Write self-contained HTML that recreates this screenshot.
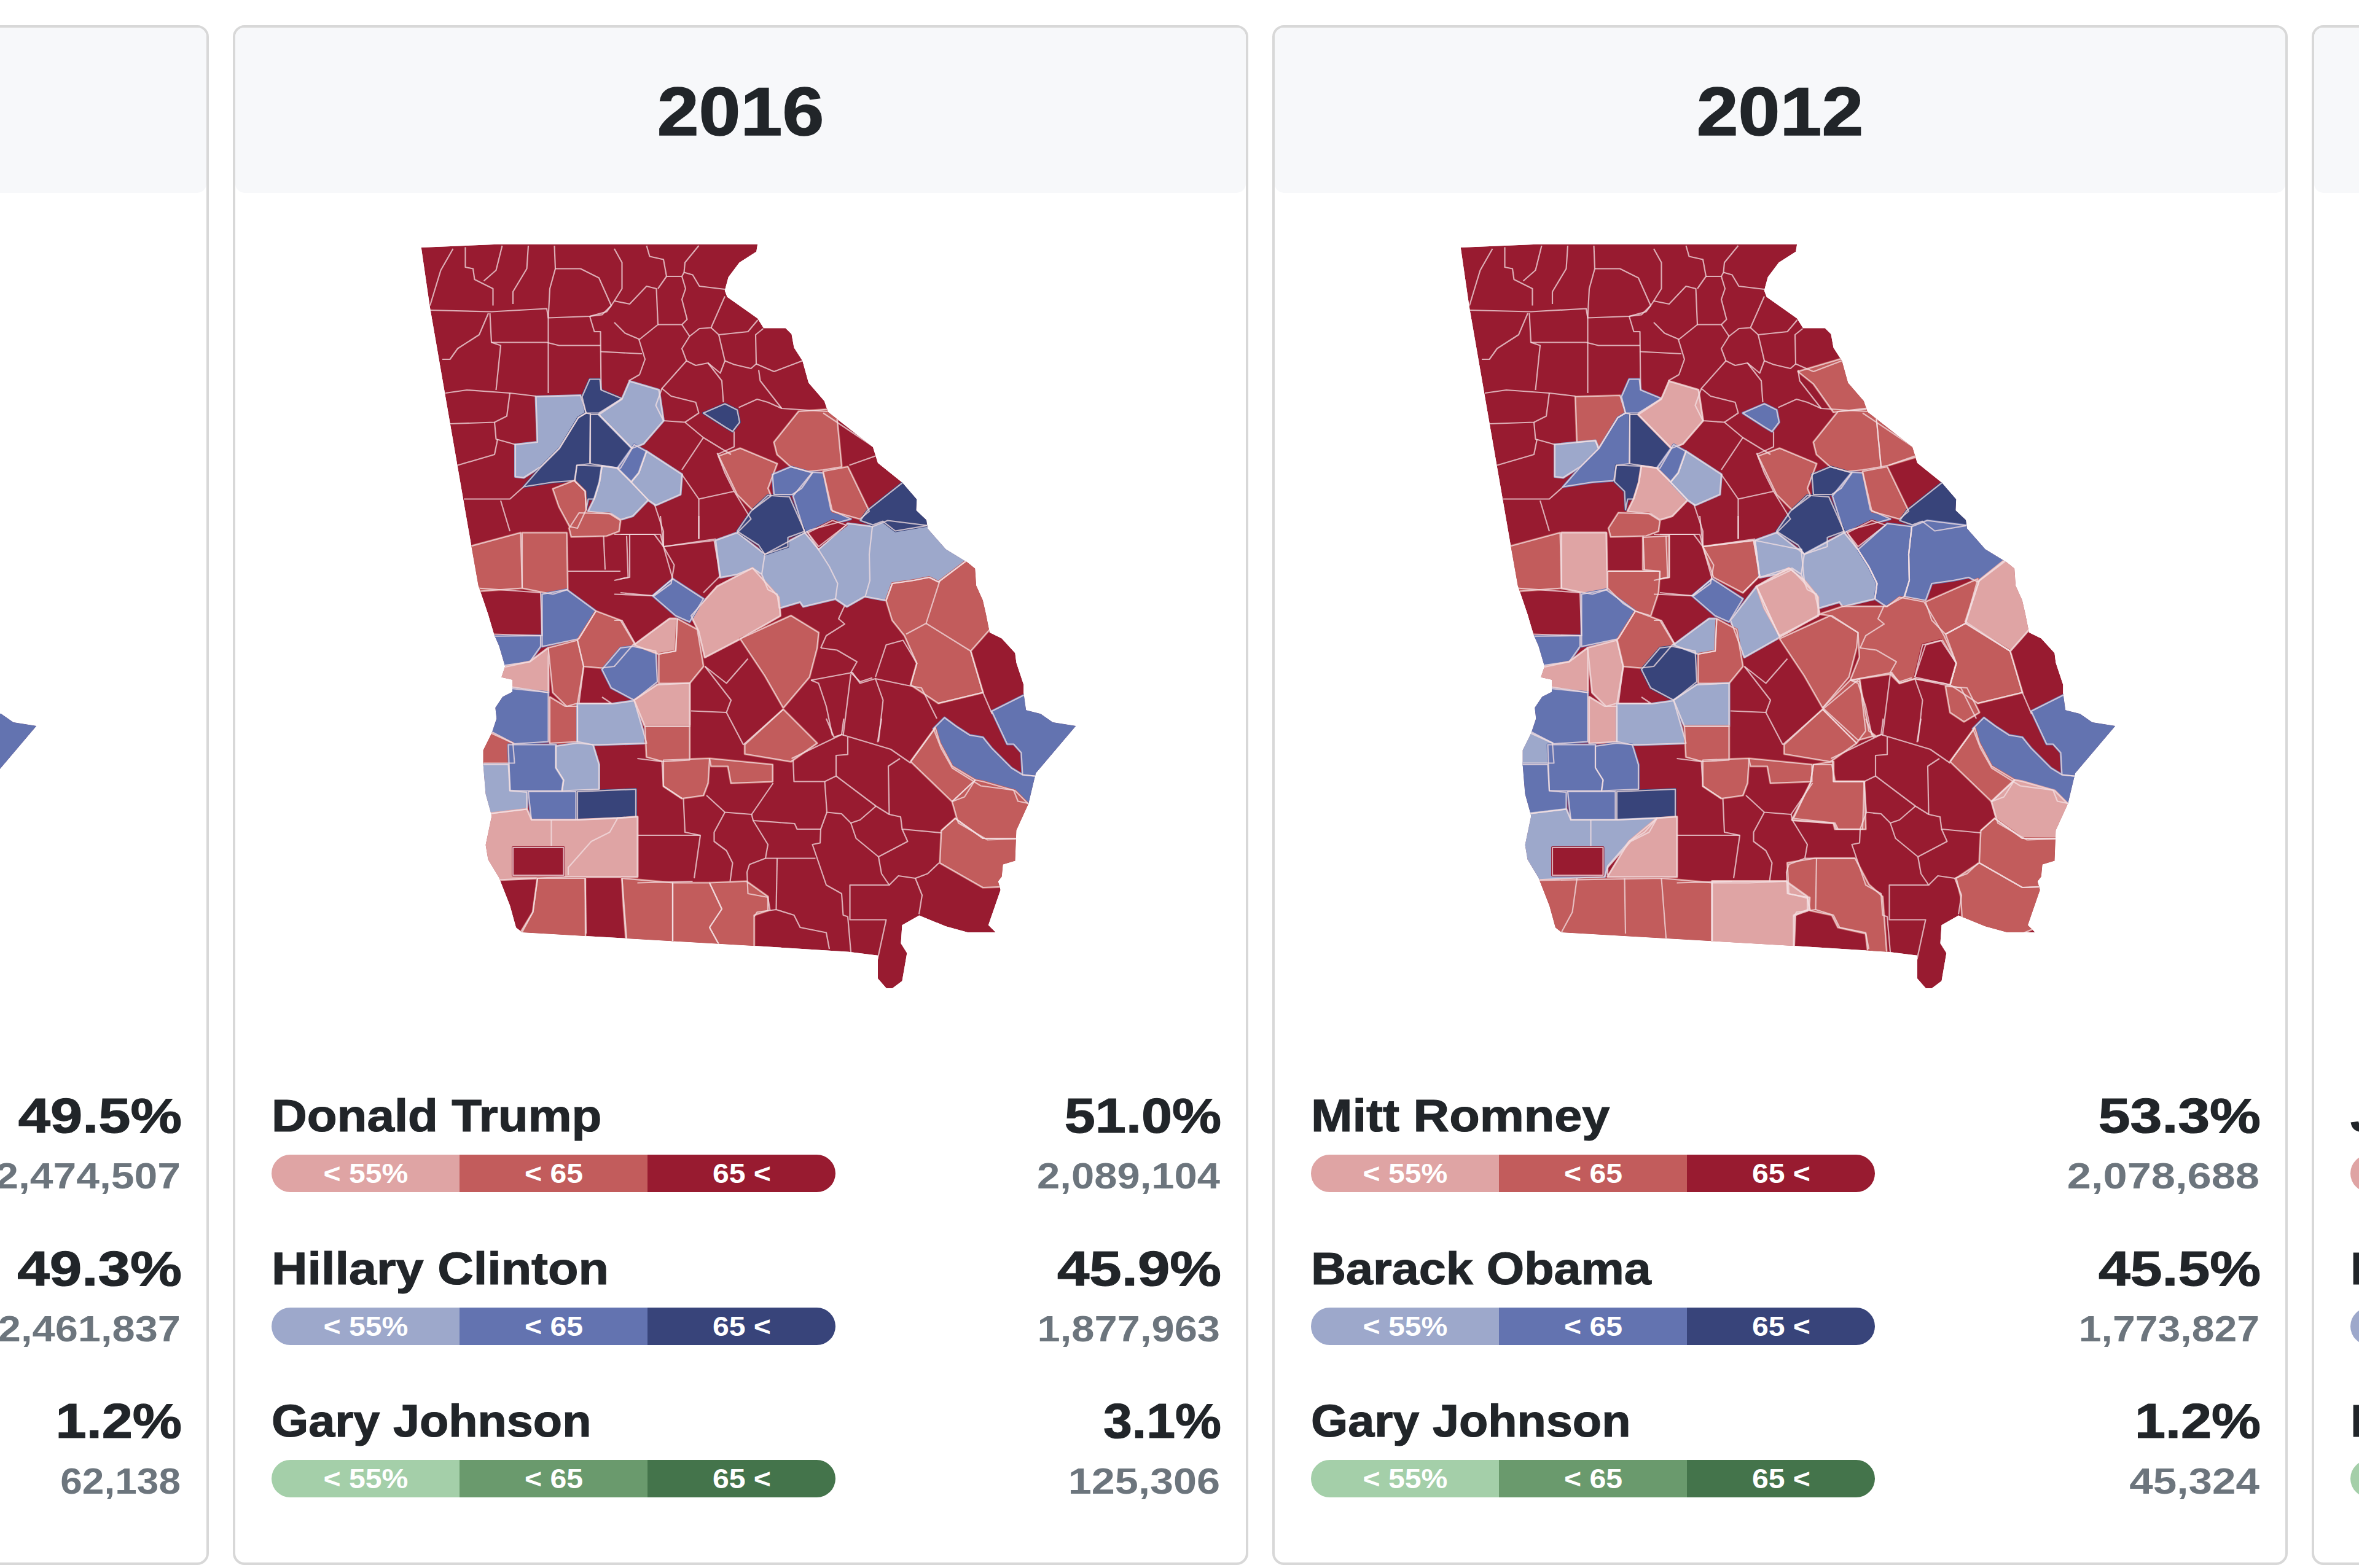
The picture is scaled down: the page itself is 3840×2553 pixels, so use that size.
<!DOCTYPE html>
<html><head><meta charset="utf-8"><style>
*{margin:0;padding:0;box-sizing:border-box}
html,body{width:3840px;height:2553px;overflow:hidden;background:#fff}
body{position:relative;font-family:"Liberation Sans",sans-serif}
.card{position:absolute;top:41px;width:1653px;height:2507px;border:4px solid #d8d8d8;border-radius:19px;background:#fff}
.hdr{position:absolute;top:45px;width:1645px;height:269px;background:#f7f8fa;border-radius:15px}
.year{position:absolute;top:127px;width:1653px;text-align:center;font-weight:bold;font-size:111px;line-height:111px;color:#212529;transform:scaleX(1.1);-webkit-text-stroke:1.5px #212529}
.name{position:absolute;font-weight:bold;font-size:75px;line-height:75px;color:#212529;white-space:nowrap;transform-origin:0 0;-webkit-text-stroke:1.2px #212529}
.pct{position:absolute;width:600px;text-align:right;font-weight:bold;font-size:80px;line-height:80px;color:#212529;white-space:nowrap;transform-origin:100% 0;-webkit-text-stroke:1.2px #212529}
.votes{position:absolute;width:600px;text-align:right;font-weight:bold;font-size:59px;line-height:59px;color:#6c757d;white-space:nowrap;transform-origin:100% 0}
.bar{position:absolute;width:918px;height:61px;border-radius:31px;overflow:hidden;display:flex}
.bar span{flex:1;height:61px;text-align:center;color:#fff;font-size:45px;line-height:61px;white-space:nowrap}
.bar b{display:inline-block;transform:scaleX(1.07);font-weight:bold}
svg.map{position:absolute;left:0;top:0}
</style></head><body>
<div class="card" style="left:-1313px"></div>
<div class="hdr" style="left:-1309px"></div>
<div class="year" style="left:-1313px">2020</div>
<div class="name" style="left:-1250px;top:1779px;transform:scaleX(1.06)">Joe Biden</div>
<div class="pct" style="left:-304px;top:1777px;transform:scaleX(1.174)">49.5%</div>
<div class="votes" style="left:-306px;top:1886px;transform:scaleX(1.15)">2,474,507</div>
<div class="bar" style="left:-1250px;top:1880px"><span style="background:#9da8cb"><b>&lt; 55%</b></span><span style="background:#6373b0"><b>&lt; 65</b></span><span style="background:#38447a"><b>65 &lt;</b></span></div>
<div class="name" style="left:-1250px;top:2027.5px;transform:scaleX(1.066)">Donald Trump</div>
<div class="pct" style="left:-304px;top:2025.5px;transform:scaleX(1.18)">49.3%</div>
<div class="votes" style="left:-306px;top:2134.5px;transform:scaleX(1.132)">2,461,837</div>
<div class="bar" style="left:-1250px;top:2128.5px"><span style="background:#dfa4a4"><b>&lt; 55%</b></span><span style="background:#c25c5c"><b>&lt; 65</b></span><span style="background:#981b30"><b>65 &lt;</b></span></div>
<div class="name" style="left:-1250px;top:2276px;transform:scaleX(1.06)">Jo Jorgensen</div>
<div class="pct" style="left:-304px;top:2274px;transform:scaleX(1.127)">1.2%</div>
<div class="votes" style="left:-306px;top:2383px;transform:scaleX(1.085)">62,138</div>
<div class="bar" style="left:-1250px;top:2377px"><span style="background:#a4cfa9"><b>&lt; 55%</b></span><span style="background:#6a9a6d"><b>&lt; 65</b></span><span style="background:#44744b"><b>65 &lt;</b></span></div><div class="card" style="left:379px"></div>
<div class="hdr" style="left:383px"></div>
<div class="year" style="left:379px">2016</div>
<div class="name" style="left:442px;top:1779px;transform:scaleX(1.066)">Donald Trump</div>
<div class="pct" style="left:1388px;top:1777px;transform:scaleX(1.125)">51.0%</div>
<div class="votes" style="left:1386px;top:1886px;transform:scaleX(1.135)">2,089,104</div>
<div class="bar" style="left:442px;top:1880px"><span style="background:#dfa4a4"><b>&lt; 55%</b></span><span style="background:#c25c5c"><b>&lt; 65</b></span><span style="background:#981b30"><b>65 &lt;</b></span></div>
<div class="name" style="left:442px;top:2027.5px;transform:scaleX(1.08)">Hillary Clinton</div>
<div class="pct" style="left:1388px;top:2025.5px;transform:scaleX(1.177)">45.9%</div>
<div class="votes" style="left:1386px;top:2134.5px;transform:scaleX(1.133)">1,877,963</div>
<div class="bar" style="left:442px;top:2128.5px"><span style="background:#9da8cb"><b>&lt; 55%</b></span><span style="background:#6373b0"><b>&lt; 65</b></span><span style="background:#38447a"><b>65 &lt;</b></span></div>
<div class="name" style="left:442px;top:2276px;transform:scaleX(1.032)">Gary Johnson</div>
<div class="pct" style="left:1388px;top:2274px;transform:scaleX(1.053)">3.1%</div>
<div class="votes" style="left:1386px;top:2383px;transform:scaleX(1.159)">125,306</div>
<div class="bar" style="left:442px;top:2377px"><span style="background:#a4cfa9"><b>&lt; 55%</b></span><span style="background:#6a9a6d"><b>&lt; 65</b></span><span style="background:#44744b"><b>65 &lt;</b></span></div><div class="card" style="left:2071px"></div>
<div class="hdr" style="left:2075px"></div>
<div class="year" style="left:2071px">2012</div>
<div class="name" style="left:2134px;top:1779px;transform:scaleX(1.081)">Mitt Romney</div>
<div class="pct" style="left:3080px;top:1777px;transform:scaleX(1.165)">53.3%</div>
<div class="votes" style="left:3078px;top:1886px;transform:scaleX(1.193)">2,078,688</div>
<div class="bar" style="left:2134px;top:1880px"><span style="background:#dfa4a4"><b>&lt; 55%</b></span><span style="background:#c25c5c"><b>&lt; 65</b></span><span style="background:#981b30"><b>65 &lt;</b></span></div>
<div class="name" style="left:2134px;top:2027.5px;transform:scaleX(1.054)">Barack Obama</div>
<div class="pct" style="left:3080px;top:2025.5px;transform:scaleX(1.164)">45.5%</div>
<div class="votes" style="left:3078px;top:2134.5px;transform:scaleX(1.121)">1,773,827</div>
<div class="bar" style="left:2134px;top:2128.5px"><span style="background:#9da8cb"><b>&lt; 55%</b></span><span style="background:#6373b0"><b>&lt; 65</b></span><span style="background:#38447a"><b>65 &lt;</b></span></div>
<div class="name" style="left:2134px;top:2276px;transform:scaleX(1.032)">Gary Johnson</div>
<div class="pct" style="left:3080px;top:2274px;transform:scaleX(1.124)">1.2%</div>
<div class="votes" style="left:3078px;top:2383px;transform:scaleX(1.173)">45,324</div>
<div class="bar" style="left:2134px;top:2377px"><span style="background:#a4cfa9"><b>&lt; 55%</b></span><span style="background:#6a9a6d"><b>&lt; 65</b></span><span style="background:#44744b"><b>65 &lt;</b></span></div><div class="card" style="left:3763px"></div>
<div class="hdr" style="left:3767px"></div>
<div class="year" style="left:3763px">2008</div>
<div class="name" style="left:3826px;top:1779px;transform:scaleX(1.06)">John McCain</div>
<div class="pct" style="left:4772px;top:1777px;transform:scaleX(1.15)">52.2%</div>
<div class="votes" style="left:4770px;top:1886px;transform:scaleX(1.15)">2,048,759</div>
<div class="bar" style="left:3826px;top:1880px"><span style="background:#dfa4a4"><b>&lt; 55%</b></span><span style="background:#c25c5c"><b>&lt; 65</b></span><span style="background:#981b30"><b>65 &lt;</b></span></div>
<div class="name" style="left:3826px;top:2027.5px;transform:scaleX(1.054)">Barack Obama</div>
<div class="pct" style="left:4772px;top:2025.5px;transform:scaleX(1.15)">47.0%</div>
<div class="votes" style="left:4770px;top:2134.5px;transform:scaleX(1.15)">1,844,123</div>
<div class="bar" style="left:3826px;top:2128.5px"><span style="background:#9da8cb"><b>&lt; 55%</b></span><span style="background:#6373b0"><b>&lt; 65</b></span><span style="background:#38447a"><b>65 &lt;</b></span></div>
<div class="name" style="left:3826px;top:2276px;transform:scaleX(1.06)">Bob Barr</div>
<div class="pct" style="left:4772px;top:2274px;transform:scaleX(1.15)">0.7%</div>
<div class="votes" style="left:4770px;top:2383px;transform:scaleX(1.15)">28,731</div>
<div class="bar" style="left:3826px;top:2377px"><span style="background:#a4cfa9"><b>&lt; 55%</b></span><span style="background:#6a9a6d"><b>&lt; 65</b></span><span style="background:#44744b"><b>65 &lt;</b></span></div>
<svg class="map" width="3840" height="2553" viewBox="0 0 3840 2553"><defs>
<clipPath id="gc0"><polygon points="-1006.3,402.9 -881.7,397.8 -458.8,397.8 -460.8,409.7 -488.5,427.5 -506.3,451.2 -512.2,472.9 -508.3,483.6 -458.8,518.4 -448.9,534.3 -413.3,534.3 -403.5,544.1 -399.5,565.9 -385.7,587.6 -375.8,623.2 -350.1,652.9 -344.1,670.7 -271.0,728.0 -263.0,753.8 -223.5,785.4 -199.8,813.1 -200.6,830.9 -184.0,846.7 -182.0,860.6 -152.3,894.2 -116.7,915.9 -104.8,925.8 -102.9,953.5 -92.2,977.2 -87.0,1000.0 -81.1,1029.7 -61.3,1039.6 -39.6,1063.3 -37.6,1079.1 -25.7,1114.7 -25.7,1128.5 -21.8,1156.2 2.0,1162.2 21.7,1176.0 59.3,1181.9 -6.0,1259.0 -17.8,1308.5 -37.6,1352.0 -39.6,1401.5 -59.4,1407.4 -61.3,1427.2 -67.3,1435.1 -63.3,1448.9 -83.1,1506.3 -71.2,1518.1 -116.7,1518.1 -152.3,1508.2 -195.8,1490.5 -223.5,1506.3 -225.5,1535.9 -215.6,1551.7 -223.5,1597.2 -239.3,1609.1 -249.2,1609.1 -263.0,1593.3 -263.0,1555.7 -310.5,1549.8 -464.8,1539.9 -842.1,1518.1 -852.0,1510.2 -861.9,1474.6 -879.7,1429.1 -897.5,1399.5 -901.5,1375.7 -891.6,1328.3 -901.5,1292.7 -905.4,1245.2 -905.4,1221.5 -891.6,1193.8 -883.7,1170.1 -885.7,1152.3 -873.8,1134.5 -858.0,1126.6 -858.0,1106.8 -875.8,1102.8 -869.8,1085.0 -879.7,1051.4 -887.6,1033.6 -897.5,1000.0 -913.3,953.5 -925.2,886.3 -992.4,498.7"/></clipPath>
<clipPath id="gc1"><polygon points="685.7,402.9 810.3,397.8 1233.2,397.8 1231.2,409.7 1203.5,427.5 1185.7,451.2 1179.8,472.9 1183.7,483.6 1233.2,518.4 1243.1,534.3 1278.7,534.3 1288.5,544.1 1292.5,565.9 1306.3,587.6 1316.2,623.2 1341.9,652.9 1347.9,670.7 1421.0,728.0 1429.0,753.8 1468.5,785.4 1492.2,813.1 1491.4,830.9 1508.0,846.7 1510.0,860.6 1539.7,894.2 1575.3,915.9 1587.2,925.8 1589.1,953.5 1599.8,977.2 1605.0,1000.0 1610.9,1029.7 1630.7,1039.6 1652.4,1063.3 1654.4,1079.1 1666.3,1114.7 1666.3,1128.5 1670.2,1156.2 1694.0,1162.2 1713.7,1176.0 1751.3,1181.9 1686.0,1259.0 1674.2,1308.5 1654.4,1352.0 1652.4,1401.5 1632.6,1407.4 1630.7,1427.2 1624.7,1435.1 1628.7,1448.9 1608.9,1506.3 1620.8,1518.1 1575.3,1518.1 1539.7,1508.2 1496.2,1490.5 1468.5,1506.3 1466.5,1535.9 1476.4,1551.7 1468.5,1597.2 1452.7,1609.1 1442.8,1609.1 1429.0,1593.3 1429.0,1555.7 1381.5,1549.8 1227.2,1539.9 849.9,1518.1 840.0,1510.2 830.1,1474.6 812.3,1429.1 794.5,1399.5 790.5,1375.7 800.4,1328.3 790.5,1292.7 786.6,1245.2 786.6,1221.5 800.4,1193.8 808.3,1170.1 806.3,1152.3 818.2,1134.5 834.0,1126.6 834.0,1106.8 816.2,1102.8 822.2,1085.0 812.3,1051.4 804.4,1033.6 794.5,1000.0 778.7,953.5 766.8,886.3 699.6,498.7"/></clipPath>
<clipPath id="gc2"><polygon points="2377.7,402.9 2502.3,397.8 2925.2,397.8 2923.2,409.7 2895.5,427.5 2877.7,451.2 2871.8,472.9 2875.7,483.6 2925.2,518.4 2935.1,534.3 2970.7,534.3 2980.5,544.1 2984.5,565.9 2998.3,587.6 3008.2,623.2 3033.9,652.9 3039.9,670.7 3113.0,728.0 3121.0,753.8 3160.5,785.4 3184.2,813.1 3183.4,830.9 3200.0,846.7 3202.0,860.6 3231.7,894.2 3267.3,915.9 3279.2,925.8 3281.1,953.5 3291.8,977.2 3297.0,1000.0 3302.9,1029.7 3322.7,1039.6 3344.4,1063.3 3346.4,1079.1 3358.3,1114.7 3358.3,1128.5 3362.2,1156.2 3386.0,1162.2 3405.7,1176.0 3443.3,1181.9 3378.0,1259.0 3366.2,1308.5 3346.4,1352.0 3344.4,1401.5 3324.6,1407.4 3322.7,1427.2 3316.7,1435.1 3320.7,1448.9 3300.9,1506.3 3312.8,1518.1 3267.3,1518.1 3231.7,1508.2 3188.2,1490.5 3160.5,1506.3 3158.5,1535.9 3168.4,1551.7 3160.5,1597.2 3144.7,1609.1 3134.8,1609.1 3121.0,1593.3 3121.0,1555.7 3073.5,1549.8 2919.2,1539.9 2541.9,1518.1 2532.0,1510.2 2522.1,1474.6 2504.3,1429.1 2486.5,1399.5 2482.5,1375.7 2492.4,1328.3 2482.5,1292.7 2478.6,1245.2 2478.6,1221.5 2492.4,1193.8 2500.3,1170.1 2498.3,1152.3 2510.2,1134.5 2526.0,1126.6 2526.0,1106.8 2508.2,1102.8 2514.2,1085.0 2504.3,1051.4 2496.4,1033.6 2486.5,1000.0 2470.7,953.5 2458.8,886.3 2391.6,498.7"/></clipPath>
</defs>
<g clip-path="url(#gc0)"><polygon points="-1006.3,402.9 -881.7,397.8 -458.8,397.8 -460.8,409.7 -488.5,427.5 -506.3,451.2 -512.2,472.9 -508.3,483.6 -458.8,518.4 -448.9,534.3 -413.3,534.3 -403.5,544.1 -399.5,565.9 -385.7,587.6 -375.8,623.2 -350.1,652.9 -344.1,670.7 -271.0,728.0 -263.0,753.8 -223.5,785.4 -199.8,813.1 -200.6,830.9 -184.0,846.7 -182.0,860.6 -152.3,894.2 -116.7,915.9 -104.8,925.8 -102.9,953.5 -92.2,977.2 -87.0,1000.0 -81.1,1029.7 -61.3,1039.6 -39.6,1063.3 -37.6,1079.1 -25.7,1114.7 -25.7,1128.5 -21.8,1156.2 2.0,1162.2 21.7,1176.0 59.3,1181.9 -6.0,1259.0 -17.8,1308.5 -37.6,1352.0 -39.6,1401.5 -59.4,1407.4 -61.3,1427.2 -67.3,1435.1 -63.3,1448.9 -83.1,1506.3 -71.2,1518.1 -116.7,1518.1 -152.3,1508.2 -195.8,1490.5 -223.5,1506.3 -225.5,1535.9 -215.6,1551.7 -223.5,1597.2 -239.3,1609.1 -249.2,1609.1 -263.0,1593.3 -263.0,1555.7 -310.5,1549.8 -464.8,1539.9 -842.1,1518.1 -852.0,1510.2 -861.9,1474.6 -879.7,1429.1 -897.5,1399.5 -901.5,1375.7 -891.6,1328.3 -901.5,1292.7 -905.4,1245.2 -905.4,1221.5 -891.6,1193.8 -883.7,1170.1 -885.7,1152.3 -873.8,1134.5 -858.0,1126.6 -858.0,1106.8 -875.8,1102.8 -869.8,1085.0 -879.7,1051.4 -887.6,1033.6 -897.5,1000.0 -913.3,953.5 -925.2,886.3 -992.4,498.7" fill="#981b30"/>
<polygon points="-819.5,646.0 -747.0,644.0 -738.0,672.5 -750.5,680.0 -782.0,730.0 -812.0,760.0 -839.5,777.5 -853.0,776.0 -853.0,724.0 -817.0,720.0" fill="#9da8cb" stroke="#9da8cb" stroke-width="4" stroke-linejoin="round"/>
<polygon points="-744.5,646.0 -732.0,617.5 -715.5,617.5 -713.5,635.0 -679.5,649.0 -717.0,672.5 -738.0,672.5" fill="#38447a" stroke="#38447a" stroke-width="4" stroke-linejoin="round"/>
<polygon points="-839.5,792.5 -812.0,761.0 -781.0,730.0 -750.5,680.0 -738.0,672.5 -731.0,674.0 -732.0,755.0 -753.0,757.5 -757.0,782.5 -792.0,785.0" fill="#38447a" stroke="#38447a" stroke-width="4" stroke-linejoin="round"/>
<polygon points="-731.0,675.0 -717.0,675.0 -663.0,730.0 -682.0,762.5 -731.0,755.0" fill="#38447a" stroke="#38447a" stroke-width="4" stroke-linejoin="round"/>
<polygon points="-753.0,757.5 -712.0,759.0 -716.0,785.0 -724.5,812.5 -734.5,812.5 -738.0,830.0 -739.5,800.0 -756.0,784.0" fill="#38447a" stroke="#38447a" stroke-width="4" stroke-linejoin="round"/>
<polygon points="-717.0,675.0 -679.5,650.0 -667.0,621.0 -619.5,635.0 -612.0,685.0 -644.5,722.5 -663.0,730.0" fill="#9da8cb" stroke="#9da8cb" stroke-width="4" stroke-linejoin="round"/>
<polygon points="-687.0,762.5 -659.5,724.0 -639.5,735.0 -652.0,770.0 -664.5,785.0" fill="#6373b0" stroke="#6373b0" stroke-width="4" stroke-linejoin="round"/>
<polygon points="-712.0,759.0 -687.0,762.5 -664.5,785.0 -637.0,814.0 -662.0,840.0 -682.0,846.0 -697.0,836.5 -734.5,832.5 -724.5,812.5 -716.0,785.0" fill="#9da8cb" stroke="#9da8cb" stroke-width="4" stroke-linejoin="round"/>
<polygon points="-664.5,785.0 -652.0,770.0 -639.5,735.0 -582.0,772.5 -584.5,805.0 -624.5,822.5 -637.0,814.0" fill="#9da8cb" stroke="#9da8cb" stroke-width="4" stroke-linejoin="round"/>
<polygon points="-792.0,796.0 -757.0,782.5 -739.5,800.0 -738.0,830.0 -752.0,860.0 -764.5,857.5 -782.0,825.0" fill="#c25c5c" stroke="#c25c5c" stroke-width="4" stroke-linejoin="round"/>
<polygon points="-749.5,835.0 -699.5,836.5 -682.0,847.5 -684.5,865.0 -704.5,872.5 -762.0,874.0 -765.5,860.0" fill="#c25c5c" stroke="#c25c5c" stroke-width="4" stroke-linejoin="round"/>
<polygon points="-547.0,672.5 -512.0,657.5 -492.0,667.5 -488.0,687.5 -499.5,702.5 -512.0,695.0" fill="#38447a" stroke="#38447a" stroke-width="4" stroke-linejoin="round"/>
<polygon points="-522.0,742.5 -487.0,730.0 -427.0,755.0 -442.0,795.0 -437.0,807.5 -467.0,830.0 -492.0,805.0" fill="#c25c5c" stroke="#c25c5c" stroke-width="4" stroke-linejoin="round"/>
<polygon points="-432.0,720.0 -392.0,670.0 -331.1,665.5 -322.0,760.0 -352.0,765.0 -377.0,767.5 -404.5,760.0 -427.0,740.0" fill="#c25c5c" stroke="#c25c5c" stroke-width="4" stroke-linejoin="round"/>
<polygon points="-434.5,772.5 -404.5,760.0 -369.5,770.0 -387.0,795.0 -402.0,805.0 -432.0,805.0" fill="#6373b0" stroke="#6373b0" stroke-width="4" stroke-linejoin="round"/>
<polygon points="-401.0,807.5 -369.5,769.0 -352.0,770.0 -339.5,830.0 -307.0,845.0 -372.0,862.5 -382.0,867.5" fill="#6373b0" stroke="#6373b0" stroke-width="4" stroke-linejoin="round"/>
<polygon points="-352.0,767.5 -312.0,760.0 -277.0,832.5 -292.0,845.0 -337.0,832.5" fill="#c25c5c" stroke="#c25c5c" stroke-width="4" stroke-linejoin="round"/>
<polygon points="-527.0,880.0 -492.0,867.5 -447.0,902.5 -382.0,867.5 -359.5,895.0 -312.0,852.5 -272.0,857.5 -247.0,847.5 -168.3,857.3 -148.4,877.4 -108.1,904.8 -164.5,947.5 -179.5,940.0 -204.5,945.0 -239.5,950.0 -249.5,977.5 -284.5,971.0 -313.5,987.5 -332.0,975.0 -384.5,987.5 -389.5,980.0 -423.5,990.0 -427.0,967.5 -442.0,960.0 -452.0,935.0 -467.0,925.0 -492.0,935.0 -519.5,940.0" fill="#9da8cb" stroke="#9da8cb" stroke-width="4" stroke-linejoin="round"/>
<polygon points="-279.7,830.9 -212.0,777.3 -186.3,809.5 -187.1,827.3 -170.5,843.1 -169.9,853.6 -234.6,864.5 -255.1,848.7 -271.0,854.6 -291.5,847.5" fill="#38447a" stroke="#38447a" stroke-width="4" stroke-linejoin="round"/>
<polygon points="-492.0,865.0 -469.5,832.5 -442.0,806.5 -407.0,809.0 -382.0,865.0 -409.5,875.0 -409.5,890.0 -447.0,902.5 -457.0,887.5" fill="#38447a" stroke="#38447a" stroke-width="4" stroke-linejoin="round"/>
<polygon points="-377.0,867.5 -337.0,847.5 -314.5,855.0 -359.5,890.0" fill="#981b30" stroke="#981b30" stroke-width="4" stroke-linejoin="round"/>
<polygon points="-249.5,977.5 -239.5,950.0 -204.5,945.0 -179.5,940.0 -164.5,947.5 -108.1,904.8 -89.5,944.7 -75.4,987.9 -74.4,1017.4 -112.0,1060.0 -92.0,1127.5 -164.5,1145.0 -209.5,1115.0 -199.5,1080.0 -219.5,1035.0 -239.5,1010.0" fill="#c25c5c" stroke="#c25c5c" stroke-width="4" stroke-linejoin="round"/>
<polygon points="-77.5,1158.0 -11.7,1125.0 -11.7,1120.0 8.2,1149.6 73.0,1170.0 73.0,1185.0 6.9,1265.1 -27.5,1261.5 -29.5,1225.5 -42.0,1211.5 -52.5,1211.5" fill="#6373b0" stroke="#6373b0" stroke-width="4" stroke-linejoin="round"/>
<polygon points="-172.5,1186.5 -154.5,1168.5 -135.0,1183.0 -113.5,1197.0 -92.0,1200.5 -77.5,1218.5 -45.5,1250.5 -27.5,1261.5 6.9,1265.1 -4.0,1311.1 -35.0,1304.5 -42.0,1286.5 -95.5,1279.5 -142.0,1250.5 -160.0,1218.5" fill="#6373b0" stroke="#6373b0" stroke-width="4" stroke-linejoin="round"/>
<polygon points="-209.5,1240.0 -169.5,1185.0 -162.0,1210.0 -142.0,1247.5 -104.5,1270.0 -122.0,1297.5 -142.0,1305.0" fill="#c25c5c" stroke="#c25c5c" stroke-width="4" stroke-linejoin="round"/>
<polygon points="-142.0,1305.0 -104.5,1270.0 -92.0,1272.5 -39.5,1287.5 -7.5,1319.5 -24.1,1365.5 -84.5,1367.5 -132.0,1340.0" fill="#c25c5c" stroke="#c25c5c" stroke-width="4" stroke-linejoin="round"/>
<polygon points="-159.5,1352.5 -137.0,1332.5 -92.0,1365.0 -24.1,1365.5 -43.4,1417.2 -46.7,1421.5 -50.3,1443.4 -92.0,1445.0 -162.0,1405.0" fill="#c25c5c" stroke="#c25c5c" stroke-width="4" stroke-linejoin="round"/>
<polygon points="-938.2,892.7 -844.5,867.5 -842.0,957.5 -924.7,963.5" fill="#c25c5c" stroke="#c25c5c" stroke-width="4" stroke-linejoin="round"/>
<polygon points="-842.0,867.5 -769.5,867.5 -768.0,960.0 -792.0,967.5 -842.0,957.5" fill="#c25c5c" stroke="#c25c5c" stroke-width="4" stroke-linejoin="round"/>
<polygon points="-809.5,967.5 -769.5,960.0 -722.0,995.0 -749.5,1040.0 -809.5,1052.5" fill="#6373b0" stroke="#6373b0" stroke-width="4" stroke-linejoin="round"/>
<polygon points="-901.5,1036.0 -812.0,1035.0 -812.0,1052.5 -829.5,1077.5 -883.8,1085.0" fill="#6373b0" stroke="#6373b0" stroke-width="4" stroke-linejoin="round"/>
<polygon points="-889.4,1099.4 -883.3,1088.8 -829.5,1077.5 -799.5,1055.0 -799.5,1127.5 -868.4,1117.2 -872.0,1110.0" fill="#dfa4a4" stroke="#dfa4a4" stroke-width="4" stroke-linejoin="round"/>
<polygon points="-799.5,1055.0 -752.0,1042.5 -742.0,1085.0 -752.0,1145.0 -769.5,1150.0 -792.0,1127.5" fill="#c25c5c" stroke="#c25c5c" stroke-width="4" stroke-linejoin="round"/>
<polygon points="-752.0,1042.5 -722.0,995.0 -682.0,1010.0 -659.5,1047.5 -692.0,1085.0 -712.0,1087.5 -742.0,1085.0" fill="#c25c5c" stroke="#c25c5c" stroke-width="4" stroke-linejoin="round"/>
<polygon points="-712.0,1090.0 -682.0,1055.0 -662.0,1052.5 -624.5,1060.0 -622.0,1110.0 -659.5,1140.0 -697.0,1120.0" fill="#6373b0" stroke="#6373b0" stroke-width="4" stroke-linejoin="round"/>
<polygon points="-659.5,1050.0 -602.0,1007.5 -589.5,1007.5 -592.0,1060.0 -619.5,1065.0" fill="#dfa4a4" stroke="#dfa4a4" stroke-width="4" stroke-linejoin="round"/>
<polygon points="-619.5,1065.0 -592.0,1060.0 -589.5,1007.5 -557.0,1025.0 -547.0,1085.0 -569.5,1112.5 -619.5,1112.5" fill="#c25c5c" stroke="#c25c5c" stroke-width="4" stroke-linejoin="round"/>
<polygon points="-567.0,1002.5 -524.5,955.0 -467.0,925.0 -424.5,972.5 -422.0,1002.5 -487.0,1040.0 -544.5,1070.0 -554.5,1027.5" fill="#dfa4a4" stroke="#dfa4a4" stroke-width="4" stroke-linejoin="round"/>
<polygon points="-629.5,970.0 -597.0,942.5 -547.0,975.0 -569.5,1012.5 -592.0,1002.5" fill="#6373b0" stroke="#6373b0" stroke-width="4" stroke-linejoin="round"/>
<polygon points="-487.0,1040.0 -404.5,1002.5 -359.5,1030.0 -362.0,1055.0 -374.5,1102.5 -417.0,1152.5 -447.0,1100.0" fill="#c25c5c" stroke="#c25c5c" stroke-width="4" stroke-linejoin="round"/>
<polygon points="-896.4,1143.2 -874.8,1119.4 -799.5,1127.5 -799.5,1207.5 -854.5,1211.0 -903.5,1185.3" fill="#6373b0" stroke="#6373b0" stroke-width="4" stroke-linejoin="round"/>
<polygon points="-797.0,1135.0 -772.0,1150.0 -752.0,1150.0 -752.0,1207.5 -797.0,1210.0" fill="#c25c5c" stroke="#c25c5c" stroke-width="4" stroke-linejoin="round"/>
<polygon points="-752.0,1146.0 -694.5,1146.0 -659.5,1141.0 -639.5,1210.0 -717.0,1212.5 -727.0,1212.5 -752.0,1207.5" fill="#9da8cb" stroke="#9da8cb" stroke-width="4" stroke-linejoin="round"/>
<polygon points="-659.5,1140.0 -622.0,1115.0 -569.5,1112.5 -569.5,1182.5 -642.0,1182.5" fill="#dfa4a4" stroke="#dfa4a4" stroke-width="4" stroke-linejoin="round"/>
<polygon points="-642.0,1182.5 -569.5,1182.5 -569.5,1237.5 -612.0,1240.0 -639.5,1232.5" fill="#c25c5c" stroke="#c25c5c" stroke-width="4" stroke-linejoin="round"/>
<polygon points="-917.7,1214.7 -904.5,1188.3 -857.0,1210.0 -854.5,1242.5 -919.4,1242.5" fill="#c25c5c" stroke="#c25c5c" stroke-width="4" stroke-linejoin="round"/>
<polygon points="-864.5,1212.5 -787.0,1212.5 -787.0,1250.0 -774.5,1270.0 -777.0,1287.5 -862.0,1287.5" fill="#6373b0" stroke="#6373b0" stroke-width="4" stroke-linejoin="round"/>
<polygon points="-787.0,1215.0 -752.0,1210.0 -727.0,1212.5 -717.0,1245.0 -717.0,1285.0 -777.0,1287.5 -774.5,1270.0 -787.0,1250.0" fill="#9da8cb" stroke="#9da8cb" stroke-width="4" stroke-linejoin="round"/>
<polygon points="-919.4,1245.0 -864.5,1245.0 -862.0,1287.5 -834.5,1290.0 -834.5,1317.5 -906.7,1326.2 -916.0,1287.2" fill="#9da8cb" stroke="#9da8cb" stroke-width="4" stroke-linejoin="round"/>
<polygon points="-832.0,1289.0 -754.5,1289.0 -754.5,1335.0 -827.0,1335.0" fill="#6373b0" stroke="#6373b0" stroke-width="4" stroke-linejoin="round"/>
<polygon points="-752.0,1289.0 -657.0,1285.0 -657.0,1330.0 -752.0,1335.0" fill="#38447a" stroke="#38447a" stroke-width="4" stroke-linejoin="round"/>
<polygon points="-906.7,1326.2 -834.5,1317.5 -827.0,1335.0 -752.0,1335.0 -687.0,1332.5 -654.5,1330.0 -654.5,1427.5 -767.0,1427.5 -893.7,1433.0 -914.5,1382.5" fill="#dfa4a4" stroke="#dfa4a4" stroke-width="4" stroke-linejoin="round"/>
<polygon points="-857.0,1380.0 -774.5,1380.0 -774.5,1425.0 -857.0,1425.0" fill="#981b30" stroke="#981b30" stroke-width="4" stroke-linejoin="round"/>
<polygon points="-851.1,1528.9 -824.5,1485.0 -817.0,1430.0 -739.5,1430.0 -739.0,1538.1" fill="#c25c5c" stroke="#c25c5c" stroke-width="4" stroke-linejoin="round"/>
<polygon points="-679.5,1430.0 -597.0,1437.5 -597.0,1546.3 -672.0,1541.9 -677.0,1475.0" fill="#c25c5c" stroke="#c25c5c" stroke-width="4" stroke-linejoin="round"/>
<polygon points="-597.0,1437.5 -537.0,1437.5 -517.0,1480.0 -537.0,1510.0 -514.5,1551.0 -597.0,1546.3" fill="#c25c5c" stroke="#c25c5c" stroke-width="4" stroke-linejoin="round"/>
<polygon points="-537.0,1437.5 -477.0,1435.0 -442.0,1460.0 -442.0,1482.5 -464.5,1490.0 -464.5,1553.9 -514.5,1551.0 -537.0,1510.0 -517.0,1480.0" fill="#c25c5c" stroke="#c25c5c" stroke-width="4" stroke-linejoin="round"/>
<polygon points="-479.5,1212.5 -417.0,1155.0 -362.0,1210.0 -404.5,1240.0 -479.5,1227.5" fill="#c25c5c" stroke="#c25c5c" stroke-width="4" stroke-linejoin="round"/>
<polygon points="-612.0,1237.5 -537.0,1235.0 -539.5,1275.0 -547.0,1295.0 -582.0,1300.0 -612.0,1280.0" fill="#c25c5c" stroke="#c25c5c" stroke-width="4" stroke-linejoin="round"/>
<polygon points="-537.0,1235.0 -434.5,1245.0 -434.5,1272.5 -502.0,1275.0 -507.0,1247.5 -534.5,1247.5" fill="#c25c5c" stroke="#c25c5c" stroke-width="4" stroke-linejoin="round"/>
<polygon points="-819.5,646.0 -747.0,644.0 -738.0,672.5 -750.5,680.0 -782.0,730.0 -812.0,760.0 -839.5,777.5 -853.0,776.0 -853.0,724.0 -817.0,720.0" fill="none" stroke="#f3dfe2" stroke-opacity="0.75" stroke-width="2.2" stroke-linejoin="round"/>
<polygon points="-744.5,646.0 -732.0,617.5 -715.5,617.5 -713.5,635.0 -679.5,649.0 -717.0,672.5 -738.0,672.5" fill="none" stroke="#f3dfe2" stroke-opacity="0.75" stroke-width="2.2" stroke-linejoin="round"/>
<polygon points="-839.5,792.5 -812.0,761.0 -781.0,730.0 -750.5,680.0 -738.0,672.5 -731.0,674.0 -732.0,755.0 -753.0,757.5 -757.0,782.5 -792.0,785.0" fill="none" stroke="#f3dfe2" stroke-opacity="0.75" stroke-width="2.2" stroke-linejoin="round"/>
<polygon points="-731.0,675.0 -717.0,675.0 -663.0,730.0 -682.0,762.5 -731.0,755.0" fill="none" stroke="#f3dfe2" stroke-opacity="0.75" stroke-width="2.2" stroke-linejoin="round"/>
<polygon points="-753.0,757.5 -712.0,759.0 -716.0,785.0 -724.5,812.5 -734.5,812.5 -738.0,830.0 -739.5,800.0 -756.0,784.0" fill="none" stroke="#f3dfe2" stroke-opacity="0.75" stroke-width="2.2" stroke-linejoin="round"/>
<polygon points="-717.0,675.0 -679.5,650.0 -667.0,621.0 -619.5,635.0 -612.0,685.0 -644.5,722.5 -663.0,730.0" fill="none" stroke="#f3dfe2" stroke-opacity="0.75" stroke-width="2.2" stroke-linejoin="round"/>
<polygon points="-687.0,762.5 -659.5,724.0 -639.5,735.0 -652.0,770.0 -664.5,785.0" fill="none" stroke="#f3dfe2" stroke-opacity="0.75" stroke-width="2.2" stroke-linejoin="round"/>
<polygon points="-712.0,759.0 -687.0,762.5 -664.5,785.0 -637.0,814.0 -662.0,840.0 -682.0,846.0 -697.0,836.5 -734.5,832.5 -724.5,812.5 -716.0,785.0" fill="none" stroke="#f3dfe2" stroke-opacity="0.75" stroke-width="2.2" stroke-linejoin="round"/>
<polygon points="-664.5,785.0 -652.0,770.0 -639.5,735.0 -582.0,772.5 -584.5,805.0 -624.5,822.5 -637.0,814.0" fill="none" stroke="#f3dfe2" stroke-opacity="0.75" stroke-width="2.2" stroke-linejoin="round"/>
<polygon points="-792.0,796.0 -757.0,782.5 -739.5,800.0 -738.0,830.0 -752.0,860.0 -764.5,857.5 -782.0,825.0" fill="none" stroke="#f3dfe2" stroke-opacity="0.75" stroke-width="2.2" stroke-linejoin="round"/>
<polygon points="-749.5,835.0 -699.5,836.5 -682.0,847.5 -684.5,865.0 -704.5,872.5 -762.0,874.0 -765.5,860.0" fill="none" stroke="#f3dfe2" stroke-opacity="0.75" stroke-width="2.2" stroke-linejoin="round"/>
<polygon points="-547.0,672.5 -512.0,657.5 -492.0,667.5 -488.0,687.5 -499.5,702.5 -512.0,695.0" fill="none" stroke="#f3dfe2" stroke-opacity="0.75" stroke-width="2.2" stroke-linejoin="round"/>
<polygon points="-522.0,742.5 -487.0,730.0 -427.0,755.0 -442.0,795.0 -437.0,807.5 -467.0,830.0 -492.0,805.0" fill="none" stroke="#f3dfe2" stroke-opacity="0.75" stroke-width="2.2" stroke-linejoin="round"/>
<polygon points="-432.0,720.0 -392.0,670.0 -331.1,665.5 -322.0,760.0 -352.0,765.0 -377.0,767.5 -404.5,760.0 -427.0,740.0" fill="none" stroke="#f3dfe2" stroke-opacity="0.75" stroke-width="2.2" stroke-linejoin="round"/>
<polygon points="-434.5,772.5 -404.5,760.0 -369.5,770.0 -387.0,795.0 -402.0,805.0 -432.0,805.0" fill="none" stroke="#f3dfe2" stroke-opacity="0.75" stroke-width="2.2" stroke-linejoin="round"/>
<polygon points="-401.0,807.5 -369.5,769.0 -352.0,770.0 -339.5,830.0 -307.0,845.0 -372.0,862.5 -382.0,867.5" fill="none" stroke="#f3dfe2" stroke-opacity="0.75" stroke-width="2.2" stroke-linejoin="round"/>
<polygon points="-352.0,767.5 -312.0,760.0 -277.0,832.5 -292.0,845.0 -337.0,832.5" fill="none" stroke="#f3dfe2" stroke-opacity="0.75" stroke-width="2.2" stroke-linejoin="round"/>
<polygon points="-527.0,880.0 -492.0,867.5 -447.0,902.5 -382.0,867.5 -359.5,895.0 -312.0,852.5 -272.0,857.5 -247.0,847.5 -168.3,857.3 -148.4,877.4 -108.1,904.8 -164.5,947.5 -179.5,940.0 -204.5,945.0 -239.5,950.0 -249.5,977.5 -284.5,971.0 -313.5,987.5 -332.0,975.0 -384.5,987.5 -389.5,980.0 -423.5,990.0 -427.0,967.5 -442.0,960.0 -452.0,935.0 -467.0,925.0 -492.0,935.0 -519.5,940.0" fill="none" stroke="#f3dfe2" stroke-opacity="0.75" stroke-width="2.2" stroke-linejoin="round"/>
<polygon points="-279.7,830.9 -212.0,777.3 -186.3,809.5 -187.1,827.3 -170.5,843.1 -169.9,853.6 -234.6,864.5 -255.1,848.7 -271.0,854.6 -291.5,847.5" fill="none" stroke="#f3dfe2" stroke-opacity="0.75" stroke-width="2.2" stroke-linejoin="round"/>
<polygon points="-492.0,865.0 -469.5,832.5 -442.0,806.5 -407.0,809.0 -382.0,865.0 -409.5,875.0 -409.5,890.0 -447.0,902.5 -457.0,887.5" fill="none" stroke="#f3dfe2" stroke-opacity="0.75" stroke-width="2.2" stroke-linejoin="round"/>
<polygon points="-377.0,867.5 -337.0,847.5 -314.5,855.0 -359.5,890.0" fill="none" stroke="#f3dfe2" stroke-opacity="0.75" stroke-width="2.2" stroke-linejoin="round"/>
<polygon points="-249.5,977.5 -239.5,950.0 -204.5,945.0 -179.5,940.0 -164.5,947.5 -108.1,904.8 -89.5,944.7 -75.4,987.9 -74.4,1017.4 -112.0,1060.0 -92.0,1127.5 -164.5,1145.0 -209.5,1115.0 -199.5,1080.0 -219.5,1035.0 -239.5,1010.0" fill="none" stroke="#f3dfe2" stroke-opacity="0.75" stroke-width="2.2" stroke-linejoin="round"/>
<polygon points="-77.5,1158.0 -11.7,1125.0 -11.7,1120.0 8.2,1149.6 73.0,1170.0 73.0,1185.0 6.9,1265.1 -27.5,1261.5 -29.5,1225.5 -42.0,1211.5 -52.5,1211.5" fill="none" stroke="#f3dfe2" stroke-opacity="0.75" stroke-width="2.2" stroke-linejoin="round"/>
<polygon points="-172.5,1186.5 -154.5,1168.5 -135.0,1183.0 -113.5,1197.0 -92.0,1200.5 -77.5,1218.5 -45.5,1250.5 -27.5,1261.5 6.9,1265.1 -4.0,1311.1 -35.0,1304.5 -42.0,1286.5 -95.5,1279.5 -142.0,1250.5 -160.0,1218.5" fill="none" stroke="#f3dfe2" stroke-opacity="0.75" stroke-width="2.2" stroke-linejoin="round"/>
<polygon points="-209.5,1240.0 -169.5,1185.0 -162.0,1210.0 -142.0,1247.5 -104.5,1270.0 -122.0,1297.5 -142.0,1305.0" fill="none" stroke="#f3dfe2" stroke-opacity="0.75" stroke-width="2.2" stroke-linejoin="round"/>
<polygon points="-142.0,1305.0 -104.5,1270.0 -92.0,1272.5 -39.5,1287.5 -7.5,1319.5 -24.1,1365.5 -84.5,1367.5 -132.0,1340.0" fill="none" stroke="#f3dfe2" stroke-opacity="0.75" stroke-width="2.2" stroke-linejoin="round"/>
<polygon points="-159.5,1352.5 -137.0,1332.5 -92.0,1365.0 -24.1,1365.5 -43.4,1417.2 -46.7,1421.5 -50.3,1443.4 -92.0,1445.0 -162.0,1405.0" fill="none" stroke="#f3dfe2" stroke-opacity="0.75" stroke-width="2.2" stroke-linejoin="round"/>
<polygon points="-938.2,892.7 -844.5,867.5 -842.0,957.5 -924.7,963.5" fill="none" stroke="#f3dfe2" stroke-opacity="0.75" stroke-width="2.2" stroke-linejoin="round"/>
<polygon points="-842.0,867.5 -769.5,867.5 -768.0,960.0 -792.0,967.5 -842.0,957.5" fill="none" stroke="#f3dfe2" stroke-opacity="0.75" stroke-width="2.2" stroke-linejoin="round"/>
<polygon points="-809.5,967.5 -769.5,960.0 -722.0,995.0 -749.5,1040.0 -809.5,1052.5" fill="none" stroke="#f3dfe2" stroke-opacity="0.75" stroke-width="2.2" stroke-linejoin="round"/>
<polygon points="-901.5,1036.0 -812.0,1035.0 -812.0,1052.5 -829.5,1077.5 -883.8,1085.0" fill="none" stroke="#f3dfe2" stroke-opacity="0.75" stroke-width="2.2" stroke-linejoin="round"/>
<polygon points="-889.4,1099.4 -883.3,1088.8 -829.5,1077.5 -799.5,1055.0 -799.5,1127.5 -868.4,1117.2 -872.0,1110.0" fill="none" stroke="#f3dfe2" stroke-opacity="0.75" stroke-width="2.2" stroke-linejoin="round"/>
<polygon points="-799.5,1055.0 -752.0,1042.5 -742.0,1085.0 -752.0,1145.0 -769.5,1150.0 -792.0,1127.5" fill="none" stroke="#f3dfe2" stroke-opacity="0.75" stroke-width="2.2" stroke-linejoin="round"/>
<polygon points="-752.0,1042.5 -722.0,995.0 -682.0,1010.0 -659.5,1047.5 -692.0,1085.0 -712.0,1087.5 -742.0,1085.0" fill="none" stroke="#f3dfe2" stroke-opacity="0.75" stroke-width="2.2" stroke-linejoin="round"/>
<polygon points="-712.0,1090.0 -682.0,1055.0 -662.0,1052.5 -624.5,1060.0 -622.0,1110.0 -659.5,1140.0 -697.0,1120.0" fill="none" stroke="#f3dfe2" stroke-opacity="0.75" stroke-width="2.2" stroke-linejoin="round"/>
<polygon points="-659.5,1050.0 -602.0,1007.5 -589.5,1007.5 -592.0,1060.0 -619.5,1065.0" fill="none" stroke="#f3dfe2" stroke-opacity="0.75" stroke-width="2.2" stroke-linejoin="round"/>
<polygon points="-619.5,1065.0 -592.0,1060.0 -589.5,1007.5 -557.0,1025.0 -547.0,1085.0 -569.5,1112.5 -619.5,1112.5" fill="none" stroke="#f3dfe2" stroke-opacity="0.75" stroke-width="2.2" stroke-linejoin="round"/>
<polygon points="-567.0,1002.5 -524.5,955.0 -467.0,925.0 -424.5,972.5 -422.0,1002.5 -487.0,1040.0 -544.5,1070.0 -554.5,1027.5" fill="none" stroke="#f3dfe2" stroke-opacity="0.75" stroke-width="2.2" stroke-linejoin="round"/>
<polygon points="-629.5,970.0 -597.0,942.5 -547.0,975.0 -569.5,1012.5 -592.0,1002.5" fill="none" stroke="#f3dfe2" stroke-opacity="0.75" stroke-width="2.2" stroke-linejoin="round"/>
<polygon points="-487.0,1040.0 -404.5,1002.5 -359.5,1030.0 -362.0,1055.0 -374.5,1102.5 -417.0,1152.5 -447.0,1100.0" fill="none" stroke="#f3dfe2" stroke-opacity="0.75" stroke-width="2.2" stroke-linejoin="round"/>
<polygon points="-896.4,1143.2 -874.8,1119.4 -799.5,1127.5 -799.5,1207.5 -854.5,1211.0 -903.5,1185.3" fill="none" stroke="#f3dfe2" stroke-opacity="0.75" stroke-width="2.2" stroke-linejoin="round"/>
<polygon points="-797.0,1135.0 -772.0,1150.0 -752.0,1150.0 -752.0,1207.5 -797.0,1210.0" fill="none" stroke="#f3dfe2" stroke-opacity="0.75" stroke-width="2.2" stroke-linejoin="round"/>
<polygon points="-752.0,1146.0 -694.5,1146.0 -659.5,1141.0 -639.5,1210.0 -717.0,1212.5 -727.0,1212.5 -752.0,1207.5" fill="none" stroke="#f3dfe2" stroke-opacity="0.75" stroke-width="2.2" stroke-linejoin="round"/>
<polygon points="-659.5,1140.0 -622.0,1115.0 -569.5,1112.5 -569.5,1182.5 -642.0,1182.5" fill="none" stroke="#f3dfe2" stroke-opacity="0.75" stroke-width="2.2" stroke-linejoin="round"/>
<polygon points="-642.0,1182.5 -569.5,1182.5 -569.5,1237.5 -612.0,1240.0 -639.5,1232.5" fill="none" stroke="#f3dfe2" stroke-opacity="0.75" stroke-width="2.2" stroke-linejoin="round"/>
<polygon points="-917.7,1214.7 -904.5,1188.3 -857.0,1210.0 -854.5,1242.5 -919.4,1242.5" fill="none" stroke="#f3dfe2" stroke-opacity="0.75" stroke-width="2.2" stroke-linejoin="round"/>
<polygon points="-864.5,1212.5 -787.0,1212.5 -787.0,1250.0 -774.5,1270.0 -777.0,1287.5 -862.0,1287.5" fill="none" stroke="#f3dfe2" stroke-opacity="0.75" stroke-width="2.2" stroke-linejoin="round"/>
<polygon points="-787.0,1215.0 -752.0,1210.0 -727.0,1212.5 -717.0,1245.0 -717.0,1285.0 -777.0,1287.5 -774.5,1270.0 -787.0,1250.0" fill="none" stroke="#f3dfe2" stroke-opacity="0.75" stroke-width="2.2" stroke-linejoin="round"/>
<polygon points="-919.4,1245.0 -864.5,1245.0 -862.0,1287.5 -834.5,1290.0 -834.5,1317.5 -906.7,1326.2 -916.0,1287.2" fill="none" stroke="#f3dfe2" stroke-opacity="0.75" stroke-width="2.2" stroke-linejoin="round"/>
<polygon points="-832.0,1289.0 -754.5,1289.0 -754.5,1335.0 -827.0,1335.0" fill="none" stroke="#f3dfe2" stroke-opacity="0.75" stroke-width="2.2" stroke-linejoin="round"/>
<polygon points="-752.0,1289.0 -657.0,1285.0 -657.0,1330.0 -752.0,1335.0" fill="none" stroke="#f3dfe2" stroke-opacity="0.75" stroke-width="2.2" stroke-linejoin="round"/>
<polygon points="-906.7,1326.2 -834.5,1317.5 -827.0,1335.0 -752.0,1335.0 -687.0,1332.5 -654.5,1330.0 -654.5,1427.5 -767.0,1427.5 -893.7,1433.0 -914.5,1382.5" fill="none" stroke="#f3dfe2" stroke-opacity="0.75" stroke-width="2.2" stroke-linejoin="round"/>
<polygon points="-857.0,1380.0 -774.5,1380.0 -774.5,1425.0 -857.0,1425.0" fill="none" stroke="#f3dfe2" stroke-opacity="0.75" stroke-width="2.2" stroke-linejoin="round"/>
<polygon points="-851.1,1528.9 -824.5,1485.0 -817.0,1430.0 -739.5,1430.0 -739.0,1538.1" fill="none" stroke="#f3dfe2" stroke-opacity="0.75" stroke-width="2.2" stroke-linejoin="round"/>
<polygon points="-679.5,1430.0 -597.0,1437.5 -597.0,1546.3 -672.0,1541.9 -677.0,1475.0" fill="none" stroke="#f3dfe2" stroke-opacity="0.75" stroke-width="2.2" stroke-linejoin="round"/>
<polygon points="-597.0,1437.5 -537.0,1437.5 -517.0,1480.0 -537.0,1510.0 -514.5,1551.0 -597.0,1546.3" fill="none" stroke="#f3dfe2" stroke-opacity="0.75" stroke-width="2.2" stroke-linejoin="round"/>
<polygon points="-537.0,1437.5 -477.0,1435.0 -442.0,1460.0 -442.0,1482.5 -464.5,1490.0 -464.5,1553.9 -514.5,1551.0 -537.0,1510.0 -517.0,1480.0" fill="none" stroke="#f3dfe2" stroke-opacity="0.75" stroke-width="2.2" stroke-linejoin="round"/>
<polygon points="-479.5,1212.5 -417.0,1155.0 -362.0,1210.0 -404.5,1240.0 -479.5,1227.5" fill="none" stroke="#f3dfe2" stroke-opacity="0.75" stroke-width="2.2" stroke-linejoin="round"/>
<polygon points="-612.0,1237.5 -537.0,1235.0 -539.5,1275.0 -547.0,1295.0 -582.0,1300.0 -612.0,1280.0" fill="none" stroke="#f3dfe2" stroke-opacity="0.75" stroke-width="2.2" stroke-linejoin="round"/>
<polygon points="-537.0,1235.0 -434.5,1245.0 -434.5,1272.5 -502.0,1275.0 -507.0,1247.5 -534.5,1247.5" fill="none" stroke="#f3dfe2" stroke-opacity="0.75" stroke-width="2.2" stroke-linejoin="round"/>
<polyline points="-954.5,405.0 -974.5,440.0 -992.0,497.5" fill="none" stroke="#f3dfe2" stroke-opacity="0.75" stroke-width="2.2" stroke-linejoin="round"/>
<polyline points="-934.5,402.5 -934.5,435.0 -922.0,437.5 -919.5,455.0 -889.5,470.0 -889.5,497.5" fill="none" stroke="#f3dfe2" stroke-opacity="0.75" stroke-width="2.2" stroke-linejoin="round"/>
<polyline points="-874.5,400.0 -884.5,440.0 -904.5,457.5" fill="none" stroke="#f3dfe2" stroke-opacity="0.75" stroke-width="2.2" stroke-linejoin="round"/>
<polyline points="-832.0,400.0 -834.5,437.5 -857.0,475.0 -857.0,495.0" fill="none" stroke="#f3dfe2" stroke-opacity="0.75" stroke-width="2.2" stroke-linejoin="round"/>
<polyline points="-789.5,400.0 -788.0,437.5 -797.0,470.0 -799.5,517.5" fill="none" stroke="#f3dfe2" stroke-opacity="0.75" stroke-width="2.2" stroke-linejoin="round"/>
<polyline points="-788.0,437.5 -747.0,437.5 -717.0,452.5 -707.0,475.0 -697.0,497.5 -712.0,512.5 -732.0,515.0" fill="none" stroke="#f3dfe2" stroke-opacity="0.75" stroke-width="2.2" stroke-linejoin="round"/>
<polyline points="-992.0,505.0 -892.0,507.5 -802.0,502.5 -799.5,517.5 -732.0,515.0 -704.5,507.5 -697.0,497.5" fill="none" stroke="#f3dfe2" stroke-opacity="0.75" stroke-width="2.2" stroke-linejoin="round"/>
<polyline points="-897.0,510.0 -912.0,545.0 -947.0,567.5 -959.5,585.0 -972.0,585.0" fill="none" stroke="#f3dfe2" stroke-opacity="0.75" stroke-width="2.2" stroke-linejoin="round"/>
<polyline points="-892.0,557.5 -802.0,557.5 -782.0,562.5 -714.5,562.5" fill="none" stroke="#f3dfe2" stroke-opacity="0.75" stroke-width="2.2" stroke-linejoin="round"/>
<polyline points="-894.5,510.0 -892.0,557.5 -877.0,562.5 -884.5,635.0" fill="none" stroke="#f3dfe2" stroke-opacity="0.75" stroke-width="2.2" stroke-linejoin="round"/>
<polyline points="-799.5,517.5 -799.5,640.0" fill="none" stroke="#f3dfe2" stroke-opacity="0.75" stroke-width="2.2" stroke-linejoin="round"/>
<polyline points="-732.0,515.0 -724.5,540.0 -714.5,540.0 -713.5,635.0" fill="none" stroke="#f3dfe2" stroke-opacity="0.75" stroke-width="2.2" stroke-linejoin="round"/>
<polyline points="-967.0,640.0 -932.0,635.0 -862.0,640.0 -819.5,645.0" fill="none" stroke="#f3dfe2" stroke-opacity="0.75" stroke-width="2.2" stroke-linejoin="round"/>
<polyline points="-862.0,640.0 -867.0,677.5 -887.0,687.5 -959.5,690.0" fill="none" stroke="#f3dfe2" stroke-opacity="0.75" stroke-width="2.2" stroke-linejoin="round"/>
<polyline points="-887.0,687.5 -884.5,715.0 -852.0,724.0" fill="none" stroke="#f3dfe2" stroke-opacity="0.75" stroke-width="2.2" stroke-linejoin="round"/>
<polyline points="-947.0,757.5 -887.0,740.0 -882.0,715.0" fill="none" stroke="#f3dfe2" stroke-opacity="0.75" stroke-width="2.2" stroke-linejoin="round"/>
<polyline points="-937.0,812.5 -862.0,812.5 -839.5,792.5" fill="none" stroke="#f3dfe2" stroke-opacity="0.75" stroke-width="2.2" stroke-linejoin="round"/>
<polyline points="-877.0,815.0 -862.0,865.0" fill="none" stroke="#f3dfe2" stroke-opacity="0.75" stroke-width="2.2" stroke-linejoin="round"/>
<polyline points="-709.5,872.5 -707.0,927.5" fill="none" stroke="#f3dfe2" stroke-opacity="0.75" stroke-width="2.2" stroke-linejoin="round"/>
<polyline points="-667.0,870.0 -667.0,940.0 -682.0,942.5" fill="none" stroke="#f3dfe2" stroke-opacity="0.75" stroke-width="2.2" stroke-linejoin="round"/>
<polyline points="-767.0,930.0 -682.0,930.0" fill="none" stroke="#f3dfe2" stroke-opacity="0.75" stroke-width="2.2" stroke-linejoin="round"/>
<polyline points="-682.0,965.0 -629.5,970.0 -597.0,942.5 -612.0,890.0 -627.0,870.0 -682.0,870.0" fill="none" stroke="#f3dfe2" stroke-opacity="0.75" stroke-width="2.2" stroke-linejoin="round"/>
<polyline points="-612.0,890.0 -529.5,880.0 -519.5,937.5 -547.0,965.0" fill="none" stroke="#f3dfe2" stroke-opacity="0.75" stroke-width="2.2" stroke-linejoin="round"/>
<polyline points="-627.0,820.0 -612.0,865.0 -612.0,890.0" fill="none" stroke="#f3dfe2" stroke-opacity="0.75" stroke-width="2.2" stroke-linejoin="round"/>
<polyline points="-582.0,772.5 -554.5,812.5 -554.5,877.5" fill="none" stroke="#f3dfe2" stroke-opacity="0.75" stroke-width="2.2" stroke-linejoin="round"/>
<polyline points="-554.5,812.5 -497.0,800.0 -469.5,845.0 -492.0,867.5" fill="none" stroke="#f3dfe2" stroke-opacity="0.75" stroke-width="2.2" stroke-linejoin="round"/>
<polyline points="-497.0,800.0 -512.0,770.0 -524.5,737.5" fill="none" stroke="#f3dfe2" stroke-opacity="0.75" stroke-width="2.2" stroke-linejoin="round"/>
<polyline points="-914.5,957.5 -812.0,965.0 -809.5,1035.0 -889.5,1032.5" fill="none" stroke="#f3dfe2" stroke-opacity="0.75" stroke-width="2.2" stroke-linejoin="round"/>
<polyline points="-309.5,757.5 -267.0,742.5" fill="none" stroke="#f3dfe2" stroke-opacity="0.75" stroke-width="2.2" stroke-linejoin="round"/>
<polyline points="-352.0,672.5 -272.0,726.0" fill="none" stroke="#f3dfe2" stroke-opacity="0.75" stroke-width="2.2" stroke-linejoin="round"/>
<polyline points="-692.0,870.0 -617.0,870.0 -612.0,890.0 -527.0,877.5" fill="none" stroke="#f3dfe2" stroke-opacity="0.75" stroke-width="2.2" stroke-linejoin="round"/>
<polyline points="-617.0,840.0 -612.0,890.0 -594.5,920.0 -599.5,950.0 -627.0,970.0" fill="none" stroke="#f3dfe2" stroke-opacity="0.75" stroke-width="2.2" stroke-linejoin="round"/>
<polyline points="-554.5,840.0 -554.5,877.5" fill="none" stroke="#f3dfe2" stroke-opacity="0.75" stroke-width="2.2" stroke-linejoin="round"/>
<polyline points="-692.0,967.5 -627.0,970.0" fill="none" stroke="#f3dfe2" stroke-opacity="0.75" stroke-width="2.2" stroke-linejoin="round"/>
<polyline points="-672.0,872.5 -669.5,940.0 -692.0,945.0" fill="none" stroke="#f3dfe2" stroke-opacity="0.75" stroke-width="2.2" stroke-linejoin="round"/>
<polyline points="-692.0,1010.0 -679.5,1010.0 -657.0,1050.0" fill="none" stroke="#f3dfe2" stroke-opacity="0.75" stroke-width="2.2" stroke-linejoin="round"/>
<polyline points="-544.5,1085.0 -502.0,1140.0 -509.5,1160.0 -482.0,1212.5" fill="none" stroke="#f3dfe2" stroke-opacity="0.75" stroke-width="2.2" stroke-linejoin="round"/>
<polyline points="-567.0,1157.5 -509.5,1160.0" fill="none" stroke="#f3dfe2" stroke-opacity="0.75" stroke-width="2.2" stroke-linejoin="round"/>
<polyline points="-544.5,1085.0 -509.5,1112.5 -474.5,1072.5" fill="none" stroke="#f3dfe2" stroke-opacity="0.75" stroke-width="2.2" stroke-linejoin="round"/>
<polyline points="-372.0,1107.5 -359.5,1112.5 -347.0,1150.0 -337.0,1197.5" fill="none" stroke="#f3dfe2" stroke-opacity="0.75" stroke-width="2.2" stroke-linejoin="round"/>
<polyline points="-307.0,1097.5 -319.5,1197.5" fill="none" stroke="#f3dfe2" stroke-opacity="0.75" stroke-width="2.2" stroke-linejoin="round"/>
<polyline points="-267.0,1105.0 -254.5,1140.0 -262.0,1207.5" fill="none" stroke="#f3dfe2" stroke-opacity="0.75" stroke-width="2.2" stroke-linejoin="round"/>
<polyline points="-219.5,1115.0 -192.0,1120.0 -167.0,1170.0" fill="none" stroke="#f3dfe2" stroke-opacity="0.75" stroke-width="2.2" stroke-linejoin="round"/>
<polyline points="-372.0,1107.5 -304.5,1095.0 -292.0,1112.5 -267.0,1105.0 -219.5,1115.0" fill="none" stroke="#f3dfe2" stroke-opacity="0.75" stroke-width="2.2" stroke-linejoin="round"/>
<polyline points="-356.0,1055.0 -329.5,1058.5 -297.0,1077.5 -307.0,1095.0 -292.0,1110.0 -272.0,1103.5" fill="none" stroke="#f3dfe2" stroke-opacity="0.75" stroke-width="2.2" stroke-linejoin="round"/>
<polyline points="-317.0,986.0 -327.0,1007.5 -317.0,1016.0 -347.0,1035.0 -356.0,1055.0" fill="none" stroke="#f3dfe2" stroke-opacity="0.75" stroke-width="2.2" stroke-linejoin="round"/>
<polyline points="-267.0,1102.5 -249.5,1050.0 -222.0,1042.5 -199.5,1080.0 -209.5,1115.0" fill="none" stroke="#f3dfe2" stroke-opacity="0.75" stroke-width="2.2" stroke-linejoin="round"/>
<polyline points="-579.5,1300.0 -577.0,1355.0 -552.0,1360.0 -562.0,1430.0" fill="none" stroke="#f3dfe2" stroke-opacity="0.75" stroke-width="2.2" stroke-linejoin="round"/>
<polyline points="-654.5,1360.0 -552.0,1360.0" fill="none" stroke="#f3dfe2" stroke-opacity="0.75" stroke-width="2.2" stroke-linejoin="round"/>
<polyline points="-112.0,1060.0 -92.0,1127.5 -77.0,1162.5" fill="none" stroke="#f3dfe2" stroke-opacity="0.75" stroke-width="2.2" stroke-linejoin="round"/>
<polyline points="-164.5,1145.0 -92.0,1127.5" fill="none" stroke="#f3dfe2" stroke-opacity="0.75" stroke-width="2.2" stroke-linejoin="round"/>
<polyline points="-654.5,1235.0 -614.5,1240.0 -612.0,1280.0 -582.0,1300.0" fill="none" stroke="#f3dfe2" stroke-opacity="0.75" stroke-width="2.2" stroke-linejoin="round"/>
<polyline points="-482.0,1212.5 -417.0,1155.0" fill="none" stroke="#f3dfe2" stroke-opacity="0.75" stroke-width="2.2" stroke-linejoin="round"/>
<polyline points="-654.5,1437.5 -564.5,1435.0" fill="none" stroke="#f3dfe2" stroke-opacity="0.75" stroke-width="2.2" stroke-linejoin="round"/>
<polyline points="-739.5,1430.0 -738.0,1520.0" fill="none" stroke="#f3dfe2" stroke-opacity="0.75" stroke-width="2.2" stroke-linejoin="round"/>
<polyline points="-679.5,1430.0 -672.0,1527.5" fill="none" stroke="#f3dfe2" stroke-opacity="0.75" stroke-width="2.2" stroke-linejoin="round"/>
<polyline points="-597.0,1437.5 -597.0,1532.5" fill="none" stroke="#f3dfe2" stroke-opacity="0.75" stroke-width="2.2" stroke-linejoin="round"/>
<polyline points="-817.0,1430.0 -824.5,1485.0 -842.0,1517.5" fill="none" stroke="#f3dfe2" stroke-opacity="0.75" stroke-width="2.2" stroke-linejoin="round"/>
<polyline points="-712.0,1135.0 -697.0,1145.0 -749.5,1145.0 -742.0,1085.0" fill="none" stroke="#f3dfe2" stroke-opacity="0.75" stroke-width="2.2" stroke-linejoin="round"/>
<polyline points="-378.5,865.0 -359.5,895.0 -342.0,922.5 -328.5,950.0 -332.0,975.0" fill="none" stroke="#f3dfe2" stroke-opacity="0.75" stroke-width="2.2" stroke-linejoin="round"/>
<polyline points="-272.0,857.5 -277.0,902.5 -276.0,945.0 -283.5,971.0" fill="none" stroke="#f3dfe2" stroke-opacity="0.75" stroke-width="2.2" stroke-linejoin="round"/>
<polyline points="-447.0,902.5 -452.0,935.0" fill="none" stroke="#f3dfe2" stroke-opacity="0.75" stroke-width="2.2" stroke-linejoin="round"/>
<polyline points="-692.0,405.0 -679.5,427.5 -679.5,470.0 -692.0,490.0" fill="none" stroke="#f3dfe2" stroke-opacity="0.75" stroke-width="2.2" stroke-linejoin="round"/>
<polyline points="-697.0,497.5 -692.0,490.0 -667.0,495.0 -639.5,466.0 -623.5,470.0 -621.0,528.5 -651.0,552.5 -674.5,542.5 -692.0,525.0" fill="none" stroke="#f3dfe2" stroke-opacity="0.75" stroke-width="2.2" stroke-linejoin="round"/>
<polyline points="-639.5,400.0 -634.5,417.5 -612.0,422.5 -607.0,450.0 -621.0,470.0" fill="none" stroke="#f3dfe2" stroke-opacity="0.75" stroke-width="2.2" stroke-linejoin="round"/>
<polyline points="-607.0,450.0 -582.0,450.0 -576.0,470.0 -582.0,487.5 -573.5,520.0 -582.0,528.5 -621.0,528.5" fill="none" stroke="#f3dfe2" stroke-opacity="0.75" stroke-width="2.2" stroke-linejoin="round"/>
<polyline points="-554.5,400.0 -577.0,427.5 -578.5,443.5 -582.0,450.0" fill="none" stroke="#f3dfe2" stroke-opacity="0.75" stroke-width="2.2" stroke-linejoin="round"/>
<polyline points="-578.5,443.5 -564.5,447.5 -553.5,466.0 -512.0,471.0" fill="none" stroke="#f3dfe2" stroke-opacity="0.75" stroke-width="2.2" stroke-linejoin="round"/>
<polyline points="-512.0,482.5 -534.5,533.5 -553.5,535.0 -569.5,547.5 -582.0,567.5 -574.5,587.5 -559.5,595.0 -539.5,591.0 -517.0,620.0 -514.5,655.0" fill="none" stroke="#f3dfe2" stroke-opacity="0.75" stroke-width="2.2" stroke-linejoin="round"/>
<polyline points="-582.0,528.5 -569.5,547.5" fill="none" stroke="#f3dfe2" stroke-opacity="0.75" stroke-width="2.2" stroke-linejoin="round"/>
<polyline points="-534.5,533.5 -522.0,545.0 -474.5,540.0 -458.5,521.0" fill="none" stroke="#f3dfe2" stroke-opacity="0.75" stroke-width="2.2" stroke-linejoin="round"/>
<polyline points="-522.0,545.0 -512.0,587.5 -519.5,607.5 -539.5,591.0" fill="none" stroke="#f3dfe2" stroke-opacity="0.75" stroke-width="2.2" stroke-linejoin="round"/>
<polyline points="-512.0,587.5 -497.0,593.5 -469.5,600.0 -461.0,592.5 -462.0,545.0 -449.5,535.0" fill="none" stroke="#f3dfe2" stroke-opacity="0.75" stroke-width="2.2" stroke-linejoin="round"/>
<polyline points="-461.0,592.5 -432.0,605.0 -386.0,587.5" fill="none" stroke="#f3dfe2" stroke-opacity="0.75" stroke-width="2.2" stroke-linejoin="round"/>
<polyline points="-457.0,602.5 -454.5,620.0 -419.5,665.0 -344.5,670.0" fill="none" stroke="#f3dfe2" stroke-opacity="0.75" stroke-width="2.2" stroke-linejoin="round"/>
<polyline points="-419.5,665.0 -442.0,655.0 -459.5,650.0 -489.5,663.5" fill="none" stroke="#f3dfe2" stroke-opacity="0.75" stroke-width="2.2" stroke-linejoin="round"/>
<polyline points="-652.0,552.5 -642.0,585.0 -651.0,610.0 -668.5,620.0" fill="none" stroke="#f3dfe2" stroke-opacity="0.75" stroke-width="2.2" stroke-linejoin="round"/>
<polyline points="-714.5,572.5 -647.0,576.0" fill="none" stroke="#f3dfe2" stroke-opacity="0.75" stroke-width="2.2" stroke-linejoin="round"/>
<polyline points="-574.5,587.5 -614.5,632.5 -624.5,660.0 -612.0,685.0 -577.0,687.5 -547.0,712.5 -502.0,740.0" fill="none" stroke="#f3dfe2" stroke-opacity="0.75" stroke-width="2.2" stroke-linejoin="round"/>
<polyline points="-614.5,632.5 -599.5,645.0 -559.5,655.0 -554.5,672.5 -577.0,687.5" fill="none" stroke="#f3dfe2" stroke-opacity="0.75" stroke-width="2.2" stroke-linejoin="round"/>
<polyline points="-547.0,712.5 -582.0,765.0" fill="none" stroke="#f3dfe2" stroke-opacity="0.75" stroke-width="2.2" stroke-linejoin="round"/>
<polyline points="-497.0,702.5 -497.0,727.5 -524.5,740.0" fill="none" stroke="#f3dfe2" stroke-opacity="0.75" stroke-width="2.2" stroke-linejoin="round"/>
<polyline points="-347.0,1170.0 -334.5,1200.0 -322.0,1196.0 -318.5,1170.0" fill="none" stroke="#f3dfe2" stroke-opacity="0.75" stroke-width="2.2" stroke-linejoin="round"/>
<polyline points="-257.0,1170.0 -263.5,1208.5" fill="none" stroke="#f3dfe2" stroke-opacity="0.75" stroke-width="2.2" stroke-linejoin="round"/>
<polyline points="-403.5,1235.0 -322.0,1196.0 -242.0,1220.0 -209.5,1242.5" fill="none" stroke="#f3dfe2" stroke-opacity="0.75" stroke-width="2.2" stroke-linejoin="round"/>
<polyline points="-312.0,1200.0 -312.0,1228.5 -331.0,1230.0 -331.0,1263.5 -349.5,1272.5 -399.5,1272.5 -401.0,1237.5" fill="none" stroke="#f3dfe2" stroke-opacity="0.75" stroke-width="2.2" stroke-linejoin="round"/>
<polyline points="-331.0,1263.5 -266.0,1312.5 -244.5,1326.0 -226.0,1330.0 -223.5,1350.0 -159.5,1356.0" fill="none" stroke="#f3dfe2" stroke-opacity="0.75" stroke-width="2.2" stroke-linejoin="round"/>
<polyline points="-244.5,1326.0 -246.0,1247.5 -227.0,1235.0" fill="none" stroke="#f3dfe2" stroke-opacity="0.75" stroke-width="2.2" stroke-linejoin="round"/>
<polyline points="-349.5,1272.5 -346.0,1322.5 -322.0,1325.0 -307.0,1340.0 -292.0,1335.0 -266.0,1312.5" fill="none" stroke="#f3dfe2" stroke-opacity="0.75" stroke-width="2.2" stroke-linejoin="round"/>
<polyline points="-307.0,1340.0 -298.5,1365.0 -262.0,1395.0 -214.5,1370.0 -223.5,1350.0" fill="none" stroke="#f3dfe2" stroke-opacity="0.75" stroke-width="2.2" stroke-linejoin="round"/>
<polyline points="-346.0,1322.5 -356.0,1350.0 -357.0,1372.5 -369.5,1375.0 -347.0,1441.0 -322.0,1455.0 -319.5,1490.0 -312.0,1492.5 -307.0,1550.0" fill="none" stroke="#f3dfe2" stroke-opacity="0.75" stroke-width="2.2" stroke-linejoin="round"/>
<polyline points="-542.0,1295.0 -512.0,1322.5 -468.5,1326.0 -433.5,1275.0" fill="none" stroke="#f3dfe2" stroke-opacity="0.75" stroke-width="2.2" stroke-linejoin="round"/>
<polyline points="-468.5,1326.0 -466.0,1336.0 -398.5,1341.0 -394.5,1350.0 -356.0,1350.0" fill="none" stroke="#f3dfe2" stroke-opacity="0.75" stroke-width="2.2" stroke-linejoin="round"/>
<polyline points="-512.0,1322.5 -529.5,1355.0 -529.5,1370.0 -509.5,1385.0 -499.5,1405.0 -503.5,1435.0" fill="none" stroke="#f3dfe2" stroke-opacity="0.75" stroke-width="2.2" stroke-linejoin="round"/>
<polyline points="-466.0,1336.0 -442.0,1375.0 -446.0,1397.5 -472.0,1407.5 -476.0,1420.0 -474.5,1455.0 -442.0,1461.0 -438.5,1482.5" fill="none" stroke="#f3dfe2" stroke-opacity="0.75" stroke-width="2.2" stroke-linejoin="round"/>
<polyline points="-446.0,1397.5 -364.5,1397.5" fill="none" stroke="#f3dfe2" stroke-opacity="0.75" stroke-width="2.2" stroke-linejoin="round"/>
<polyline points="-427.0,1397.5 -428.5,1481.0" fill="none" stroke="#f3dfe2" stroke-opacity="0.75" stroke-width="2.2" stroke-linejoin="round"/>
<polyline points="-464.5,1492.5 -459.5,1485.0 -428.5,1481.0 -399.5,1490.0 -389.5,1510.0 -347.0,1518.5 -342.0,1545.0" fill="none" stroke="#f3dfe2" stroke-opacity="0.75" stroke-width="2.2" stroke-linejoin="round"/>
<polyline points="-262.0,1395.0 -257.0,1422.5 -244.5,1441.0 -308.5,1441.0 -308.5,1497.5 -249.5,1497.5 -263.5,1562.0" fill="none" stroke="#f3dfe2" stroke-opacity="0.75" stroke-width="2.2" stroke-linejoin="round"/>
<polyline points="-244.5,1441.0 -229.5,1426.0 -202.0,1430.0 -182.0,1422.5 -163.5,1405.0" fill="none" stroke="#f3dfe2" stroke-opacity="0.75" stroke-width="2.2" stroke-linejoin="round"/>
<polyline points="-202.0,1430.0 -191.0,1457.5 -196.0,1488.5" fill="none" stroke="#f3dfe2" stroke-opacity="0.75" stroke-width="2.2" stroke-linejoin="round"/>
<polyline points="-794.5,1335.0 -794.5,1377.5" fill="none" stroke="#f3dfe2" stroke-opacity="0.75" stroke-width="2.2" stroke-linejoin="round"/>
<polyline points="-767.0,1425.0 -767.0,1412.5 -729.5,1370.0 -699.5,1355.0 -686.0,1331.0" fill="none" stroke="#f3dfe2" stroke-opacity="0.75" stroke-width="2.2" stroke-linejoin="round"/>
<polyline points="-162.0,945.0 -184.5,1015.0 -217.0,1032.5" fill="none" stroke="#f3dfe2" stroke-opacity="0.75" stroke-width="2.2" stroke-linejoin="round"/>
<polyline points="-184.5,1015.0 -112.0,1060.0" fill="none" stroke="#f3dfe2" stroke-opacity="0.75" stroke-width="2.2" stroke-linejoin="round"/>
<polyline points="-209.5,1240.0 -169.5,1185.0" fill="none" stroke="#f3dfe2" stroke-opacity="0.75" stroke-width="2.2" stroke-linejoin="round"/>
<polyline points="-142.0,1305.0 -104.5,1270.0" fill="none" stroke="#f3dfe2" stroke-opacity="0.75" stroke-width="2.2" stroke-linejoin="round"/>
<polyline points="-159.5,1352.5 -137.0,1332.5 -92.0,1365.0 -37.0,1365.0" fill="none" stroke="#f3dfe2" stroke-opacity="0.75" stroke-width="2.2" stroke-linejoin="round"/></g>
<g clip-path="url(#gc1)"><polygon points="685.7,402.9 810.3,397.8 1233.2,397.8 1231.2,409.7 1203.5,427.5 1185.7,451.2 1179.8,472.9 1183.7,483.6 1233.2,518.4 1243.1,534.3 1278.7,534.3 1288.5,544.1 1292.5,565.9 1306.3,587.6 1316.2,623.2 1341.9,652.9 1347.9,670.7 1421.0,728.0 1429.0,753.8 1468.5,785.4 1492.2,813.1 1491.4,830.9 1508.0,846.7 1510.0,860.6 1539.7,894.2 1575.3,915.9 1587.2,925.8 1589.1,953.5 1599.8,977.2 1605.0,1000.0 1610.9,1029.7 1630.7,1039.6 1652.4,1063.3 1654.4,1079.1 1666.3,1114.7 1666.3,1128.5 1670.2,1156.2 1694.0,1162.2 1713.7,1176.0 1751.3,1181.9 1686.0,1259.0 1674.2,1308.5 1654.4,1352.0 1652.4,1401.5 1632.6,1407.4 1630.7,1427.2 1624.7,1435.1 1628.7,1448.9 1608.9,1506.3 1620.8,1518.1 1575.3,1518.1 1539.7,1508.2 1496.2,1490.5 1468.5,1506.3 1466.5,1535.9 1476.4,1551.7 1468.5,1597.2 1452.7,1609.1 1442.8,1609.1 1429.0,1593.3 1429.0,1555.7 1381.5,1549.8 1227.2,1539.9 849.9,1518.1 840.0,1510.2 830.1,1474.6 812.3,1429.1 794.5,1399.5 790.5,1375.7 800.4,1328.3 790.5,1292.7 786.6,1245.2 786.6,1221.5 800.4,1193.8 808.3,1170.1 806.3,1152.3 818.2,1134.5 834.0,1126.6 834.0,1106.8 816.2,1102.8 822.2,1085.0 812.3,1051.4 804.4,1033.6 794.5,1000.0 778.7,953.5 766.8,886.3 699.6,498.7" fill="#981b30"/>
<polygon points="872.5,646.0 945.0,644.0 954.0,672.5 941.5,680.0 910.0,730.0 880.0,760.0 852.5,777.5 839.0,776.0 839.0,724.0 875.0,720.0" fill="#9da8cb" stroke="#9da8cb" stroke-width="4" stroke-linejoin="round"/>
<polygon points="947.5,646.0 960.0,617.5 976.5,617.5 978.5,635.0 1012.5,649.0 975.0,672.5 954.0,672.5" fill="#38447a" stroke="#38447a" stroke-width="4" stroke-linejoin="round"/>
<polygon points="852.5,792.5 880.0,761.0 911.0,730.0 941.5,680.0 954.0,672.5 961.0,674.0 960.0,755.0 939.0,757.5 935.0,782.5 900.0,785.0" fill="#38447a" stroke="#38447a" stroke-width="4" stroke-linejoin="round"/>
<polygon points="961.0,675.0 975.0,675.0 1029.0,730.0 1010.0,762.5 961.0,755.0" fill="#38447a" stroke="#38447a" stroke-width="4" stroke-linejoin="round"/>
<polygon points="939.0,757.5 980.0,759.0 976.0,785.0 967.5,812.5 957.5,812.5 954.0,830.0 952.5,800.0 936.0,784.0" fill="#38447a" stroke="#38447a" stroke-width="4" stroke-linejoin="round"/>
<polygon points="975.0,675.0 1012.5,650.0 1025.0,621.0 1072.5,635.0 1080.0,685.0 1047.5,722.5 1029.0,730.0" fill="#9da8cb" stroke="#9da8cb" stroke-width="4" stroke-linejoin="round"/>
<polygon points="1005.0,762.5 1032.5,724.0 1052.5,735.0 1040.0,770.0 1027.5,785.0" fill="#6373b0" stroke="#6373b0" stroke-width="4" stroke-linejoin="round"/>
<polygon points="980.0,759.0 1005.0,762.5 1027.5,785.0 1055.0,814.0 1030.0,840.0 1010.0,846.0 995.0,836.5 957.5,832.5 967.5,812.5 976.0,785.0" fill="#9da8cb" stroke="#9da8cb" stroke-width="4" stroke-linejoin="round"/>
<polygon points="1027.5,785.0 1040.0,770.0 1052.5,735.0 1110.0,772.5 1107.5,805.0 1067.5,822.5 1055.0,814.0" fill="#9da8cb" stroke="#9da8cb" stroke-width="4" stroke-linejoin="round"/>
<polygon points="900.0,796.0 935.0,782.5 952.5,800.0 954.0,830.0 940.0,860.0 927.5,857.5 910.0,825.0" fill="#c25c5c" stroke="#c25c5c" stroke-width="4" stroke-linejoin="round"/>
<polygon points="942.5,835.0 992.5,836.5 1010.0,847.5 1007.5,865.0 987.5,872.5 930.0,874.0 926.5,860.0" fill="#c25c5c" stroke="#c25c5c" stroke-width="4" stroke-linejoin="round"/>
<polygon points="1145.0,672.5 1180.0,657.5 1200.0,667.5 1204.0,687.5 1192.5,702.5 1180.0,695.0" fill="#38447a" stroke="#38447a" stroke-width="4" stroke-linejoin="round"/>
<polygon points="1170.0,742.5 1205.0,730.0 1265.0,755.0 1250.0,795.0 1255.0,807.5 1225.0,830.0 1200.0,805.0" fill="#c25c5c" stroke="#c25c5c" stroke-width="4" stroke-linejoin="round"/>
<polygon points="1260.0,720.0 1300.0,670.0 1360.9,665.5 1370.0,760.0 1340.0,765.0 1315.0,767.5 1287.5,760.0 1265.0,740.0" fill="#c25c5c" stroke="#c25c5c" stroke-width="4" stroke-linejoin="round"/>
<polygon points="1257.5,772.5 1287.5,760.0 1322.5,770.0 1305.0,795.0 1290.0,805.0 1260.0,805.0" fill="#6373b0" stroke="#6373b0" stroke-width="4" stroke-linejoin="round"/>
<polygon points="1291.0,807.5 1322.5,769.0 1340.0,770.0 1352.5,830.0 1385.0,845.0 1320.0,862.5 1310.0,867.5" fill="#6373b0" stroke="#6373b0" stroke-width="4" stroke-linejoin="round"/>
<polygon points="1340.0,767.5 1380.0,760.0 1415.0,832.5 1400.0,845.0 1355.0,832.5" fill="#c25c5c" stroke="#c25c5c" stroke-width="4" stroke-linejoin="round"/>
<polygon points="1165.0,880.0 1200.0,867.5 1245.0,902.5 1310.0,867.5 1332.5,895.0 1380.0,852.5 1420.0,857.5 1445.0,847.5 1523.7,857.3 1543.6,877.4 1583.9,904.8 1527.5,947.5 1512.5,940.0 1487.5,945.0 1452.5,950.0 1442.5,977.5 1407.5,971.0 1378.5,987.5 1360.0,975.0 1307.5,987.5 1302.5,980.0 1268.5,990.0 1265.0,967.5 1250.0,960.0 1240.0,935.0 1225.0,925.0 1200.0,935.0 1172.5,940.0" fill="#9da8cb" stroke="#9da8cb" stroke-width="4" stroke-linejoin="round"/>
<polygon points="1412.3,830.9 1480.0,777.3 1505.7,809.5 1504.9,827.3 1521.5,843.1 1522.1,853.6 1457.4,864.5 1436.9,848.7 1421.0,854.6 1400.5,847.5" fill="#38447a" stroke="#38447a" stroke-width="4" stroke-linejoin="round"/>
<polygon points="1200.0,865.0 1222.5,832.5 1250.0,806.5 1285.0,809.0 1310.0,865.0 1282.5,875.0 1282.5,890.0 1245.0,902.5 1235.0,887.5" fill="#38447a" stroke="#38447a" stroke-width="4" stroke-linejoin="round"/>
<polygon points="1315.0,867.5 1355.0,847.5 1377.5,855.0 1332.5,890.0" fill="#981b30" stroke="#981b30" stroke-width="4" stroke-linejoin="round"/>
<polygon points="1442.5,977.5 1452.5,950.0 1487.5,945.0 1512.5,940.0 1527.5,947.5 1583.9,904.8 1602.5,944.7 1616.6,987.9 1617.6,1017.4 1580.0,1060.0 1600.0,1127.5 1527.5,1145.0 1482.5,1115.0 1492.5,1080.0 1472.5,1035.0 1452.5,1010.0" fill="#c25c5c" stroke="#c25c5c" stroke-width="4" stroke-linejoin="round"/>
<polygon points="1614.5,1158.0 1680.3,1125.0 1680.3,1120.0 1700.2,1149.6 1765.0,1170.0 1765.0,1185.0 1698.9,1265.1 1664.5,1261.5 1662.5,1225.5 1650.0,1211.5 1639.5,1211.5" fill="#6373b0" stroke="#6373b0" stroke-width="4" stroke-linejoin="round"/>
<polygon points="1519.5,1186.5 1537.5,1168.5 1557.0,1183.0 1578.5,1197.0 1600.0,1200.5 1614.5,1218.5 1646.5,1250.5 1664.5,1261.5 1698.9,1265.1 1688.0,1311.1 1657.0,1304.5 1650.0,1286.5 1596.5,1279.5 1550.0,1250.5 1532.0,1218.5" fill="#6373b0" stroke="#6373b0" stroke-width="4" stroke-linejoin="round"/>
<polygon points="1482.5,1240.0 1522.5,1185.0 1530.0,1210.0 1550.0,1247.5 1587.5,1270.0 1570.0,1297.5 1550.0,1305.0" fill="#c25c5c" stroke="#c25c5c" stroke-width="4" stroke-linejoin="round"/>
<polygon points="1550.0,1305.0 1587.5,1270.0 1600.0,1272.5 1652.5,1287.5 1684.5,1319.5 1667.9,1365.5 1607.5,1367.5 1560.0,1340.0" fill="#c25c5c" stroke="#c25c5c" stroke-width="4" stroke-linejoin="round"/>
<polygon points="1532.5,1352.5 1555.0,1332.5 1600.0,1365.0 1667.9,1365.5 1648.6,1417.2 1645.3,1421.5 1641.7,1443.4 1600.0,1445.0 1530.0,1405.0" fill="#c25c5c" stroke="#c25c5c" stroke-width="4" stroke-linejoin="round"/>
<polygon points="753.8,892.7 847.5,867.5 850.0,957.5 767.3,963.5" fill="#c25c5c" stroke="#c25c5c" stroke-width="4" stroke-linejoin="round"/>
<polygon points="850.0,867.5 922.5,867.5 924.0,960.0 900.0,967.5 850.0,957.5" fill="#c25c5c" stroke="#c25c5c" stroke-width="4" stroke-linejoin="round"/>
<polygon points="882.5,967.5 922.5,960.0 970.0,995.0 942.5,1040.0 882.5,1052.5" fill="#6373b0" stroke="#6373b0" stroke-width="4" stroke-linejoin="round"/>
<polygon points="790.5,1036.0 880.0,1035.0 880.0,1052.5 862.5,1077.5 808.2,1085.0" fill="#6373b0" stroke="#6373b0" stroke-width="4" stroke-linejoin="round"/>
<polygon points="802.6,1099.4 808.7,1088.8 862.5,1077.5 892.5,1055.0 892.5,1127.5 823.6,1117.2 820.0,1110.0" fill="#dfa4a4" stroke="#dfa4a4" stroke-width="4" stroke-linejoin="round"/>
<polygon points="892.5,1055.0 940.0,1042.5 950.0,1085.0 940.0,1145.0 922.5,1150.0 900.0,1127.5" fill="#c25c5c" stroke="#c25c5c" stroke-width="4" stroke-linejoin="round"/>
<polygon points="940.0,1042.5 970.0,995.0 1010.0,1010.0 1032.5,1047.5 1000.0,1085.0 980.0,1087.5 950.0,1085.0" fill="#c25c5c" stroke="#c25c5c" stroke-width="4" stroke-linejoin="round"/>
<polygon points="980.0,1090.0 1010.0,1055.0 1030.0,1052.5 1067.5,1060.0 1070.0,1110.0 1032.5,1140.0 995.0,1120.0" fill="#6373b0" stroke="#6373b0" stroke-width="4" stroke-linejoin="round"/>
<polygon points="1032.5,1050.0 1090.0,1007.5 1102.5,1007.5 1100.0,1060.0 1072.5,1065.0" fill="#dfa4a4" stroke="#dfa4a4" stroke-width="4" stroke-linejoin="round"/>
<polygon points="1072.5,1065.0 1100.0,1060.0 1102.5,1007.5 1135.0,1025.0 1145.0,1085.0 1122.5,1112.5 1072.5,1112.5" fill="#c25c5c" stroke="#c25c5c" stroke-width="4" stroke-linejoin="round"/>
<polygon points="1125.0,1002.5 1167.5,955.0 1225.0,925.0 1267.5,972.5 1270.0,1002.5 1205.0,1040.0 1147.5,1070.0 1137.5,1027.5" fill="#dfa4a4" stroke="#dfa4a4" stroke-width="4" stroke-linejoin="round"/>
<polygon points="1062.5,970.0 1095.0,942.5 1145.0,975.0 1122.5,1012.5 1100.0,1002.5" fill="#6373b0" stroke="#6373b0" stroke-width="4" stroke-linejoin="round"/>
<polygon points="1205.0,1040.0 1287.5,1002.5 1332.5,1030.0 1330.0,1055.0 1317.5,1102.5 1275.0,1152.5 1245.0,1100.0" fill="#c25c5c" stroke="#c25c5c" stroke-width="4" stroke-linejoin="round"/>
<polygon points="795.6,1143.2 817.2,1119.4 892.5,1127.5 892.5,1207.5 837.5,1211.0 788.5,1185.3" fill="#6373b0" stroke="#6373b0" stroke-width="4" stroke-linejoin="round"/>
<polygon points="895.0,1135.0 920.0,1150.0 940.0,1150.0 940.0,1207.5 895.0,1210.0" fill="#c25c5c" stroke="#c25c5c" stroke-width="4" stroke-linejoin="round"/>
<polygon points="940.0,1146.0 997.5,1146.0 1032.5,1141.0 1052.5,1210.0 975.0,1212.5 965.0,1212.5 940.0,1207.5" fill="#9da8cb" stroke="#9da8cb" stroke-width="4" stroke-linejoin="round"/>
<polygon points="1032.5,1140.0 1070.0,1115.0 1122.5,1112.5 1122.5,1182.5 1050.0,1182.5" fill="#dfa4a4" stroke="#dfa4a4" stroke-width="4" stroke-linejoin="round"/>
<polygon points="1050.0,1182.5 1122.5,1182.5 1122.5,1237.5 1080.0,1240.0 1052.5,1232.5" fill="#c25c5c" stroke="#c25c5c" stroke-width="4" stroke-linejoin="round"/>
<polygon points="774.3,1214.7 787.5,1188.3 835.0,1210.0 837.5,1242.5 772.6,1242.5" fill="#c25c5c" stroke="#c25c5c" stroke-width="4" stroke-linejoin="round"/>
<polygon points="827.5,1212.5 905.0,1212.5 905.0,1250.0 917.5,1270.0 915.0,1287.5 830.0,1287.5" fill="#6373b0" stroke="#6373b0" stroke-width="4" stroke-linejoin="round"/>
<polygon points="905.0,1215.0 940.0,1210.0 965.0,1212.5 975.0,1245.0 975.0,1285.0 915.0,1287.5 917.5,1270.0 905.0,1250.0" fill="#9da8cb" stroke="#9da8cb" stroke-width="4" stroke-linejoin="round"/>
<polygon points="772.6,1245.0 827.5,1245.0 830.0,1287.5 857.5,1290.0 857.5,1317.5 785.3,1326.2 776.0,1287.2" fill="#9da8cb" stroke="#9da8cb" stroke-width="4" stroke-linejoin="round"/>
<polygon points="860.0,1289.0 937.5,1289.0 937.5,1335.0 865.0,1335.0" fill="#6373b0" stroke="#6373b0" stroke-width="4" stroke-linejoin="round"/>
<polygon points="940.0,1289.0 1035.0,1285.0 1035.0,1330.0 940.0,1335.0" fill="#38447a" stroke="#38447a" stroke-width="4" stroke-linejoin="round"/>
<polygon points="785.3,1326.2 857.5,1317.5 865.0,1335.0 940.0,1335.0 1005.0,1332.5 1037.5,1330.0 1037.5,1427.5 925.0,1427.5 798.3,1433.0 777.5,1382.5" fill="#dfa4a4" stroke="#dfa4a4" stroke-width="4" stroke-linejoin="round"/>
<polygon points="835.0,1380.0 917.5,1380.0 917.5,1425.0 835.0,1425.0" fill="#981b30" stroke="#981b30" stroke-width="4" stroke-linejoin="round"/>
<polygon points="840.9,1528.9 867.5,1485.0 875.0,1430.0 952.5,1430.0 953.0,1538.1" fill="#c25c5c" stroke="#c25c5c" stroke-width="4" stroke-linejoin="round"/>
<polygon points="1012.5,1430.0 1095.0,1437.5 1095.0,1546.3 1020.0,1541.9 1015.0,1475.0" fill="#c25c5c" stroke="#c25c5c" stroke-width="4" stroke-linejoin="round"/>
<polygon points="1095.0,1437.5 1155.0,1437.5 1175.0,1480.0 1155.0,1510.0 1177.5,1551.0 1095.0,1546.3" fill="#c25c5c" stroke="#c25c5c" stroke-width="4" stroke-linejoin="round"/>
<polygon points="1155.0,1437.5 1215.0,1435.0 1250.0,1460.0 1250.0,1482.5 1227.5,1490.0 1227.5,1553.9 1177.5,1551.0 1155.0,1510.0 1175.0,1480.0" fill="#c25c5c" stroke="#c25c5c" stroke-width="4" stroke-linejoin="round"/>
<polygon points="1212.5,1212.5 1275.0,1155.0 1330.0,1210.0 1287.5,1240.0 1212.5,1227.5" fill="#c25c5c" stroke="#c25c5c" stroke-width="4" stroke-linejoin="round"/>
<polygon points="1080.0,1237.5 1155.0,1235.0 1152.5,1275.0 1145.0,1295.0 1110.0,1300.0 1080.0,1280.0" fill="#c25c5c" stroke="#c25c5c" stroke-width="4" stroke-linejoin="round"/>
<polygon points="1155.0,1235.0 1257.5,1245.0 1257.5,1272.5 1190.0,1275.0 1185.0,1247.5 1157.5,1247.5" fill="#c25c5c" stroke="#c25c5c" stroke-width="4" stroke-linejoin="round"/>
<polygon points="872.5,646.0 945.0,644.0 954.0,672.5 941.5,680.0 910.0,730.0 880.0,760.0 852.5,777.5 839.0,776.0 839.0,724.0 875.0,720.0" fill="none" stroke="#f3dfe2" stroke-opacity="0.75" stroke-width="2.2" stroke-linejoin="round"/>
<polygon points="947.5,646.0 960.0,617.5 976.5,617.5 978.5,635.0 1012.5,649.0 975.0,672.5 954.0,672.5" fill="none" stroke="#f3dfe2" stroke-opacity="0.75" stroke-width="2.2" stroke-linejoin="round"/>
<polygon points="852.5,792.5 880.0,761.0 911.0,730.0 941.5,680.0 954.0,672.5 961.0,674.0 960.0,755.0 939.0,757.5 935.0,782.5 900.0,785.0" fill="none" stroke="#f3dfe2" stroke-opacity="0.75" stroke-width="2.2" stroke-linejoin="round"/>
<polygon points="961.0,675.0 975.0,675.0 1029.0,730.0 1010.0,762.5 961.0,755.0" fill="none" stroke="#f3dfe2" stroke-opacity="0.75" stroke-width="2.2" stroke-linejoin="round"/>
<polygon points="939.0,757.5 980.0,759.0 976.0,785.0 967.5,812.5 957.5,812.5 954.0,830.0 952.5,800.0 936.0,784.0" fill="none" stroke="#f3dfe2" stroke-opacity="0.75" stroke-width="2.2" stroke-linejoin="round"/>
<polygon points="975.0,675.0 1012.5,650.0 1025.0,621.0 1072.5,635.0 1080.0,685.0 1047.5,722.5 1029.0,730.0" fill="none" stroke="#f3dfe2" stroke-opacity="0.75" stroke-width="2.2" stroke-linejoin="round"/>
<polygon points="1005.0,762.5 1032.5,724.0 1052.5,735.0 1040.0,770.0 1027.5,785.0" fill="none" stroke="#f3dfe2" stroke-opacity="0.75" stroke-width="2.2" stroke-linejoin="round"/>
<polygon points="980.0,759.0 1005.0,762.5 1027.5,785.0 1055.0,814.0 1030.0,840.0 1010.0,846.0 995.0,836.5 957.5,832.5 967.5,812.5 976.0,785.0" fill="none" stroke="#f3dfe2" stroke-opacity="0.75" stroke-width="2.2" stroke-linejoin="round"/>
<polygon points="1027.5,785.0 1040.0,770.0 1052.5,735.0 1110.0,772.5 1107.5,805.0 1067.5,822.5 1055.0,814.0" fill="none" stroke="#f3dfe2" stroke-opacity="0.75" stroke-width="2.2" stroke-linejoin="round"/>
<polygon points="900.0,796.0 935.0,782.5 952.5,800.0 954.0,830.0 940.0,860.0 927.5,857.5 910.0,825.0" fill="none" stroke="#f3dfe2" stroke-opacity="0.75" stroke-width="2.2" stroke-linejoin="round"/>
<polygon points="942.5,835.0 992.5,836.5 1010.0,847.5 1007.5,865.0 987.5,872.5 930.0,874.0 926.5,860.0" fill="none" stroke="#f3dfe2" stroke-opacity="0.75" stroke-width="2.2" stroke-linejoin="round"/>
<polygon points="1145.0,672.5 1180.0,657.5 1200.0,667.5 1204.0,687.5 1192.5,702.5 1180.0,695.0" fill="none" stroke="#f3dfe2" stroke-opacity="0.75" stroke-width="2.2" stroke-linejoin="round"/>
<polygon points="1170.0,742.5 1205.0,730.0 1265.0,755.0 1250.0,795.0 1255.0,807.5 1225.0,830.0 1200.0,805.0" fill="none" stroke="#f3dfe2" stroke-opacity="0.75" stroke-width="2.2" stroke-linejoin="round"/>
<polygon points="1260.0,720.0 1300.0,670.0 1360.9,665.5 1370.0,760.0 1340.0,765.0 1315.0,767.5 1287.5,760.0 1265.0,740.0" fill="none" stroke="#f3dfe2" stroke-opacity="0.75" stroke-width="2.2" stroke-linejoin="round"/>
<polygon points="1257.5,772.5 1287.5,760.0 1322.5,770.0 1305.0,795.0 1290.0,805.0 1260.0,805.0" fill="none" stroke="#f3dfe2" stroke-opacity="0.75" stroke-width="2.2" stroke-linejoin="round"/>
<polygon points="1291.0,807.5 1322.5,769.0 1340.0,770.0 1352.5,830.0 1385.0,845.0 1320.0,862.5 1310.0,867.5" fill="none" stroke="#f3dfe2" stroke-opacity="0.75" stroke-width="2.2" stroke-linejoin="round"/>
<polygon points="1340.0,767.5 1380.0,760.0 1415.0,832.5 1400.0,845.0 1355.0,832.5" fill="none" stroke="#f3dfe2" stroke-opacity="0.75" stroke-width="2.2" stroke-linejoin="round"/>
<polygon points="1165.0,880.0 1200.0,867.5 1245.0,902.5 1310.0,867.5 1332.5,895.0 1380.0,852.5 1420.0,857.5 1445.0,847.5 1523.7,857.3 1543.6,877.4 1583.9,904.8 1527.5,947.5 1512.5,940.0 1487.5,945.0 1452.5,950.0 1442.5,977.5 1407.5,971.0 1378.5,987.5 1360.0,975.0 1307.5,987.5 1302.5,980.0 1268.5,990.0 1265.0,967.5 1250.0,960.0 1240.0,935.0 1225.0,925.0 1200.0,935.0 1172.5,940.0" fill="none" stroke="#f3dfe2" stroke-opacity="0.75" stroke-width="2.2" stroke-linejoin="round"/>
<polygon points="1412.3,830.9 1480.0,777.3 1505.7,809.5 1504.9,827.3 1521.5,843.1 1522.1,853.6 1457.4,864.5 1436.9,848.7 1421.0,854.6 1400.5,847.5" fill="none" stroke="#f3dfe2" stroke-opacity="0.75" stroke-width="2.2" stroke-linejoin="round"/>
<polygon points="1200.0,865.0 1222.5,832.5 1250.0,806.5 1285.0,809.0 1310.0,865.0 1282.5,875.0 1282.5,890.0 1245.0,902.5 1235.0,887.5" fill="none" stroke="#f3dfe2" stroke-opacity="0.75" stroke-width="2.2" stroke-linejoin="round"/>
<polygon points="1315.0,867.5 1355.0,847.5 1377.5,855.0 1332.5,890.0" fill="none" stroke="#f3dfe2" stroke-opacity="0.75" stroke-width="2.2" stroke-linejoin="round"/>
<polygon points="1442.5,977.5 1452.5,950.0 1487.5,945.0 1512.5,940.0 1527.5,947.5 1583.9,904.8 1602.5,944.7 1616.6,987.9 1617.6,1017.4 1580.0,1060.0 1600.0,1127.5 1527.5,1145.0 1482.5,1115.0 1492.5,1080.0 1472.5,1035.0 1452.5,1010.0" fill="none" stroke="#f3dfe2" stroke-opacity="0.75" stroke-width="2.2" stroke-linejoin="round"/>
<polygon points="1614.5,1158.0 1680.3,1125.0 1680.3,1120.0 1700.2,1149.6 1765.0,1170.0 1765.0,1185.0 1698.9,1265.1 1664.5,1261.5 1662.5,1225.5 1650.0,1211.5 1639.5,1211.5" fill="none" stroke="#f3dfe2" stroke-opacity="0.75" stroke-width="2.2" stroke-linejoin="round"/>
<polygon points="1519.5,1186.5 1537.5,1168.5 1557.0,1183.0 1578.5,1197.0 1600.0,1200.5 1614.5,1218.5 1646.5,1250.5 1664.5,1261.5 1698.9,1265.1 1688.0,1311.1 1657.0,1304.5 1650.0,1286.5 1596.5,1279.5 1550.0,1250.5 1532.0,1218.5" fill="none" stroke="#f3dfe2" stroke-opacity="0.75" stroke-width="2.2" stroke-linejoin="round"/>
<polygon points="1482.5,1240.0 1522.5,1185.0 1530.0,1210.0 1550.0,1247.5 1587.5,1270.0 1570.0,1297.5 1550.0,1305.0" fill="none" stroke="#f3dfe2" stroke-opacity="0.75" stroke-width="2.2" stroke-linejoin="round"/>
<polygon points="1550.0,1305.0 1587.5,1270.0 1600.0,1272.5 1652.5,1287.5 1684.5,1319.5 1667.9,1365.5 1607.5,1367.5 1560.0,1340.0" fill="none" stroke="#f3dfe2" stroke-opacity="0.75" stroke-width="2.2" stroke-linejoin="round"/>
<polygon points="1532.5,1352.5 1555.0,1332.5 1600.0,1365.0 1667.9,1365.5 1648.6,1417.2 1645.3,1421.5 1641.7,1443.4 1600.0,1445.0 1530.0,1405.0" fill="none" stroke="#f3dfe2" stroke-opacity="0.75" stroke-width="2.2" stroke-linejoin="round"/>
<polygon points="753.8,892.7 847.5,867.5 850.0,957.5 767.3,963.5" fill="none" stroke="#f3dfe2" stroke-opacity="0.75" stroke-width="2.2" stroke-linejoin="round"/>
<polygon points="850.0,867.5 922.5,867.5 924.0,960.0 900.0,967.5 850.0,957.5" fill="none" stroke="#f3dfe2" stroke-opacity="0.75" stroke-width="2.2" stroke-linejoin="round"/>
<polygon points="882.5,967.5 922.5,960.0 970.0,995.0 942.5,1040.0 882.5,1052.5" fill="none" stroke="#f3dfe2" stroke-opacity="0.75" stroke-width="2.2" stroke-linejoin="round"/>
<polygon points="790.5,1036.0 880.0,1035.0 880.0,1052.5 862.5,1077.5 808.2,1085.0" fill="none" stroke="#f3dfe2" stroke-opacity="0.75" stroke-width="2.2" stroke-linejoin="round"/>
<polygon points="802.6,1099.4 808.7,1088.8 862.5,1077.5 892.5,1055.0 892.5,1127.5 823.6,1117.2 820.0,1110.0" fill="none" stroke="#f3dfe2" stroke-opacity="0.75" stroke-width="2.2" stroke-linejoin="round"/>
<polygon points="892.5,1055.0 940.0,1042.5 950.0,1085.0 940.0,1145.0 922.5,1150.0 900.0,1127.5" fill="none" stroke="#f3dfe2" stroke-opacity="0.75" stroke-width="2.2" stroke-linejoin="round"/>
<polygon points="940.0,1042.5 970.0,995.0 1010.0,1010.0 1032.5,1047.5 1000.0,1085.0 980.0,1087.5 950.0,1085.0" fill="none" stroke="#f3dfe2" stroke-opacity="0.75" stroke-width="2.2" stroke-linejoin="round"/>
<polygon points="980.0,1090.0 1010.0,1055.0 1030.0,1052.5 1067.5,1060.0 1070.0,1110.0 1032.5,1140.0 995.0,1120.0" fill="none" stroke="#f3dfe2" stroke-opacity="0.75" stroke-width="2.2" stroke-linejoin="round"/>
<polygon points="1032.5,1050.0 1090.0,1007.5 1102.5,1007.5 1100.0,1060.0 1072.5,1065.0" fill="none" stroke="#f3dfe2" stroke-opacity="0.75" stroke-width="2.2" stroke-linejoin="round"/>
<polygon points="1072.5,1065.0 1100.0,1060.0 1102.5,1007.5 1135.0,1025.0 1145.0,1085.0 1122.5,1112.5 1072.5,1112.5" fill="none" stroke="#f3dfe2" stroke-opacity="0.75" stroke-width="2.2" stroke-linejoin="round"/>
<polygon points="1125.0,1002.5 1167.5,955.0 1225.0,925.0 1267.5,972.5 1270.0,1002.5 1205.0,1040.0 1147.5,1070.0 1137.5,1027.5" fill="none" stroke="#f3dfe2" stroke-opacity="0.75" stroke-width="2.2" stroke-linejoin="round"/>
<polygon points="1062.5,970.0 1095.0,942.5 1145.0,975.0 1122.5,1012.5 1100.0,1002.5" fill="none" stroke="#f3dfe2" stroke-opacity="0.75" stroke-width="2.2" stroke-linejoin="round"/>
<polygon points="1205.0,1040.0 1287.5,1002.5 1332.5,1030.0 1330.0,1055.0 1317.5,1102.5 1275.0,1152.5 1245.0,1100.0" fill="none" stroke="#f3dfe2" stroke-opacity="0.75" stroke-width="2.2" stroke-linejoin="round"/>
<polygon points="795.6,1143.2 817.2,1119.4 892.5,1127.5 892.5,1207.5 837.5,1211.0 788.5,1185.3" fill="none" stroke="#f3dfe2" stroke-opacity="0.75" stroke-width="2.2" stroke-linejoin="round"/>
<polygon points="895.0,1135.0 920.0,1150.0 940.0,1150.0 940.0,1207.5 895.0,1210.0" fill="none" stroke="#f3dfe2" stroke-opacity="0.75" stroke-width="2.2" stroke-linejoin="round"/>
<polygon points="940.0,1146.0 997.5,1146.0 1032.5,1141.0 1052.5,1210.0 975.0,1212.5 965.0,1212.5 940.0,1207.5" fill="none" stroke="#f3dfe2" stroke-opacity="0.75" stroke-width="2.2" stroke-linejoin="round"/>
<polygon points="1032.5,1140.0 1070.0,1115.0 1122.5,1112.5 1122.5,1182.5 1050.0,1182.5" fill="none" stroke="#f3dfe2" stroke-opacity="0.75" stroke-width="2.2" stroke-linejoin="round"/>
<polygon points="1050.0,1182.5 1122.5,1182.5 1122.5,1237.5 1080.0,1240.0 1052.5,1232.5" fill="none" stroke="#f3dfe2" stroke-opacity="0.75" stroke-width="2.2" stroke-linejoin="round"/>
<polygon points="774.3,1214.7 787.5,1188.3 835.0,1210.0 837.5,1242.5 772.6,1242.5" fill="none" stroke="#f3dfe2" stroke-opacity="0.75" stroke-width="2.2" stroke-linejoin="round"/>
<polygon points="827.5,1212.5 905.0,1212.5 905.0,1250.0 917.5,1270.0 915.0,1287.5 830.0,1287.5" fill="none" stroke="#f3dfe2" stroke-opacity="0.75" stroke-width="2.2" stroke-linejoin="round"/>
<polygon points="905.0,1215.0 940.0,1210.0 965.0,1212.5 975.0,1245.0 975.0,1285.0 915.0,1287.5 917.5,1270.0 905.0,1250.0" fill="none" stroke="#f3dfe2" stroke-opacity="0.75" stroke-width="2.2" stroke-linejoin="round"/>
<polygon points="772.6,1245.0 827.5,1245.0 830.0,1287.5 857.5,1290.0 857.5,1317.5 785.3,1326.2 776.0,1287.2" fill="none" stroke="#f3dfe2" stroke-opacity="0.75" stroke-width="2.2" stroke-linejoin="round"/>
<polygon points="860.0,1289.0 937.5,1289.0 937.5,1335.0 865.0,1335.0" fill="none" stroke="#f3dfe2" stroke-opacity="0.75" stroke-width="2.2" stroke-linejoin="round"/>
<polygon points="940.0,1289.0 1035.0,1285.0 1035.0,1330.0 940.0,1335.0" fill="none" stroke="#f3dfe2" stroke-opacity="0.75" stroke-width="2.2" stroke-linejoin="round"/>
<polygon points="785.3,1326.2 857.5,1317.5 865.0,1335.0 940.0,1335.0 1005.0,1332.5 1037.5,1330.0 1037.5,1427.5 925.0,1427.5 798.3,1433.0 777.5,1382.5" fill="none" stroke="#f3dfe2" stroke-opacity="0.75" stroke-width="2.2" stroke-linejoin="round"/>
<polygon points="835.0,1380.0 917.5,1380.0 917.5,1425.0 835.0,1425.0" fill="none" stroke="#f3dfe2" stroke-opacity="0.75" stroke-width="2.2" stroke-linejoin="round"/>
<polygon points="840.9,1528.9 867.5,1485.0 875.0,1430.0 952.5,1430.0 953.0,1538.1" fill="none" stroke="#f3dfe2" stroke-opacity="0.75" stroke-width="2.2" stroke-linejoin="round"/>
<polygon points="1012.5,1430.0 1095.0,1437.5 1095.0,1546.3 1020.0,1541.9 1015.0,1475.0" fill="none" stroke="#f3dfe2" stroke-opacity="0.75" stroke-width="2.2" stroke-linejoin="round"/>
<polygon points="1095.0,1437.5 1155.0,1437.5 1175.0,1480.0 1155.0,1510.0 1177.5,1551.0 1095.0,1546.3" fill="none" stroke="#f3dfe2" stroke-opacity="0.75" stroke-width="2.2" stroke-linejoin="round"/>
<polygon points="1155.0,1437.5 1215.0,1435.0 1250.0,1460.0 1250.0,1482.5 1227.5,1490.0 1227.5,1553.9 1177.5,1551.0 1155.0,1510.0 1175.0,1480.0" fill="none" stroke="#f3dfe2" stroke-opacity="0.75" stroke-width="2.2" stroke-linejoin="round"/>
<polygon points="1212.5,1212.5 1275.0,1155.0 1330.0,1210.0 1287.5,1240.0 1212.5,1227.5" fill="none" stroke="#f3dfe2" stroke-opacity="0.75" stroke-width="2.2" stroke-linejoin="round"/>
<polygon points="1080.0,1237.5 1155.0,1235.0 1152.5,1275.0 1145.0,1295.0 1110.0,1300.0 1080.0,1280.0" fill="none" stroke="#f3dfe2" stroke-opacity="0.75" stroke-width="2.2" stroke-linejoin="round"/>
<polygon points="1155.0,1235.0 1257.5,1245.0 1257.5,1272.5 1190.0,1275.0 1185.0,1247.5 1157.5,1247.5" fill="none" stroke="#f3dfe2" stroke-opacity="0.75" stroke-width="2.2" stroke-linejoin="round"/>
<polyline points="737.5,405.0 717.5,440.0 700.0,497.5" fill="none" stroke="#f3dfe2" stroke-opacity="0.75" stroke-width="2.2" stroke-linejoin="round"/>
<polyline points="757.5,402.5 757.5,435.0 770.0,437.5 772.5,455.0 802.5,470.0 802.5,497.5" fill="none" stroke="#f3dfe2" stroke-opacity="0.75" stroke-width="2.2" stroke-linejoin="round"/>
<polyline points="817.5,400.0 807.5,440.0 787.5,457.5" fill="none" stroke="#f3dfe2" stroke-opacity="0.75" stroke-width="2.2" stroke-linejoin="round"/>
<polyline points="860.0,400.0 857.5,437.5 835.0,475.0 835.0,495.0" fill="none" stroke="#f3dfe2" stroke-opacity="0.75" stroke-width="2.2" stroke-linejoin="round"/>
<polyline points="902.5,400.0 904.0,437.5 895.0,470.0 892.5,517.5" fill="none" stroke="#f3dfe2" stroke-opacity="0.75" stroke-width="2.2" stroke-linejoin="round"/>
<polyline points="904.0,437.5 945.0,437.5 975.0,452.5 985.0,475.0 995.0,497.5 980.0,512.5 960.0,515.0" fill="none" stroke="#f3dfe2" stroke-opacity="0.75" stroke-width="2.2" stroke-linejoin="round"/>
<polyline points="700.0,505.0 800.0,507.5 890.0,502.5 892.5,517.5 960.0,515.0 987.5,507.5 995.0,497.5" fill="none" stroke="#f3dfe2" stroke-opacity="0.75" stroke-width="2.2" stroke-linejoin="round"/>
<polyline points="795.0,510.0 780.0,545.0 745.0,567.5 732.5,585.0 720.0,585.0" fill="none" stroke="#f3dfe2" stroke-opacity="0.75" stroke-width="2.2" stroke-linejoin="round"/>
<polyline points="800.0,557.5 890.0,557.5 910.0,562.5 977.5,562.5" fill="none" stroke="#f3dfe2" stroke-opacity="0.75" stroke-width="2.2" stroke-linejoin="round"/>
<polyline points="797.5,510.0 800.0,557.5 815.0,562.5 807.5,635.0" fill="none" stroke="#f3dfe2" stroke-opacity="0.75" stroke-width="2.2" stroke-linejoin="round"/>
<polyline points="892.5,517.5 892.5,640.0" fill="none" stroke="#f3dfe2" stroke-opacity="0.75" stroke-width="2.2" stroke-linejoin="round"/>
<polyline points="960.0,515.0 967.5,540.0 977.5,540.0 978.5,635.0" fill="none" stroke="#f3dfe2" stroke-opacity="0.75" stroke-width="2.2" stroke-linejoin="round"/>
<polyline points="725.0,640.0 760.0,635.0 830.0,640.0 872.5,645.0" fill="none" stroke="#f3dfe2" stroke-opacity="0.75" stroke-width="2.2" stroke-linejoin="round"/>
<polyline points="830.0,640.0 825.0,677.5 805.0,687.5 732.5,690.0" fill="none" stroke="#f3dfe2" stroke-opacity="0.75" stroke-width="2.2" stroke-linejoin="round"/>
<polyline points="805.0,687.5 807.5,715.0 840.0,724.0" fill="none" stroke="#f3dfe2" stroke-opacity="0.75" stroke-width="2.2" stroke-linejoin="round"/>
<polyline points="745.0,757.5 805.0,740.0 810.0,715.0" fill="none" stroke="#f3dfe2" stroke-opacity="0.75" stroke-width="2.2" stroke-linejoin="round"/>
<polyline points="755.0,812.5 830.0,812.5 852.5,792.5" fill="none" stroke="#f3dfe2" stroke-opacity="0.75" stroke-width="2.2" stroke-linejoin="round"/>
<polyline points="815.0,815.0 830.0,865.0" fill="none" stroke="#f3dfe2" stroke-opacity="0.75" stroke-width="2.2" stroke-linejoin="round"/>
<polyline points="982.5,872.5 985.0,927.5" fill="none" stroke="#f3dfe2" stroke-opacity="0.75" stroke-width="2.2" stroke-linejoin="round"/>
<polyline points="1025.0,870.0 1025.0,940.0 1010.0,942.5" fill="none" stroke="#f3dfe2" stroke-opacity="0.75" stroke-width="2.2" stroke-linejoin="round"/>
<polyline points="925.0,930.0 1010.0,930.0" fill="none" stroke="#f3dfe2" stroke-opacity="0.75" stroke-width="2.2" stroke-linejoin="round"/>
<polyline points="1010.0,965.0 1062.5,970.0 1095.0,942.5 1080.0,890.0 1065.0,870.0 1010.0,870.0" fill="none" stroke="#f3dfe2" stroke-opacity="0.75" stroke-width="2.2" stroke-linejoin="round"/>
<polyline points="1080.0,890.0 1162.5,880.0 1172.5,937.5 1145.0,965.0" fill="none" stroke="#f3dfe2" stroke-opacity="0.75" stroke-width="2.2" stroke-linejoin="round"/>
<polyline points="1065.0,820.0 1080.0,865.0 1080.0,890.0" fill="none" stroke="#f3dfe2" stroke-opacity="0.75" stroke-width="2.2" stroke-linejoin="round"/>
<polyline points="1110.0,772.5 1137.5,812.5 1137.5,877.5" fill="none" stroke="#f3dfe2" stroke-opacity="0.75" stroke-width="2.2" stroke-linejoin="round"/>
<polyline points="1137.5,812.5 1195.0,800.0 1222.5,845.0 1200.0,867.5" fill="none" stroke="#f3dfe2" stroke-opacity="0.75" stroke-width="2.2" stroke-linejoin="round"/>
<polyline points="1195.0,800.0 1180.0,770.0 1167.5,737.5" fill="none" stroke="#f3dfe2" stroke-opacity="0.75" stroke-width="2.2" stroke-linejoin="round"/>
<polyline points="777.5,957.5 880.0,965.0 882.5,1035.0 802.5,1032.5" fill="none" stroke="#f3dfe2" stroke-opacity="0.75" stroke-width="2.2" stroke-linejoin="round"/>
<polyline points="1382.5,757.5 1425.0,742.5" fill="none" stroke="#f3dfe2" stroke-opacity="0.75" stroke-width="2.2" stroke-linejoin="round"/>
<polyline points="1340.0,672.5 1420.0,726.0" fill="none" stroke="#f3dfe2" stroke-opacity="0.75" stroke-width="2.2" stroke-linejoin="round"/>
<polyline points="1000.0,870.0 1075.0,870.0 1080.0,890.0 1165.0,877.5" fill="none" stroke="#f3dfe2" stroke-opacity="0.75" stroke-width="2.2" stroke-linejoin="round"/>
<polyline points="1075.0,840.0 1080.0,890.0 1097.5,920.0 1092.5,950.0 1065.0,970.0" fill="none" stroke="#f3dfe2" stroke-opacity="0.75" stroke-width="2.2" stroke-linejoin="round"/>
<polyline points="1137.5,840.0 1137.5,877.5" fill="none" stroke="#f3dfe2" stroke-opacity="0.75" stroke-width="2.2" stroke-linejoin="round"/>
<polyline points="1000.0,967.5 1065.0,970.0" fill="none" stroke="#f3dfe2" stroke-opacity="0.75" stroke-width="2.2" stroke-linejoin="round"/>
<polyline points="1020.0,872.5 1022.5,940.0 1000.0,945.0" fill="none" stroke="#f3dfe2" stroke-opacity="0.75" stroke-width="2.2" stroke-linejoin="round"/>
<polyline points="1000.0,1010.0 1012.5,1010.0 1035.0,1050.0" fill="none" stroke="#f3dfe2" stroke-opacity="0.75" stroke-width="2.2" stroke-linejoin="round"/>
<polyline points="1147.5,1085.0 1190.0,1140.0 1182.5,1160.0 1210.0,1212.5" fill="none" stroke="#f3dfe2" stroke-opacity="0.75" stroke-width="2.2" stroke-linejoin="round"/>
<polyline points="1125.0,1157.5 1182.5,1160.0" fill="none" stroke="#f3dfe2" stroke-opacity="0.75" stroke-width="2.2" stroke-linejoin="round"/>
<polyline points="1147.5,1085.0 1182.5,1112.5 1217.5,1072.5" fill="none" stroke="#f3dfe2" stroke-opacity="0.75" stroke-width="2.2" stroke-linejoin="round"/>
<polyline points="1320.0,1107.5 1332.5,1112.5 1345.0,1150.0 1355.0,1197.5" fill="none" stroke="#f3dfe2" stroke-opacity="0.75" stroke-width="2.2" stroke-linejoin="round"/>
<polyline points="1385.0,1097.5 1372.5,1197.5" fill="none" stroke="#f3dfe2" stroke-opacity="0.75" stroke-width="2.2" stroke-linejoin="round"/>
<polyline points="1425.0,1105.0 1437.5,1140.0 1430.0,1207.5" fill="none" stroke="#f3dfe2" stroke-opacity="0.75" stroke-width="2.2" stroke-linejoin="round"/>
<polyline points="1472.5,1115.0 1500.0,1120.0 1525.0,1170.0" fill="none" stroke="#f3dfe2" stroke-opacity="0.75" stroke-width="2.2" stroke-linejoin="round"/>
<polyline points="1320.0,1107.5 1387.5,1095.0 1400.0,1112.5 1425.0,1105.0 1472.5,1115.0" fill="none" stroke="#f3dfe2" stroke-opacity="0.75" stroke-width="2.2" stroke-linejoin="round"/>
<polyline points="1336.0,1055.0 1362.5,1058.5 1395.0,1077.5 1385.0,1095.0 1400.0,1110.0 1420.0,1103.5" fill="none" stroke="#f3dfe2" stroke-opacity="0.75" stroke-width="2.2" stroke-linejoin="round"/>
<polyline points="1375.0,986.0 1365.0,1007.5 1375.0,1016.0 1345.0,1035.0 1336.0,1055.0" fill="none" stroke="#f3dfe2" stroke-opacity="0.75" stroke-width="2.2" stroke-linejoin="round"/>
<polyline points="1425.0,1102.5 1442.5,1050.0 1470.0,1042.5 1492.5,1080.0 1482.5,1115.0" fill="none" stroke="#f3dfe2" stroke-opacity="0.75" stroke-width="2.2" stroke-linejoin="round"/>
<polyline points="1112.5,1300.0 1115.0,1355.0 1140.0,1360.0 1130.0,1430.0" fill="none" stroke="#f3dfe2" stroke-opacity="0.75" stroke-width="2.2" stroke-linejoin="round"/>
<polyline points="1037.5,1360.0 1140.0,1360.0" fill="none" stroke="#f3dfe2" stroke-opacity="0.75" stroke-width="2.2" stroke-linejoin="round"/>
<polyline points="1580.0,1060.0 1600.0,1127.5 1615.0,1162.5" fill="none" stroke="#f3dfe2" stroke-opacity="0.75" stroke-width="2.2" stroke-linejoin="round"/>
<polyline points="1527.5,1145.0 1600.0,1127.5" fill="none" stroke="#f3dfe2" stroke-opacity="0.75" stroke-width="2.2" stroke-linejoin="round"/>
<polyline points="1037.5,1235.0 1077.5,1240.0 1080.0,1280.0 1110.0,1300.0" fill="none" stroke="#f3dfe2" stroke-opacity="0.75" stroke-width="2.2" stroke-linejoin="round"/>
<polyline points="1210.0,1212.5 1275.0,1155.0" fill="none" stroke="#f3dfe2" stroke-opacity="0.75" stroke-width="2.2" stroke-linejoin="round"/>
<polyline points="1037.5,1437.5 1127.5,1435.0" fill="none" stroke="#f3dfe2" stroke-opacity="0.75" stroke-width="2.2" stroke-linejoin="round"/>
<polyline points="952.5,1430.0 954.0,1520.0" fill="none" stroke="#f3dfe2" stroke-opacity="0.75" stroke-width="2.2" stroke-linejoin="round"/>
<polyline points="1012.5,1430.0 1020.0,1527.5" fill="none" stroke="#f3dfe2" stroke-opacity="0.75" stroke-width="2.2" stroke-linejoin="round"/>
<polyline points="1095.0,1437.5 1095.0,1532.5" fill="none" stroke="#f3dfe2" stroke-opacity="0.75" stroke-width="2.2" stroke-linejoin="round"/>
<polyline points="875.0,1430.0 867.5,1485.0 850.0,1517.5" fill="none" stroke="#f3dfe2" stroke-opacity="0.75" stroke-width="2.2" stroke-linejoin="round"/>
<polyline points="980.0,1135.0 995.0,1145.0 942.5,1145.0 950.0,1085.0" fill="none" stroke="#f3dfe2" stroke-opacity="0.75" stroke-width="2.2" stroke-linejoin="round"/>
<polyline points="1313.5,865.0 1332.5,895.0 1350.0,922.5 1363.5,950.0 1360.0,975.0" fill="none" stroke="#f3dfe2" stroke-opacity="0.75" stroke-width="2.2" stroke-linejoin="round"/>
<polyline points="1420.0,857.5 1415.0,902.5 1416.0,945.0 1408.5,971.0" fill="none" stroke="#f3dfe2" stroke-opacity="0.75" stroke-width="2.2" stroke-linejoin="round"/>
<polyline points="1245.0,902.5 1240.0,935.0" fill="none" stroke="#f3dfe2" stroke-opacity="0.75" stroke-width="2.2" stroke-linejoin="round"/>
<polyline points="1000.0,405.0 1012.5,427.5 1012.5,470.0 1000.0,490.0" fill="none" stroke="#f3dfe2" stroke-opacity="0.75" stroke-width="2.2" stroke-linejoin="round"/>
<polyline points="995.0,497.5 1000.0,490.0 1025.0,495.0 1052.5,466.0 1068.5,470.0 1071.0,528.5 1041.0,552.5 1017.5,542.5 1000.0,525.0" fill="none" stroke="#f3dfe2" stroke-opacity="0.75" stroke-width="2.2" stroke-linejoin="round"/>
<polyline points="1052.5,400.0 1057.5,417.5 1080.0,422.5 1085.0,450.0 1071.0,470.0" fill="none" stroke="#f3dfe2" stroke-opacity="0.75" stroke-width="2.2" stroke-linejoin="round"/>
<polyline points="1085.0,450.0 1110.0,450.0 1116.0,470.0 1110.0,487.5 1118.5,520.0 1110.0,528.5 1071.0,528.5" fill="none" stroke="#f3dfe2" stroke-opacity="0.75" stroke-width="2.2" stroke-linejoin="round"/>
<polyline points="1137.5,400.0 1115.0,427.5 1113.5,443.5 1110.0,450.0" fill="none" stroke="#f3dfe2" stroke-opacity="0.75" stroke-width="2.2" stroke-linejoin="round"/>
<polyline points="1113.5,443.5 1127.5,447.5 1138.5,466.0 1180.0,471.0" fill="none" stroke="#f3dfe2" stroke-opacity="0.75" stroke-width="2.2" stroke-linejoin="round"/>
<polyline points="1180.0,482.5 1157.5,533.5 1138.5,535.0 1122.5,547.5 1110.0,567.5 1117.5,587.5 1132.5,595.0 1152.5,591.0 1175.0,620.0 1177.5,655.0" fill="none" stroke="#f3dfe2" stroke-opacity="0.75" stroke-width="2.2" stroke-linejoin="round"/>
<polyline points="1110.0,528.5 1122.5,547.5" fill="none" stroke="#f3dfe2" stroke-opacity="0.75" stroke-width="2.2" stroke-linejoin="round"/>
<polyline points="1157.5,533.5 1170.0,545.0 1217.5,540.0 1233.5,521.0" fill="none" stroke="#f3dfe2" stroke-opacity="0.75" stroke-width="2.2" stroke-linejoin="round"/>
<polyline points="1170.0,545.0 1180.0,587.5 1172.5,607.5 1152.5,591.0" fill="none" stroke="#f3dfe2" stroke-opacity="0.75" stroke-width="2.2" stroke-linejoin="round"/>
<polyline points="1180.0,587.5 1195.0,593.5 1222.5,600.0 1231.0,592.5 1230.0,545.0 1242.5,535.0" fill="none" stroke="#f3dfe2" stroke-opacity="0.75" stroke-width="2.2" stroke-linejoin="round"/>
<polyline points="1231.0,592.5 1260.0,605.0 1306.0,587.5" fill="none" stroke="#f3dfe2" stroke-opacity="0.75" stroke-width="2.2" stroke-linejoin="round"/>
<polyline points="1235.0,602.5 1237.5,620.0 1272.5,665.0 1347.5,670.0" fill="none" stroke="#f3dfe2" stroke-opacity="0.75" stroke-width="2.2" stroke-linejoin="round"/>
<polyline points="1272.5,665.0 1250.0,655.0 1232.5,650.0 1202.5,663.5" fill="none" stroke="#f3dfe2" stroke-opacity="0.75" stroke-width="2.2" stroke-linejoin="round"/>
<polyline points="1040.0,552.5 1050.0,585.0 1041.0,610.0 1023.5,620.0" fill="none" stroke="#f3dfe2" stroke-opacity="0.75" stroke-width="2.2" stroke-linejoin="round"/>
<polyline points="977.5,572.5 1045.0,576.0" fill="none" stroke="#f3dfe2" stroke-opacity="0.75" stroke-width="2.2" stroke-linejoin="round"/>
<polyline points="1117.5,587.5 1077.5,632.5 1067.5,660.0 1080.0,685.0 1115.0,687.5 1145.0,712.5 1190.0,740.0" fill="none" stroke="#f3dfe2" stroke-opacity="0.75" stroke-width="2.2" stroke-linejoin="round"/>
<polyline points="1077.5,632.5 1092.5,645.0 1132.5,655.0 1137.5,672.5 1115.0,687.5" fill="none" stroke="#f3dfe2" stroke-opacity="0.75" stroke-width="2.2" stroke-linejoin="round"/>
<polyline points="1145.0,712.5 1110.0,765.0" fill="none" stroke="#f3dfe2" stroke-opacity="0.75" stroke-width="2.2" stroke-linejoin="round"/>
<polyline points="1195.0,702.5 1195.0,727.5 1167.5,740.0" fill="none" stroke="#f3dfe2" stroke-opacity="0.75" stroke-width="2.2" stroke-linejoin="round"/>
<polyline points="1345.0,1170.0 1357.5,1200.0 1370.0,1196.0 1373.5,1170.0" fill="none" stroke="#f3dfe2" stroke-opacity="0.75" stroke-width="2.2" stroke-linejoin="round"/>
<polyline points="1435.0,1170.0 1428.5,1208.5" fill="none" stroke="#f3dfe2" stroke-opacity="0.75" stroke-width="2.2" stroke-linejoin="round"/>
<polyline points="1288.5,1235.0 1370.0,1196.0 1450.0,1220.0 1482.5,1242.5" fill="none" stroke="#f3dfe2" stroke-opacity="0.75" stroke-width="2.2" stroke-linejoin="round"/>
<polyline points="1380.0,1200.0 1380.0,1228.5 1361.0,1230.0 1361.0,1263.5 1342.5,1272.5 1292.5,1272.5 1291.0,1237.5" fill="none" stroke="#f3dfe2" stroke-opacity="0.75" stroke-width="2.2" stroke-linejoin="round"/>
<polyline points="1361.0,1263.5 1426.0,1312.5 1447.5,1326.0 1466.0,1330.0 1468.5,1350.0 1532.5,1356.0" fill="none" stroke="#f3dfe2" stroke-opacity="0.75" stroke-width="2.2" stroke-linejoin="round"/>
<polyline points="1447.5,1326.0 1446.0,1247.5 1465.0,1235.0" fill="none" stroke="#f3dfe2" stroke-opacity="0.75" stroke-width="2.2" stroke-linejoin="round"/>
<polyline points="1342.5,1272.5 1346.0,1322.5 1370.0,1325.0 1385.0,1340.0 1400.0,1335.0 1426.0,1312.5" fill="none" stroke="#f3dfe2" stroke-opacity="0.75" stroke-width="2.2" stroke-linejoin="round"/>
<polyline points="1385.0,1340.0 1393.5,1365.0 1430.0,1395.0 1477.5,1370.0 1468.5,1350.0" fill="none" stroke="#f3dfe2" stroke-opacity="0.75" stroke-width="2.2" stroke-linejoin="round"/>
<polyline points="1346.0,1322.5 1336.0,1350.0 1335.0,1372.5 1322.5,1375.0 1345.0,1441.0 1370.0,1455.0 1372.5,1490.0 1380.0,1492.5 1385.0,1550.0" fill="none" stroke="#f3dfe2" stroke-opacity="0.75" stroke-width="2.2" stroke-linejoin="round"/>
<polyline points="1150.0,1295.0 1180.0,1322.5 1223.5,1326.0 1258.5,1275.0" fill="none" stroke="#f3dfe2" stroke-opacity="0.75" stroke-width="2.2" stroke-linejoin="round"/>
<polyline points="1223.5,1326.0 1226.0,1336.0 1293.5,1341.0 1297.5,1350.0 1336.0,1350.0" fill="none" stroke="#f3dfe2" stroke-opacity="0.75" stroke-width="2.2" stroke-linejoin="round"/>
<polyline points="1180.0,1322.5 1162.5,1355.0 1162.5,1370.0 1182.5,1385.0 1192.5,1405.0 1188.5,1435.0" fill="none" stroke="#f3dfe2" stroke-opacity="0.75" stroke-width="2.2" stroke-linejoin="round"/>
<polyline points="1226.0,1336.0 1250.0,1375.0 1246.0,1397.5 1220.0,1407.5 1216.0,1420.0 1217.5,1455.0 1250.0,1461.0 1253.5,1482.5" fill="none" stroke="#f3dfe2" stroke-opacity="0.75" stroke-width="2.2" stroke-linejoin="round"/>
<polyline points="1246.0,1397.5 1327.5,1397.5" fill="none" stroke="#f3dfe2" stroke-opacity="0.75" stroke-width="2.2" stroke-linejoin="round"/>
<polyline points="1265.0,1397.5 1263.5,1481.0" fill="none" stroke="#f3dfe2" stroke-opacity="0.75" stroke-width="2.2" stroke-linejoin="round"/>
<polyline points="1227.5,1492.5 1232.5,1485.0 1263.5,1481.0 1292.5,1490.0 1302.5,1510.0 1345.0,1518.5 1350.0,1545.0" fill="none" stroke="#f3dfe2" stroke-opacity="0.75" stroke-width="2.2" stroke-linejoin="round"/>
<polyline points="1430.0,1395.0 1435.0,1422.5 1447.5,1441.0 1383.5,1441.0 1383.5,1497.5 1442.5,1497.5 1428.5,1562.0" fill="none" stroke="#f3dfe2" stroke-opacity="0.75" stroke-width="2.2" stroke-linejoin="round"/>
<polyline points="1447.5,1441.0 1462.5,1426.0 1490.0,1430.0 1510.0,1422.5 1528.5,1405.0" fill="none" stroke="#f3dfe2" stroke-opacity="0.75" stroke-width="2.2" stroke-linejoin="round"/>
<polyline points="1490.0,1430.0 1501.0,1457.5 1496.0,1488.5" fill="none" stroke="#f3dfe2" stroke-opacity="0.75" stroke-width="2.2" stroke-linejoin="round"/>
<polyline points="897.5,1335.0 897.5,1377.5" fill="none" stroke="#f3dfe2" stroke-opacity="0.75" stroke-width="2.2" stroke-linejoin="round"/>
<polyline points="925.0,1425.0 925.0,1412.5 962.5,1370.0 992.5,1355.0 1006.0,1331.0" fill="none" stroke="#f3dfe2" stroke-opacity="0.75" stroke-width="2.2" stroke-linejoin="round"/>
<polyline points="1530.0,945.0 1507.5,1015.0 1475.0,1032.5" fill="none" stroke="#f3dfe2" stroke-opacity="0.75" stroke-width="2.2" stroke-linejoin="round"/>
<polyline points="1507.5,1015.0 1580.0,1060.0" fill="none" stroke="#f3dfe2" stroke-opacity="0.75" stroke-width="2.2" stroke-linejoin="round"/>
<polyline points="1482.5,1240.0 1522.5,1185.0" fill="none" stroke="#f3dfe2" stroke-opacity="0.75" stroke-width="2.2" stroke-linejoin="round"/>
<polyline points="1550.0,1305.0 1587.5,1270.0" fill="none" stroke="#f3dfe2" stroke-opacity="0.75" stroke-width="2.2" stroke-linejoin="round"/>
<polyline points="1532.5,1352.5 1555.0,1332.5 1600.0,1365.0 1655.0,1365.0" fill="none" stroke="#f3dfe2" stroke-opacity="0.75" stroke-width="2.2" stroke-linejoin="round"/></g>
<g clip-path="url(#gc2)"><polygon points="2377.7,402.9 2502.3,397.8 2925.2,397.8 2923.2,409.7 2895.5,427.5 2877.7,451.2 2871.8,472.9 2875.7,483.6 2925.2,518.4 2935.1,534.3 2970.7,534.3 2980.5,544.1 2984.5,565.9 2998.3,587.6 3008.2,623.2 3033.9,652.9 3039.9,670.7 3113.0,728.0 3121.0,753.8 3160.5,785.4 3184.2,813.1 3183.4,830.9 3200.0,846.7 3202.0,860.6 3231.7,894.2 3267.3,915.9 3279.2,925.8 3281.1,953.5 3291.8,977.2 3297.0,1000.0 3302.9,1029.7 3322.7,1039.6 3344.4,1063.3 3346.4,1079.1 3358.3,1114.7 3358.3,1128.5 3362.2,1156.2 3386.0,1162.2 3405.7,1176.0 3443.3,1181.9 3378.0,1259.0 3366.2,1308.5 3346.4,1352.0 3344.4,1401.5 3324.6,1407.4 3322.7,1427.2 3316.7,1435.1 3320.7,1448.9 3300.9,1506.3 3312.8,1518.1 3267.3,1518.1 3231.7,1508.2 3188.2,1490.5 3160.5,1506.3 3158.5,1535.9 3168.4,1551.7 3160.5,1597.2 3144.7,1609.1 3134.8,1609.1 3121.0,1593.3 3121.0,1555.7 3073.5,1549.8 2919.2,1539.9 2541.9,1518.1 2532.0,1510.2 2522.1,1474.6 2504.3,1429.1 2486.5,1399.5 2482.5,1375.7 2492.4,1328.3 2482.5,1292.7 2478.6,1245.2 2478.6,1221.5 2492.4,1193.8 2500.3,1170.1 2498.3,1152.3 2510.2,1134.5 2526.0,1126.6 2526.0,1106.8 2508.2,1102.8 2514.2,1085.0 2504.3,1051.4 2496.4,1033.6 2486.5,1000.0 2470.7,953.5 2458.8,886.3 2391.6,498.7" fill="#981b30"/>
<polygon points="2564.5,646.0 2637.0,644.0 2646.0,672.5 2633.5,680.0 2602.0,730.0 2597.0,717.5 2567.0,720.0" fill="#c25c5c" stroke="#c25c5c" stroke-width="4" stroke-linejoin="round"/>
<polygon points="2531.0,724.0 2597.0,717.5 2602.0,730.0 2572.0,760.0 2544.5,777.5 2531.0,776.0" fill="#9da8cb" stroke="#9da8cb" stroke-width="4" stroke-linejoin="round"/>
<polygon points="2639.5,646.0 2652.0,617.5 2668.5,617.5 2670.5,635.0 2704.5,649.0 2667.0,672.5 2646.0,672.5" fill="#6373b0" stroke="#6373b0" stroke-width="4" stroke-linejoin="round"/>
<polygon points="2544.5,792.5 2572.0,761.0 2603.0,730.0 2633.5,680.0 2646.0,672.5 2653.0,674.0 2652.0,755.0 2631.0,757.5 2627.0,782.5 2592.0,785.0" fill="#6373b0" stroke="#6373b0" stroke-width="4" stroke-linejoin="round"/>
<polygon points="2653.0,675.0 2667.0,675.0 2721.0,730.0 2702.0,762.5 2653.0,755.0" fill="#38447a" stroke="#38447a" stroke-width="4" stroke-linejoin="round"/>
<polygon points="2631.0,757.5 2672.0,759.0 2668.0,785.0 2659.5,812.5 2649.5,812.5 2646.0,830.0 2644.5,800.0 2628.0,784.0" fill="#38447a" stroke="#38447a" stroke-width="4" stroke-linejoin="round"/>
<polygon points="2667.0,675.0 2704.5,650.0 2717.0,621.0 2764.5,635.0 2772.0,685.0 2739.5,722.5 2721.0,730.0" fill="#dfa4a4" stroke="#dfa4a4" stroke-width="4" stroke-linejoin="round"/>
<polygon points="2697.0,762.5 2724.5,724.0 2744.5,735.0 2732.0,770.0 2719.5,785.0" fill="#6373b0" stroke="#6373b0" stroke-width="4" stroke-linejoin="round"/>
<polygon points="2672.0,759.0 2697.0,762.5 2719.5,785.0 2747.0,814.0 2722.0,840.0 2702.0,846.0 2687.0,836.5 2649.5,832.5 2659.5,812.5 2668.0,785.0" fill="#dfa4a4" stroke="#dfa4a4" stroke-width="4" stroke-linejoin="round"/>
<polygon points="2719.5,785.0 2732.0,770.0 2744.5,735.0 2802.0,772.5 2799.5,805.0 2759.5,822.5 2747.0,814.0" fill="#9da8cb" stroke="#9da8cb" stroke-width="4" stroke-linejoin="round"/>
<polygon points="2634.5,835.0 2684.5,836.5 2702.0,847.5 2699.5,865.0 2679.5,872.5 2622.0,874.0 2618.5,860.0" fill="#c25c5c" stroke="#c25c5c" stroke-width="4" stroke-linejoin="round"/>
<polygon points="2837.0,672.5 2872.0,657.5 2892.0,667.5 2896.0,687.5 2884.5,702.5 2872.0,695.0" fill="#6373b0" stroke="#6373b0" stroke-width="4" stroke-linejoin="round"/>
<polygon points="2862.0,742.5 2897.0,730.0 2957.0,755.0 2942.0,795.0 2947.0,807.5 2917.0,830.0 2892.0,805.0" fill="#c25c5c" stroke="#c25c5c" stroke-width="4" stroke-linejoin="round"/>
<polygon points="2927.0,605.0 3010.3,580.4 3021.5,617.1 3052.2,663.2 2984.5,671.0 2952.0,625.0" fill="#c25c5c" stroke="#c25c5c" stroke-width="4" stroke-linejoin="round"/>
<polygon points="2952.0,720.0 2992.0,670.0 3052.9,665.5 3062.0,760.0 3032.0,765.0 3007.0,767.5 2979.5,760.0 2957.0,740.0" fill="#c25c5c" stroke="#c25c5c" stroke-width="4" stroke-linejoin="round"/>
<polygon points="3052.9,665.5 3120.0,715.7 3131.5,740.3 3074.5,757.5 3062.0,760.0" fill="#c25c5c" stroke="#c25c5c" stroke-width="4" stroke-linejoin="round"/>
<polygon points="2949.5,772.5 2979.5,760.0 3014.5,770.0 2997.0,795.0 2982.0,805.0 2952.0,805.0" fill="#38447a" stroke="#38447a" stroke-width="4" stroke-linejoin="round"/>
<polygon points="2983.0,807.5 3014.5,769.0 3032.0,770.0 3044.5,830.0 3077.0,845.0 3012.0,862.5 3002.0,867.5" fill="#6373b0" stroke="#6373b0" stroke-width="4" stroke-linejoin="round"/>
<polygon points="3032.0,767.5 3072.0,760.0 3107.0,832.5 3092.0,845.0 3047.0,832.5" fill="#c25c5c" stroke="#c25c5c" stroke-width="4" stroke-linejoin="round"/>
<polygon points="3104.3,830.9 3172.0,777.3 3197.7,809.5 3196.9,827.3 3213.5,843.1 3214.1,853.6 3149.4,864.5 3128.9,848.7 3113.0,854.6 3092.5,847.5" fill="#38447a" stroke="#38447a" stroke-width="4" stroke-linejoin="round"/>
<polygon points="2892.0,865.0 2914.5,832.5 2942.0,806.5 2977.0,809.0 3002.0,865.0 2974.5,875.0 2974.5,890.0 2937.0,902.5 2927.0,887.5" fill="#38447a" stroke="#38447a" stroke-width="4" stroke-linejoin="round"/>
<polygon points="3007.0,867.5 3047.0,847.5 3069.5,855.0 3024.5,890.0" fill="#981b30" stroke="#981b30" stroke-width="4" stroke-linejoin="round"/>
<polygon points="2857.0,880.0 2892.0,867.5 2937.0,902.5 3002.0,867.5 3024.5,895.0 3042.0,922.5 3055.5,950.0 3052.0,975.0 2999.5,987.5 2994.5,980.0 2960.5,990.0 2957.0,967.5 2942.0,960.0 2932.0,935.0 2917.0,925.0 2892.0,935.0 2864.5,940.0" fill="#9da8cb" stroke="#9da8cb" stroke-width="4" stroke-linejoin="round"/>
<polygon points="3024.5,895.0 3072.0,852.5 3112.0,857.5 3107.0,902.5 3108.0,945.0 3100.5,971.0 3070.5,987.5 3052.0,975.0 3055.5,950.0 3042.0,922.5" fill="#6373b0" stroke="#6373b0" stroke-width="4" stroke-linejoin="round"/>
<polygon points="3112.0,857.5 3137.0,847.5 3215.7,857.3 3235.6,877.4 3275.9,904.8 3219.5,947.5 3204.5,940.0 3179.5,945.0 3144.5,950.0 3134.5,977.5 3099.5,971.0 3108.0,945.0 3107.0,902.5" fill="#6373b0" stroke="#6373b0" stroke-width="4" stroke-linejoin="round"/>
<polygon points="2859.5,955.0 2917.0,927.5 2954.5,967.5 2962.0,1000.0 2897.0,1037.5" fill="#dfa4a4" stroke="#dfa4a4" stroke-width="4" stroke-linejoin="round"/>
<polygon points="2817.0,1010.0 2859.5,955.0 2897.0,1037.5 2839.5,1070.0" fill="#9da8cb" stroke="#9da8cb" stroke-width="4" stroke-linejoin="round"/>
<polygon points="2962.0,1000.0 2999.5,987.5 3072.0,987.5 3092.0,972.5 3132.0,980.0 3164.5,1035.0 3184.5,1080.0 3174.5,1115.0 3164.5,1112.5 3117.0,1105.0 3092.0,1112.5 3077.0,1097.5 3027.0,1105.0 3012.0,1107.5 3027.0,1070.0 3024.5,1030.0 2982.0,1002.5" fill="#c25c5c" stroke="#c25c5c" stroke-width="4" stroke-linejoin="round"/>
<polygon points="3117.0,1102.5 3129.5,1050.0 3159.5,1042.5 3184.5,1080.0 3174.5,1115.0" fill="#981b30" stroke="#981b30" stroke-width="4" stroke-linejoin="round"/>
<polygon points="3134.5,980.0 3219.5,942.5 3199.5,1015.0 3167.0,1032.5 3144.5,1010.0" fill="#c25c5c" stroke="#c25c5c" stroke-width="4" stroke-linejoin="round"/>
<polygon points="3199.5,1012.5 3222.0,945.0 3274.0,903.6 3294.5,944.7 3308.6,987.9 3309.6,1017.4 3272.0,1060.0" fill="#dfa4a4" stroke="#dfa4a4" stroke-width="4" stroke-linejoin="round"/>
<polygon points="3167.0,1032.5 3199.5,1015.0 3272.0,1060.0 3292.0,1127.5 3219.5,1145.0 3174.5,1115.0 3184.5,1080.0" fill="#c25c5c" stroke="#c25c5c" stroke-width="4" stroke-linejoin="round"/>
<polygon points="2967.0,1152.5 2979.5,1140.0 3012.0,1107.5 3027.0,1110.0 3042.0,1190.0 3052.0,1197.5 3024.5,1205.0" fill="#c25c5c" stroke="#c25c5c" stroke-width="4" stroke-linejoin="round"/>
<polygon points="3167.0,1117.5 3202.0,1120.0 3222.0,1160.0 3197.0,1175.0 3174.5,1160.0" fill="#c25c5c" stroke="#c25c5c" stroke-width="4" stroke-linejoin="round"/>
<polygon points="2952.0,1245.0 2984.5,1240.0 2984.5,1272.5 3034.5,1272.5 3032.0,1350.0 2992.0,1350.0 2987.0,1340.0 2919.5,1332.5 2947.0,1275.0" fill="#c25c5c" stroke="#c25c5c" stroke-width="4" stroke-linejoin="round"/>
<polygon points="3306.5,1158.0 3372.3,1125.0 3372.3,1120.0 3392.2,1149.6 3457.0,1170.0 3457.0,1185.0 3390.9,1265.1 3356.5,1261.5 3354.5,1225.5 3342.0,1211.5 3331.5,1211.5" fill="#6373b0" stroke="#6373b0" stroke-width="4" stroke-linejoin="round"/>
<polygon points="3211.5,1186.5 3229.5,1168.5 3249.0,1183.0 3270.5,1197.0 3292.0,1200.5 3306.5,1218.5 3338.5,1250.5 3356.5,1261.5 3390.9,1265.1 3380.0,1311.1 3349.0,1304.5 3342.0,1286.5 3288.5,1279.5 3242.0,1250.5 3224.0,1218.5" fill="#6373b0" stroke="#6373b0" stroke-width="4" stroke-linejoin="round"/>
<polygon points="3174.5,1240.0 3214.5,1185.0 3222.0,1210.0 3242.0,1247.5 3279.5,1270.0 3262.0,1297.5 3242.0,1305.0" fill="#c25c5c" stroke="#c25c5c" stroke-width="4" stroke-linejoin="round"/>
<polygon points="3242.0,1305.0 3279.5,1270.0 3292.0,1272.5 3344.5,1287.5 3376.5,1319.5 3359.9,1365.5 3299.5,1367.5 3252.0,1340.0" fill="#dfa4a4" stroke="#dfa4a4" stroke-width="4" stroke-linejoin="round"/>
<polygon points="3224.5,1352.5 3247.0,1332.5 3292.0,1365.0 3359.9,1365.5 3340.6,1417.2 3337.3,1421.5 3333.7,1443.4 3292.0,1445.0 3222.0,1405.0" fill="#c25c5c" stroke="#c25c5c" stroke-width="4" stroke-linejoin="round"/>
<polygon points="3184.5,1430.0 3222.0,1405.0 3292.0,1445.0 3333.7,1443.4 3314.4,1510.1 3322.0,1507.5 3263.2,1531.5 3217.0,1517.3 3194.4,1503.1 3192.0,1460.0" fill="#c25c5c" stroke="#c25c5c" stroke-width="4" stroke-linejoin="round"/>
<polygon points="2909.5,1405.0 2954.5,1397.5 3019.5,1397.5 3042.0,1440.0 3064.5,1460.0 3072.0,1563.7 3042.0,1561.8 3037.0,1520.0 2992.0,1510.0 2982.0,1490.0 2947.0,1482.5 2942.0,1462.5 2912.0,1455.0" fill="#c25c5c" stroke="#c25c5c" stroke-width="4" stroke-linejoin="round"/>
<polygon points="2787.0,1435.0 2909.0,1435.0 2910.5,1455.0 2945.5,1461.5 2944.5,1480.0 2922.0,1490.0 2919.5,1553.9 2787.0,1546.3" fill="#dfa4a4" stroke="#dfa4a4" stroke-width="4" stroke-linejoin="round"/>
<polygon points="2445.8,892.7 2539.5,867.5 2542.0,957.5 2459.3,963.5" fill="#c25c5c" stroke="#c25c5c" stroke-width="4" stroke-linejoin="round"/>
<polygon points="2542.0,867.5 2614.5,867.5 2616.0,960.0 2592.0,967.5 2542.0,957.5" fill="#dfa4a4" stroke="#dfa4a4" stroke-width="4" stroke-linejoin="round"/>
<polygon points="2617.0,930.0 2702.0,930.0 2699.5,965.0 2687.0,1002.5 2662.0,995.0 2642.0,982.5 2617.0,957.5" fill="#c25c5c" stroke="#c25c5c" stroke-width="4" stroke-linejoin="round"/>
<polygon points="2674.5,875.0 2717.0,872.5 2717.0,940.0 2702.0,942.5 2702.0,930.0 2674.5,927.5" fill="#c25c5c" stroke="#c25c5c" stroke-width="4" stroke-linejoin="round"/>
<polygon points="2772.0,890.0 2854.5,880.0 2864.5,937.5 2837.0,965.0 2789.5,940.0" fill="#c25c5c" stroke="#c25c5c" stroke-width="4" stroke-linejoin="round"/>
<polygon points="2754.5,970.0 2787.0,942.5 2837.0,975.0 2814.5,1012.5 2792.0,1002.5" fill="#6373b0" stroke="#6373b0" stroke-width="4" stroke-linejoin="round"/>
<polygon points="2574.5,967.5 2614.5,960.0 2662.0,995.0 2634.5,1040.0 2574.5,1052.5" fill="#6373b0" stroke="#6373b0" stroke-width="4" stroke-linejoin="round"/>
<polygon points="2632.0,1042.5 2662.0,995.0 2702.0,1010.0 2724.5,1047.5 2692.0,1085.0 2672.0,1087.5 2642.0,1085.0" fill="#c25c5c" stroke="#c25c5c" stroke-width="4" stroke-linejoin="round"/>
<polygon points="2482.5,1036.0 2572.0,1035.0 2572.0,1052.5 2554.5,1077.5 2500.2,1085.0" fill="#6373b0" stroke="#6373b0" stroke-width="4" stroke-linejoin="round"/>
<polygon points="2494.6,1099.4 2500.7,1088.8 2554.5,1077.5 2584.5,1055.0 2584.5,1127.5 2515.6,1117.2 2512.0,1110.0" fill="#dfa4a4" stroke="#dfa4a4" stroke-width="4" stroke-linejoin="round"/>
<polygon points="2584.5,1055.0 2632.0,1042.5 2642.0,1085.0 2632.0,1145.0 2614.5,1150.0 2592.0,1127.5" fill="#dfa4a4" stroke="#dfa4a4" stroke-width="4" stroke-linejoin="round"/>
<polygon points="2672.0,1090.0 2702.0,1055.0 2722.0,1052.5 2759.5,1060.0 2762.0,1110.0 2724.5,1140.0 2687.0,1120.0" fill="#38447a" stroke="#38447a" stroke-width="4" stroke-linejoin="round"/>
<polygon points="2724.5,1050.0 2782.0,1007.5 2794.5,1007.5 2792.0,1060.0 2764.5,1065.0" fill="#9da8cb" stroke="#9da8cb" stroke-width="4" stroke-linejoin="round"/>
<polygon points="2764.5,1065.0 2792.0,1060.0 2794.5,1007.5 2827.0,1025.0 2837.0,1085.0 2814.5,1112.5 2764.5,1112.5" fill="#c25c5c" stroke="#c25c5c" stroke-width="4" stroke-linejoin="round"/>
<polygon points="2857.0,880.0 2932.0,895.0 2937.0,945.0 2912.0,925.0 2864.5,940.0" fill="#9da8cb" stroke="#9da8cb" stroke-width="4" stroke-linejoin="round"/>
<polygon points="2897.0,1040.0 2979.5,1002.5 3024.5,1030.0 3022.0,1055.0 3009.5,1102.5 2967.0,1152.5 2937.0,1100.0" fill="#c25c5c" stroke="#c25c5c" stroke-width="4" stroke-linejoin="round"/>
<polygon points="2967.0,1155.0 3027.0,1105.0 3037.0,1190.0 3022.0,1210.0" fill="#c25c5c" stroke="#c25c5c" stroke-width="4" stroke-linejoin="round"/>
<polygon points="2487.6,1143.2 2509.2,1119.4 2584.5,1127.5 2584.5,1207.5 2529.5,1211.0 2480.5,1185.3" fill="#6373b0" stroke="#6373b0" stroke-width="4" stroke-linejoin="round"/>
<polygon points="2587.0,1135.0 2612.0,1150.0 2632.0,1150.0 2632.0,1207.5 2587.0,1210.0" fill="#dfa4a4" stroke="#dfa4a4" stroke-width="4" stroke-linejoin="round"/>
<polygon points="2632.0,1146.0 2689.5,1146.0 2724.5,1141.0 2744.5,1210.0 2667.0,1212.5 2657.0,1212.5 2632.0,1207.5" fill="#9da8cb" stroke="#9da8cb" stroke-width="4" stroke-linejoin="round"/>
<polygon points="2724.5,1140.0 2762.0,1115.0 2814.5,1112.5 2814.5,1182.5 2742.0,1182.5" fill="#9da8cb" stroke="#9da8cb" stroke-width="4" stroke-linejoin="round"/>
<polygon points="2742.0,1182.5 2814.5,1182.5 2814.5,1237.5 2772.0,1240.0 2744.5,1232.5" fill="#c25c5c" stroke="#c25c5c" stroke-width="4" stroke-linejoin="round"/>
<polygon points="2466.3,1214.7 2479.5,1188.3 2527.0,1210.0 2529.5,1242.5 2464.6,1242.5" fill="#9da8cb" stroke="#9da8cb" stroke-width="4" stroke-linejoin="round"/>
<polygon points="2519.5,1212.5 2597.0,1212.5 2597.0,1250.0 2609.5,1270.0 2607.0,1287.5 2522.0,1287.5" fill="#6373b0" stroke="#6373b0" stroke-width="4" stroke-linejoin="round"/>
<polygon points="2597.0,1215.0 2632.0,1210.0 2657.0,1212.5 2667.0,1245.0 2667.0,1285.0 2607.0,1287.5 2609.5,1270.0 2597.0,1250.0" fill="#6373b0" stroke="#6373b0" stroke-width="4" stroke-linejoin="round"/>
<polygon points="2464.6,1245.0 2519.5,1245.0 2522.0,1287.5 2549.5,1290.0 2549.5,1317.5 2477.3,1326.2 2468.0,1287.2" fill="#6373b0" stroke="#6373b0" stroke-width="4" stroke-linejoin="round"/>
<polygon points="2552.0,1289.0 2629.5,1289.0 2629.5,1335.0 2557.0,1335.0" fill="#6373b0" stroke="#6373b0" stroke-width="4" stroke-linejoin="round"/>
<polygon points="2632.0,1289.0 2727.0,1285.0 2727.0,1330.0 2632.0,1335.0" fill="#38447a" stroke="#38447a" stroke-width="4" stroke-linejoin="round"/>
<polygon points="2477.3,1326.2 2549.5,1317.5 2557.0,1335.0 2632.0,1335.0 2697.0,1332.5 2677.0,1355.0 2652.0,1370.0 2617.0,1410.0 2612.0,1427.5 2490.3,1433.0 2469.5,1382.5" fill="#9da8cb" stroke="#9da8cb" stroke-width="4" stroke-linejoin="round"/>
<polygon points="2617.0,1427.5 2652.0,1370.0 2697.0,1332.5 2729.5,1330.0 2729.5,1427.5" fill="#dfa4a4" stroke="#dfa4a4" stroke-width="4" stroke-linejoin="round"/>
<polygon points="2527.0,1380.0 2609.5,1380.0 2609.5,1425.0 2527.0,1425.0" fill="#981b30" stroke="#981b30" stroke-width="4" stroke-linejoin="round"/>
<polygon points="2491.1,1433.6 2704.5,1430.0 2787.0,1437.5 2787.0,1546.3 2532.9,1528.9 2511.3,1488.0" fill="#c25c5c" stroke="#c25c5c" stroke-width="4" stroke-linejoin="round"/>
<polygon points="2787.0,1437.5 2847.0,1437.5 2907.0,1435.0 2942.0,1460.0 2942.0,1482.5 2919.5,1490.0 2919.5,1553.9 2787.0,1546.3" fill="#dfa4a4" stroke="#dfa4a4" stroke-width="4" stroke-linejoin="round"/>
<polygon points="2904.5,1212.5 2967.0,1155.0 3022.0,1210.0 2979.5,1240.0 2904.5,1227.5" fill="#c25c5c" stroke="#c25c5c" stroke-width="4" stroke-linejoin="round"/>
<polygon points="2772.0,1237.5 2847.0,1235.0 2844.5,1275.0 2837.0,1295.0 2802.0,1300.0 2772.0,1280.0" fill="#c25c5c" stroke="#c25c5c" stroke-width="4" stroke-linejoin="round"/>
<polygon points="2847.0,1235.0 2949.5,1245.0 2949.5,1272.5 2882.0,1275.0 2877.0,1247.5 2849.5,1247.5" fill="#c25c5c" stroke="#c25c5c" stroke-width="4" stroke-linejoin="round"/>
<polygon points="2917.0,1335.0 2947.0,1275.0 2952.0,1245.0 2982.0,1245.0 2987.0,1272.5 3034.5,1272.5 3037.0,1350.0 2987.0,1350.0 2984.5,1340.0" fill="#c25c5c" stroke="#c25c5c" stroke-width="4" stroke-linejoin="round"/>
<polygon points="2859.5,955.0 2912.0,925.0 2937.0,945.0 2959.5,972.5 2959.5,1002.5 2897.0,1035.0 2872.0,990.0" fill="#dfa4a4" stroke="#dfa4a4" stroke-width="4" stroke-linejoin="round"/>
<polygon points="2564.5,646.0 2637.0,644.0 2646.0,672.5 2633.5,680.0 2602.0,730.0 2597.0,717.5 2567.0,720.0" fill="none" stroke="#f3dfe2" stroke-opacity="0.75" stroke-width="2.2" stroke-linejoin="round"/>
<polygon points="2531.0,724.0 2597.0,717.5 2602.0,730.0 2572.0,760.0 2544.5,777.5 2531.0,776.0" fill="none" stroke="#f3dfe2" stroke-opacity="0.75" stroke-width="2.2" stroke-linejoin="round"/>
<polygon points="2639.5,646.0 2652.0,617.5 2668.5,617.5 2670.5,635.0 2704.5,649.0 2667.0,672.5 2646.0,672.5" fill="none" stroke="#f3dfe2" stroke-opacity="0.75" stroke-width="2.2" stroke-linejoin="round"/>
<polygon points="2544.5,792.5 2572.0,761.0 2603.0,730.0 2633.5,680.0 2646.0,672.5 2653.0,674.0 2652.0,755.0 2631.0,757.5 2627.0,782.5 2592.0,785.0" fill="none" stroke="#f3dfe2" stroke-opacity="0.75" stroke-width="2.2" stroke-linejoin="round"/>
<polygon points="2653.0,675.0 2667.0,675.0 2721.0,730.0 2702.0,762.5 2653.0,755.0" fill="none" stroke="#f3dfe2" stroke-opacity="0.75" stroke-width="2.2" stroke-linejoin="round"/>
<polygon points="2631.0,757.5 2672.0,759.0 2668.0,785.0 2659.5,812.5 2649.5,812.5 2646.0,830.0 2644.5,800.0 2628.0,784.0" fill="none" stroke="#f3dfe2" stroke-opacity="0.75" stroke-width="2.2" stroke-linejoin="round"/>
<polygon points="2667.0,675.0 2704.5,650.0 2717.0,621.0 2764.5,635.0 2772.0,685.0 2739.5,722.5 2721.0,730.0" fill="none" stroke="#f3dfe2" stroke-opacity="0.75" stroke-width="2.2" stroke-linejoin="round"/>
<polygon points="2697.0,762.5 2724.5,724.0 2744.5,735.0 2732.0,770.0 2719.5,785.0" fill="none" stroke="#f3dfe2" stroke-opacity="0.75" stroke-width="2.2" stroke-linejoin="round"/>
<polygon points="2672.0,759.0 2697.0,762.5 2719.5,785.0 2747.0,814.0 2722.0,840.0 2702.0,846.0 2687.0,836.5 2649.5,832.5 2659.5,812.5 2668.0,785.0" fill="none" stroke="#f3dfe2" stroke-opacity="0.75" stroke-width="2.2" stroke-linejoin="round"/>
<polygon points="2719.5,785.0 2732.0,770.0 2744.5,735.0 2802.0,772.5 2799.5,805.0 2759.5,822.5 2747.0,814.0" fill="none" stroke="#f3dfe2" stroke-opacity="0.75" stroke-width="2.2" stroke-linejoin="round"/>
<polygon points="2634.5,835.0 2684.5,836.5 2702.0,847.5 2699.5,865.0 2679.5,872.5 2622.0,874.0 2618.5,860.0" fill="none" stroke="#f3dfe2" stroke-opacity="0.75" stroke-width="2.2" stroke-linejoin="round"/>
<polygon points="2837.0,672.5 2872.0,657.5 2892.0,667.5 2896.0,687.5 2884.5,702.5 2872.0,695.0" fill="none" stroke="#f3dfe2" stroke-opacity="0.75" stroke-width="2.2" stroke-linejoin="round"/>
<polygon points="2862.0,742.5 2897.0,730.0 2957.0,755.0 2942.0,795.0 2947.0,807.5 2917.0,830.0 2892.0,805.0" fill="none" stroke="#f3dfe2" stroke-opacity="0.75" stroke-width="2.2" stroke-linejoin="round"/>
<polygon points="2927.0,605.0 3010.3,580.4 3021.5,617.1 3052.2,663.2 2984.5,671.0 2952.0,625.0" fill="none" stroke="#f3dfe2" stroke-opacity="0.75" stroke-width="2.2" stroke-linejoin="round"/>
<polygon points="2952.0,720.0 2992.0,670.0 3052.9,665.5 3062.0,760.0 3032.0,765.0 3007.0,767.5 2979.5,760.0 2957.0,740.0" fill="none" stroke="#f3dfe2" stroke-opacity="0.75" stroke-width="2.2" stroke-linejoin="round"/>
<polygon points="3052.9,665.5 3120.0,715.7 3131.5,740.3 3074.5,757.5 3062.0,760.0" fill="none" stroke="#f3dfe2" stroke-opacity="0.75" stroke-width="2.2" stroke-linejoin="round"/>
<polygon points="2949.5,772.5 2979.5,760.0 3014.5,770.0 2997.0,795.0 2982.0,805.0 2952.0,805.0" fill="none" stroke="#f3dfe2" stroke-opacity="0.75" stroke-width="2.2" stroke-linejoin="round"/>
<polygon points="2983.0,807.5 3014.5,769.0 3032.0,770.0 3044.5,830.0 3077.0,845.0 3012.0,862.5 3002.0,867.5" fill="none" stroke="#f3dfe2" stroke-opacity="0.75" stroke-width="2.2" stroke-linejoin="round"/>
<polygon points="3032.0,767.5 3072.0,760.0 3107.0,832.5 3092.0,845.0 3047.0,832.5" fill="none" stroke="#f3dfe2" stroke-opacity="0.75" stroke-width="2.2" stroke-linejoin="round"/>
<polygon points="3104.3,830.9 3172.0,777.3 3197.7,809.5 3196.9,827.3 3213.5,843.1 3214.1,853.6 3149.4,864.5 3128.9,848.7 3113.0,854.6 3092.5,847.5" fill="none" stroke="#f3dfe2" stroke-opacity="0.75" stroke-width="2.2" stroke-linejoin="round"/>
<polygon points="2892.0,865.0 2914.5,832.5 2942.0,806.5 2977.0,809.0 3002.0,865.0 2974.5,875.0 2974.5,890.0 2937.0,902.5 2927.0,887.5" fill="none" stroke="#f3dfe2" stroke-opacity="0.75" stroke-width="2.2" stroke-linejoin="round"/>
<polygon points="3007.0,867.5 3047.0,847.5 3069.5,855.0 3024.5,890.0" fill="none" stroke="#f3dfe2" stroke-opacity="0.75" stroke-width="2.2" stroke-linejoin="round"/>
<polygon points="2857.0,880.0 2892.0,867.5 2937.0,902.5 3002.0,867.5 3024.5,895.0 3042.0,922.5 3055.5,950.0 3052.0,975.0 2999.5,987.5 2994.5,980.0 2960.5,990.0 2957.0,967.5 2942.0,960.0 2932.0,935.0 2917.0,925.0 2892.0,935.0 2864.5,940.0" fill="none" stroke="#f3dfe2" stroke-opacity="0.75" stroke-width="2.2" stroke-linejoin="round"/>
<polygon points="3024.5,895.0 3072.0,852.5 3112.0,857.5 3107.0,902.5 3108.0,945.0 3100.5,971.0 3070.5,987.5 3052.0,975.0 3055.5,950.0 3042.0,922.5" fill="none" stroke="#f3dfe2" stroke-opacity="0.75" stroke-width="2.2" stroke-linejoin="round"/>
<polygon points="3112.0,857.5 3137.0,847.5 3215.7,857.3 3235.6,877.4 3275.9,904.8 3219.5,947.5 3204.5,940.0 3179.5,945.0 3144.5,950.0 3134.5,977.5 3099.5,971.0 3108.0,945.0 3107.0,902.5" fill="none" stroke="#f3dfe2" stroke-opacity="0.75" stroke-width="2.2" stroke-linejoin="round"/>
<polygon points="2859.5,955.0 2917.0,927.5 2954.5,967.5 2962.0,1000.0 2897.0,1037.5" fill="none" stroke="#f3dfe2" stroke-opacity="0.75" stroke-width="2.2" stroke-linejoin="round"/>
<polygon points="2817.0,1010.0 2859.5,955.0 2897.0,1037.5 2839.5,1070.0" fill="none" stroke="#f3dfe2" stroke-opacity="0.75" stroke-width="2.2" stroke-linejoin="round"/>
<polygon points="2962.0,1000.0 2999.5,987.5 3072.0,987.5 3092.0,972.5 3132.0,980.0 3164.5,1035.0 3184.5,1080.0 3174.5,1115.0 3164.5,1112.5 3117.0,1105.0 3092.0,1112.5 3077.0,1097.5 3027.0,1105.0 3012.0,1107.5 3027.0,1070.0 3024.5,1030.0 2982.0,1002.5" fill="none" stroke="#f3dfe2" stroke-opacity="0.75" stroke-width="2.2" stroke-linejoin="round"/>
<polygon points="3117.0,1102.5 3129.5,1050.0 3159.5,1042.5 3184.5,1080.0 3174.5,1115.0" fill="none" stroke="#f3dfe2" stroke-opacity="0.75" stroke-width="2.2" stroke-linejoin="round"/>
<polygon points="3134.5,980.0 3219.5,942.5 3199.5,1015.0 3167.0,1032.5 3144.5,1010.0" fill="none" stroke="#f3dfe2" stroke-opacity="0.75" stroke-width="2.2" stroke-linejoin="round"/>
<polygon points="3199.5,1012.5 3222.0,945.0 3274.0,903.6 3294.5,944.7 3308.6,987.9 3309.6,1017.4 3272.0,1060.0" fill="none" stroke="#f3dfe2" stroke-opacity="0.75" stroke-width="2.2" stroke-linejoin="round"/>
<polygon points="3167.0,1032.5 3199.5,1015.0 3272.0,1060.0 3292.0,1127.5 3219.5,1145.0 3174.5,1115.0 3184.5,1080.0" fill="none" stroke="#f3dfe2" stroke-opacity="0.75" stroke-width="2.2" stroke-linejoin="round"/>
<polygon points="2967.0,1152.5 2979.5,1140.0 3012.0,1107.5 3027.0,1110.0 3042.0,1190.0 3052.0,1197.5 3024.5,1205.0" fill="none" stroke="#f3dfe2" stroke-opacity="0.75" stroke-width="2.2" stroke-linejoin="round"/>
<polygon points="3167.0,1117.5 3202.0,1120.0 3222.0,1160.0 3197.0,1175.0 3174.5,1160.0" fill="none" stroke="#f3dfe2" stroke-opacity="0.75" stroke-width="2.2" stroke-linejoin="round"/>
<polygon points="2952.0,1245.0 2984.5,1240.0 2984.5,1272.5 3034.5,1272.5 3032.0,1350.0 2992.0,1350.0 2987.0,1340.0 2919.5,1332.5 2947.0,1275.0" fill="none" stroke="#f3dfe2" stroke-opacity="0.75" stroke-width="2.2" stroke-linejoin="round"/>
<polygon points="3306.5,1158.0 3372.3,1125.0 3372.3,1120.0 3392.2,1149.6 3457.0,1170.0 3457.0,1185.0 3390.9,1265.1 3356.5,1261.5 3354.5,1225.5 3342.0,1211.5 3331.5,1211.5" fill="none" stroke="#f3dfe2" stroke-opacity="0.75" stroke-width="2.2" stroke-linejoin="round"/>
<polygon points="3211.5,1186.5 3229.5,1168.5 3249.0,1183.0 3270.5,1197.0 3292.0,1200.5 3306.5,1218.5 3338.5,1250.5 3356.5,1261.5 3390.9,1265.1 3380.0,1311.1 3349.0,1304.5 3342.0,1286.5 3288.5,1279.5 3242.0,1250.5 3224.0,1218.5" fill="none" stroke="#f3dfe2" stroke-opacity="0.75" stroke-width="2.2" stroke-linejoin="round"/>
<polygon points="3174.5,1240.0 3214.5,1185.0 3222.0,1210.0 3242.0,1247.5 3279.5,1270.0 3262.0,1297.5 3242.0,1305.0" fill="none" stroke="#f3dfe2" stroke-opacity="0.75" stroke-width="2.2" stroke-linejoin="round"/>
<polygon points="3242.0,1305.0 3279.5,1270.0 3292.0,1272.5 3344.5,1287.5 3376.5,1319.5 3359.9,1365.5 3299.5,1367.5 3252.0,1340.0" fill="none" stroke="#f3dfe2" stroke-opacity="0.75" stroke-width="2.2" stroke-linejoin="round"/>
<polygon points="3224.5,1352.5 3247.0,1332.5 3292.0,1365.0 3359.9,1365.5 3340.6,1417.2 3337.3,1421.5 3333.7,1443.4 3292.0,1445.0 3222.0,1405.0" fill="none" stroke="#f3dfe2" stroke-opacity="0.75" stroke-width="2.2" stroke-linejoin="round"/>
<polygon points="3184.5,1430.0 3222.0,1405.0 3292.0,1445.0 3333.7,1443.4 3314.4,1510.1 3322.0,1507.5 3263.2,1531.5 3217.0,1517.3 3194.4,1503.1 3192.0,1460.0" fill="none" stroke="#f3dfe2" stroke-opacity="0.75" stroke-width="2.2" stroke-linejoin="round"/>
<polygon points="2909.5,1405.0 2954.5,1397.5 3019.5,1397.5 3042.0,1440.0 3064.5,1460.0 3072.0,1563.7 3042.0,1561.8 3037.0,1520.0 2992.0,1510.0 2982.0,1490.0 2947.0,1482.5 2942.0,1462.5 2912.0,1455.0" fill="none" stroke="#f3dfe2" stroke-opacity="0.75" stroke-width="2.2" stroke-linejoin="round"/>
<polygon points="2787.0,1435.0 2909.0,1435.0 2910.5,1455.0 2945.5,1461.5 2944.5,1480.0 2922.0,1490.0 2919.5,1553.9 2787.0,1546.3" fill="none" stroke="#f3dfe2" stroke-opacity="0.75" stroke-width="2.2" stroke-linejoin="round"/>
<polygon points="2445.8,892.7 2539.5,867.5 2542.0,957.5 2459.3,963.5" fill="none" stroke="#f3dfe2" stroke-opacity="0.75" stroke-width="2.2" stroke-linejoin="round"/>
<polygon points="2542.0,867.5 2614.5,867.5 2616.0,960.0 2592.0,967.5 2542.0,957.5" fill="none" stroke="#f3dfe2" stroke-opacity="0.75" stroke-width="2.2" stroke-linejoin="round"/>
<polygon points="2617.0,930.0 2702.0,930.0 2699.5,965.0 2687.0,1002.5 2662.0,995.0 2642.0,982.5 2617.0,957.5" fill="none" stroke="#f3dfe2" stroke-opacity="0.75" stroke-width="2.2" stroke-linejoin="round"/>
<polygon points="2674.5,875.0 2717.0,872.5 2717.0,940.0 2702.0,942.5 2702.0,930.0 2674.5,927.5" fill="none" stroke="#f3dfe2" stroke-opacity="0.75" stroke-width="2.2" stroke-linejoin="round"/>
<polygon points="2772.0,890.0 2854.5,880.0 2864.5,937.5 2837.0,965.0 2789.5,940.0" fill="none" stroke="#f3dfe2" stroke-opacity="0.75" stroke-width="2.2" stroke-linejoin="round"/>
<polygon points="2754.5,970.0 2787.0,942.5 2837.0,975.0 2814.5,1012.5 2792.0,1002.5" fill="none" stroke="#f3dfe2" stroke-opacity="0.75" stroke-width="2.2" stroke-linejoin="round"/>
<polygon points="2574.5,967.5 2614.5,960.0 2662.0,995.0 2634.5,1040.0 2574.5,1052.5" fill="none" stroke="#f3dfe2" stroke-opacity="0.75" stroke-width="2.2" stroke-linejoin="round"/>
<polygon points="2632.0,1042.5 2662.0,995.0 2702.0,1010.0 2724.5,1047.5 2692.0,1085.0 2672.0,1087.5 2642.0,1085.0" fill="none" stroke="#f3dfe2" stroke-opacity="0.75" stroke-width="2.2" stroke-linejoin="round"/>
<polygon points="2482.5,1036.0 2572.0,1035.0 2572.0,1052.5 2554.5,1077.5 2500.2,1085.0" fill="none" stroke="#f3dfe2" stroke-opacity="0.75" stroke-width="2.2" stroke-linejoin="round"/>
<polygon points="2494.6,1099.4 2500.7,1088.8 2554.5,1077.5 2584.5,1055.0 2584.5,1127.5 2515.6,1117.2 2512.0,1110.0" fill="none" stroke="#f3dfe2" stroke-opacity="0.75" stroke-width="2.2" stroke-linejoin="round"/>
<polygon points="2584.5,1055.0 2632.0,1042.5 2642.0,1085.0 2632.0,1145.0 2614.5,1150.0 2592.0,1127.5" fill="none" stroke="#f3dfe2" stroke-opacity="0.75" stroke-width="2.2" stroke-linejoin="round"/>
<polygon points="2672.0,1090.0 2702.0,1055.0 2722.0,1052.5 2759.5,1060.0 2762.0,1110.0 2724.5,1140.0 2687.0,1120.0" fill="none" stroke="#f3dfe2" stroke-opacity="0.75" stroke-width="2.2" stroke-linejoin="round"/>
<polygon points="2724.5,1050.0 2782.0,1007.5 2794.5,1007.5 2792.0,1060.0 2764.5,1065.0" fill="none" stroke="#f3dfe2" stroke-opacity="0.75" stroke-width="2.2" stroke-linejoin="round"/>
<polygon points="2764.5,1065.0 2792.0,1060.0 2794.5,1007.5 2827.0,1025.0 2837.0,1085.0 2814.5,1112.5 2764.5,1112.5" fill="none" stroke="#f3dfe2" stroke-opacity="0.75" stroke-width="2.2" stroke-linejoin="round"/>
<polygon points="2857.0,880.0 2932.0,895.0 2937.0,945.0 2912.0,925.0 2864.5,940.0" fill="none" stroke="#f3dfe2" stroke-opacity="0.75" stroke-width="2.2" stroke-linejoin="round"/>
<polygon points="2897.0,1040.0 2979.5,1002.5 3024.5,1030.0 3022.0,1055.0 3009.5,1102.5 2967.0,1152.5 2937.0,1100.0" fill="none" stroke="#f3dfe2" stroke-opacity="0.75" stroke-width="2.2" stroke-linejoin="round"/>
<polygon points="2967.0,1155.0 3027.0,1105.0 3037.0,1190.0 3022.0,1210.0" fill="none" stroke="#f3dfe2" stroke-opacity="0.75" stroke-width="2.2" stroke-linejoin="round"/>
<polygon points="2487.6,1143.2 2509.2,1119.4 2584.5,1127.5 2584.5,1207.5 2529.5,1211.0 2480.5,1185.3" fill="none" stroke="#f3dfe2" stroke-opacity="0.75" stroke-width="2.2" stroke-linejoin="round"/>
<polygon points="2587.0,1135.0 2612.0,1150.0 2632.0,1150.0 2632.0,1207.5 2587.0,1210.0" fill="none" stroke="#f3dfe2" stroke-opacity="0.75" stroke-width="2.2" stroke-linejoin="round"/>
<polygon points="2632.0,1146.0 2689.5,1146.0 2724.5,1141.0 2744.5,1210.0 2667.0,1212.5 2657.0,1212.5 2632.0,1207.5" fill="none" stroke="#f3dfe2" stroke-opacity="0.75" stroke-width="2.2" stroke-linejoin="round"/>
<polygon points="2724.5,1140.0 2762.0,1115.0 2814.5,1112.5 2814.5,1182.5 2742.0,1182.5" fill="none" stroke="#f3dfe2" stroke-opacity="0.75" stroke-width="2.2" stroke-linejoin="round"/>
<polygon points="2742.0,1182.5 2814.5,1182.5 2814.5,1237.5 2772.0,1240.0 2744.5,1232.5" fill="none" stroke="#f3dfe2" stroke-opacity="0.75" stroke-width="2.2" stroke-linejoin="round"/>
<polygon points="2466.3,1214.7 2479.5,1188.3 2527.0,1210.0 2529.5,1242.5 2464.6,1242.5" fill="none" stroke="#f3dfe2" stroke-opacity="0.75" stroke-width="2.2" stroke-linejoin="round"/>
<polygon points="2519.5,1212.5 2597.0,1212.5 2597.0,1250.0 2609.5,1270.0 2607.0,1287.5 2522.0,1287.5" fill="none" stroke="#f3dfe2" stroke-opacity="0.75" stroke-width="2.2" stroke-linejoin="round"/>
<polygon points="2597.0,1215.0 2632.0,1210.0 2657.0,1212.5 2667.0,1245.0 2667.0,1285.0 2607.0,1287.5 2609.5,1270.0 2597.0,1250.0" fill="none" stroke="#f3dfe2" stroke-opacity="0.75" stroke-width="2.2" stroke-linejoin="round"/>
<polygon points="2464.6,1245.0 2519.5,1245.0 2522.0,1287.5 2549.5,1290.0 2549.5,1317.5 2477.3,1326.2 2468.0,1287.2" fill="none" stroke="#f3dfe2" stroke-opacity="0.75" stroke-width="2.2" stroke-linejoin="round"/>
<polygon points="2552.0,1289.0 2629.5,1289.0 2629.5,1335.0 2557.0,1335.0" fill="none" stroke="#f3dfe2" stroke-opacity="0.75" stroke-width="2.2" stroke-linejoin="round"/>
<polygon points="2632.0,1289.0 2727.0,1285.0 2727.0,1330.0 2632.0,1335.0" fill="none" stroke="#f3dfe2" stroke-opacity="0.75" stroke-width="2.2" stroke-linejoin="round"/>
<polygon points="2477.3,1326.2 2549.5,1317.5 2557.0,1335.0 2632.0,1335.0 2697.0,1332.5 2677.0,1355.0 2652.0,1370.0 2617.0,1410.0 2612.0,1427.5 2490.3,1433.0 2469.5,1382.5" fill="none" stroke="#f3dfe2" stroke-opacity="0.75" stroke-width="2.2" stroke-linejoin="round"/>
<polygon points="2617.0,1427.5 2652.0,1370.0 2697.0,1332.5 2729.5,1330.0 2729.5,1427.5" fill="none" stroke="#f3dfe2" stroke-opacity="0.75" stroke-width="2.2" stroke-linejoin="round"/>
<polygon points="2527.0,1380.0 2609.5,1380.0 2609.5,1425.0 2527.0,1425.0" fill="none" stroke="#f3dfe2" stroke-opacity="0.75" stroke-width="2.2" stroke-linejoin="round"/>
<polygon points="2491.1,1433.6 2704.5,1430.0 2787.0,1437.5 2787.0,1546.3 2532.9,1528.9 2511.3,1488.0" fill="none" stroke="#f3dfe2" stroke-opacity="0.75" stroke-width="2.2" stroke-linejoin="round"/>
<polygon points="2787.0,1437.5 2847.0,1437.5 2907.0,1435.0 2942.0,1460.0 2942.0,1482.5 2919.5,1490.0 2919.5,1553.9 2787.0,1546.3" fill="none" stroke="#f3dfe2" stroke-opacity="0.75" stroke-width="2.2" stroke-linejoin="round"/>
<polygon points="2904.5,1212.5 2967.0,1155.0 3022.0,1210.0 2979.5,1240.0 2904.5,1227.5" fill="none" stroke="#f3dfe2" stroke-opacity="0.75" stroke-width="2.2" stroke-linejoin="round"/>
<polygon points="2772.0,1237.5 2847.0,1235.0 2844.5,1275.0 2837.0,1295.0 2802.0,1300.0 2772.0,1280.0" fill="none" stroke="#f3dfe2" stroke-opacity="0.75" stroke-width="2.2" stroke-linejoin="round"/>
<polygon points="2847.0,1235.0 2949.5,1245.0 2949.5,1272.5 2882.0,1275.0 2877.0,1247.5 2849.5,1247.5" fill="none" stroke="#f3dfe2" stroke-opacity="0.75" stroke-width="2.2" stroke-linejoin="round"/>
<polygon points="2917.0,1335.0 2947.0,1275.0 2952.0,1245.0 2982.0,1245.0 2987.0,1272.5 3034.5,1272.5 3037.0,1350.0 2987.0,1350.0 2984.5,1340.0" fill="none" stroke="#f3dfe2" stroke-opacity="0.75" stroke-width="2.2" stroke-linejoin="round"/>
<polygon points="2859.5,955.0 2912.0,925.0 2937.0,945.0 2959.5,972.5 2959.5,1002.5 2897.0,1035.0 2872.0,990.0" fill="none" stroke="#f3dfe2" stroke-opacity="0.75" stroke-width="2.2" stroke-linejoin="round"/>
<polyline points="2429.5,405.0 2409.5,440.0 2392.0,497.5" fill="none" stroke="#f3dfe2" stroke-opacity="0.75" stroke-width="2.2" stroke-linejoin="round"/>
<polyline points="2449.5,402.5 2449.5,435.0 2462.0,437.5 2464.5,455.0 2494.5,470.0 2494.5,497.5" fill="none" stroke="#f3dfe2" stroke-opacity="0.75" stroke-width="2.2" stroke-linejoin="round"/>
<polyline points="2509.5,400.0 2499.5,440.0 2479.5,457.5" fill="none" stroke="#f3dfe2" stroke-opacity="0.75" stroke-width="2.2" stroke-linejoin="round"/>
<polyline points="2552.0,400.0 2549.5,437.5 2527.0,475.0 2527.0,495.0" fill="none" stroke="#f3dfe2" stroke-opacity="0.75" stroke-width="2.2" stroke-linejoin="round"/>
<polyline points="2594.5,400.0 2596.0,437.5 2587.0,470.0 2584.5,517.5" fill="none" stroke="#f3dfe2" stroke-opacity="0.75" stroke-width="2.2" stroke-linejoin="round"/>
<polyline points="2596.0,437.5 2637.0,437.5 2667.0,452.5 2677.0,475.0 2687.0,497.5 2672.0,512.5 2652.0,515.0" fill="none" stroke="#f3dfe2" stroke-opacity="0.75" stroke-width="2.2" stroke-linejoin="round"/>
<polyline points="2392.0,505.0 2492.0,507.5 2582.0,502.5 2584.5,517.5 2652.0,515.0 2679.5,507.5 2687.0,497.5" fill="none" stroke="#f3dfe2" stroke-opacity="0.75" stroke-width="2.2" stroke-linejoin="round"/>
<polyline points="2487.0,510.0 2472.0,545.0 2437.0,567.5 2424.5,585.0 2412.0,585.0" fill="none" stroke="#f3dfe2" stroke-opacity="0.75" stroke-width="2.2" stroke-linejoin="round"/>
<polyline points="2492.0,557.5 2582.0,557.5 2602.0,562.5 2669.5,562.5" fill="none" stroke="#f3dfe2" stroke-opacity="0.75" stroke-width="2.2" stroke-linejoin="round"/>
<polyline points="2489.5,510.0 2492.0,557.5 2507.0,562.5 2499.5,635.0" fill="none" stroke="#f3dfe2" stroke-opacity="0.75" stroke-width="2.2" stroke-linejoin="round"/>
<polyline points="2584.5,517.5 2584.5,640.0" fill="none" stroke="#f3dfe2" stroke-opacity="0.75" stroke-width="2.2" stroke-linejoin="round"/>
<polyline points="2652.0,515.0 2659.5,540.0 2669.5,540.0 2670.5,635.0" fill="none" stroke="#f3dfe2" stroke-opacity="0.75" stroke-width="2.2" stroke-linejoin="round"/>
<polyline points="2417.0,640.0 2452.0,635.0 2522.0,640.0 2564.5,645.0" fill="none" stroke="#f3dfe2" stroke-opacity="0.75" stroke-width="2.2" stroke-linejoin="round"/>
<polyline points="2522.0,640.0 2517.0,677.5 2497.0,687.5 2424.5,690.0" fill="none" stroke="#f3dfe2" stroke-opacity="0.75" stroke-width="2.2" stroke-linejoin="round"/>
<polyline points="2497.0,687.5 2499.5,715.0 2532.0,724.0" fill="none" stroke="#f3dfe2" stroke-opacity="0.75" stroke-width="2.2" stroke-linejoin="round"/>
<polyline points="2437.0,757.5 2497.0,740.0 2502.0,715.0" fill="none" stroke="#f3dfe2" stroke-opacity="0.75" stroke-width="2.2" stroke-linejoin="round"/>
<polyline points="2447.0,812.5 2522.0,812.5 2544.5,792.5" fill="none" stroke="#f3dfe2" stroke-opacity="0.75" stroke-width="2.2" stroke-linejoin="round"/>
<polyline points="2507.0,815.0 2522.0,865.0" fill="none" stroke="#f3dfe2" stroke-opacity="0.75" stroke-width="2.2" stroke-linejoin="round"/>
<polyline points="2674.5,872.5 2677.0,927.5" fill="none" stroke="#f3dfe2" stroke-opacity="0.75" stroke-width="2.2" stroke-linejoin="round"/>
<polyline points="2717.0,870.0 2717.0,940.0 2702.0,942.5" fill="none" stroke="#f3dfe2" stroke-opacity="0.75" stroke-width="2.2" stroke-linejoin="round"/>
<polyline points="2617.0,930.0 2702.0,930.0" fill="none" stroke="#f3dfe2" stroke-opacity="0.75" stroke-width="2.2" stroke-linejoin="round"/>
<polyline points="2702.0,965.0 2754.5,970.0 2787.0,942.5 2772.0,890.0 2757.0,870.0 2702.0,870.0" fill="none" stroke="#f3dfe2" stroke-opacity="0.75" stroke-width="2.2" stroke-linejoin="round"/>
<polyline points="2772.0,890.0 2854.5,880.0 2864.5,937.5 2837.0,965.0" fill="none" stroke="#f3dfe2" stroke-opacity="0.75" stroke-width="2.2" stroke-linejoin="round"/>
<polyline points="2757.0,820.0 2772.0,865.0 2772.0,890.0" fill="none" stroke="#f3dfe2" stroke-opacity="0.75" stroke-width="2.2" stroke-linejoin="round"/>
<polyline points="2802.0,772.5 2829.5,812.5 2829.5,877.5" fill="none" stroke="#f3dfe2" stroke-opacity="0.75" stroke-width="2.2" stroke-linejoin="round"/>
<polyline points="2829.5,812.5 2887.0,800.0 2914.5,845.0 2892.0,867.5" fill="none" stroke="#f3dfe2" stroke-opacity="0.75" stroke-width="2.2" stroke-linejoin="round"/>
<polyline points="2887.0,800.0 2872.0,770.0 2859.5,737.5" fill="none" stroke="#f3dfe2" stroke-opacity="0.75" stroke-width="2.2" stroke-linejoin="round"/>
<polyline points="2469.5,957.5 2572.0,965.0 2574.5,1035.0 2494.5,1032.5" fill="none" stroke="#f3dfe2" stroke-opacity="0.75" stroke-width="2.2" stroke-linejoin="round"/>
<polyline points="3074.5,757.5 3117.0,742.5" fill="none" stroke="#f3dfe2" stroke-opacity="0.75" stroke-width="2.2" stroke-linejoin="round"/>
<polyline points="3032.0,672.5 3112.0,726.0" fill="none" stroke="#f3dfe2" stroke-opacity="0.75" stroke-width="2.2" stroke-linejoin="round"/>
<polyline points="2692.0,870.0 2767.0,870.0 2772.0,890.0 2857.0,877.5" fill="none" stroke="#f3dfe2" stroke-opacity="0.75" stroke-width="2.2" stroke-linejoin="round"/>
<polyline points="2767.0,840.0 2772.0,890.0 2789.5,920.0 2784.5,950.0 2757.0,970.0" fill="none" stroke="#f3dfe2" stroke-opacity="0.75" stroke-width="2.2" stroke-linejoin="round"/>
<polyline points="2829.5,840.0 2829.5,877.5" fill="none" stroke="#f3dfe2" stroke-opacity="0.75" stroke-width="2.2" stroke-linejoin="round"/>
<polyline points="2692.0,967.5 2757.0,970.0" fill="none" stroke="#f3dfe2" stroke-opacity="0.75" stroke-width="2.2" stroke-linejoin="round"/>
<polyline points="2712.0,872.5 2714.5,940.0 2692.0,945.0" fill="none" stroke="#f3dfe2" stroke-opacity="0.75" stroke-width="2.2" stroke-linejoin="round"/>
<polyline points="2692.0,1010.0 2704.5,1010.0 2727.0,1050.0" fill="none" stroke="#f3dfe2" stroke-opacity="0.75" stroke-width="2.2" stroke-linejoin="round"/>
<polyline points="2839.5,1085.0 2882.0,1140.0 2874.5,1160.0 2902.0,1212.5" fill="none" stroke="#f3dfe2" stroke-opacity="0.75" stroke-width="2.2" stroke-linejoin="round"/>
<polyline points="2817.0,1157.5 2874.5,1160.0" fill="none" stroke="#f3dfe2" stroke-opacity="0.75" stroke-width="2.2" stroke-linejoin="round"/>
<polyline points="2839.5,1085.0 2874.5,1112.5 2909.5,1072.5" fill="none" stroke="#f3dfe2" stroke-opacity="0.75" stroke-width="2.2" stroke-linejoin="round"/>
<polyline points="3012.0,1107.5 3024.5,1112.5 3037.0,1150.0 3047.0,1197.5" fill="none" stroke="#f3dfe2" stroke-opacity="0.75" stroke-width="2.2" stroke-linejoin="round"/>
<polyline points="3077.0,1097.5 3064.5,1197.5" fill="none" stroke="#f3dfe2" stroke-opacity="0.75" stroke-width="2.2" stroke-linejoin="round"/>
<polyline points="3117.0,1105.0 3129.5,1140.0 3122.0,1207.5" fill="none" stroke="#f3dfe2" stroke-opacity="0.75" stroke-width="2.2" stroke-linejoin="round"/>
<polyline points="3164.5,1115.0 3192.0,1120.0 3217.0,1170.0" fill="none" stroke="#f3dfe2" stroke-opacity="0.75" stroke-width="2.2" stroke-linejoin="round"/>
<polyline points="3012.0,1107.5 3079.5,1095.0 3092.0,1112.5 3117.0,1105.0 3164.5,1115.0" fill="none" stroke="#f3dfe2" stroke-opacity="0.75" stroke-width="2.2" stroke-linejoin="round"/>
<polyline points="3028.0,1055.0 3054.5,1058.5 3087.0,1077.5 3077.0,1095.0 3092.0,1110.0 3112.0,1103.5" fill="none" stroke="#f3dfe2" stroke-opacity="0.75" stroke-width="2.2" stroke-linejoin="round"/>
<polyline points="3067.0,986.0 3057.0,1007.5 3067.0,1016.0 3037.0,1035.0 3028.0,1055.0" fill="none" stroke="#f3dfe2" stroke-opacity="0.75" stroke-width="2.2" stroke-linejoin="round"/>
<polyline points="3117.0,1102.5 3134.5,1050.0 3162.0,1042.5 3184.5,1080.0 3174.5,1115.0" fill="none" stroke="#f3dfe2" stroke-opacity="0.75" stroke-width="2.2" stroke-linejoin="round"/>
<polyline points="2804.5,1300.0 2807.0,1355.0 2832.0,1360.0 2822.0,1430.0" fill="none" stroke="#f3dfe2" stroke-opacity="0.75" stroke-width="2.2" stroke-linejoin="round"/>
<polyline points="2729.5,1360.0 2832.0,1360.0" fill="none" stroke="#f3dfe2" stroke-opacity="0.75" stroke-width="2.2" stroke-linejoin="round"/>
<polyline points="3272.0,1060.0 3292.0,1127.5 3307.0,1162.5" fill="none" stroke="#f3dfe2" stroke-opacity="0.75" stroke-width="2.2" stroke-linejoin="round"/>
<polyline points="3219.5,1145.0 3292.0,1127.5" fill="none" stroke="#f3dfe2" stroke-opacity="0.75" stroke-width="2.2" stroke-linejoin="round"/>
<polyline points="2729.5,1235.0 2769.5,1240.0 2772.0,1280.0 2802.0,1300.0" fill="none" stroke="#f3dfe2" stroke-opacity="0.75" stroke-width="2.2" stroke-linejoin="round"/>
<polyline points="2902.0,1212.5 2967.0,1155.0" fill="none" stroke="#f3dfe2" stroke-opacity="0.75" stroke-width="2.2" stroke-linejoin="round"/>
<polyline points="2729.5,1437.5 2819.5,1435.0" fill="none" stroke="#f3dfe2" stroke-opacity="0.75" stroke-width="2.2" stroke-linejoin="round"/>
<polyline points="2644.5,1430.0 2646.0,1520.0" fill="none" stroke="#f3dfe2" stroke-opacity="0.75" stroke-width="2.2" stroke-linejoin="round"/>
<polyline points="2704.5,1430.0 2712.0,1527.5" fill="none" stroke="#f3dfe2" stroke-opacity="0.75" stroke-width="2.2" stroke-linejoin="round"/>
<polyline points="2787.0,1437.5 2787.0,1532.5" fill="none" stroke="#f3dfe2" stroke-opacity="0.75" stroke-width="2.2" stroke-linejoin="round"/>
<polyline points="2567.0,1430.0 2559.5,1485.0 2542.0,1517.5" fill="none" stroke="#f3dfe2" stroke-opacity="0.75" stroke-width="2.2" stroke-linejoin="round"/>
<polyline points="2672.0,1135.0 2687.0,1145.0 2634.5,1145.0 2642.0,1085.0" fill="none" stroke="#f3dfe2" stroke-opacity="0.75" stroke-width="2.2" stroke-linejoin="round"/>
<polyline points="3005.5,865.0 3024.5,895.0 3042.0,922.5 3055.5,950.0 3052.0,975.0" fill="none" stroke="#f3dfe2" stroke-opacity="0.75" stroke-width="2.2" stroke-linejoin="round"/>
<polyline points="3112.0,857.5 3107.0,902.5 3108.0,945.0 3100.5,971.0" fill="none" stroke="#f3dfe2" stroke-opacity="0.75" stroke-width="2.2" stroke-linejoin="round"/>
<polyline points="2937.0,902.5 2932.0,935.0" fill="none" stroke="#f3dfe2" stroke-opacity="0.75" stroke-width="2.2" stroke-linejoin="round"/>
<polyline points="2692.0,405.0 2704.5,427.5 2704.5,470.0 2692.0,490.0" fill="none" stroke="#f3dfe2" stroke-opacity="0.75" stroke-width="2.2" stroke-linejoin="round"/>
<polyline points="2687.0,497.5 2692.0,490.0 2717.0,495.0 2744.5,466.0 2760.5,470.0 2763.0,528.5 2733.0,552.5 2709.5,542.5 2692.0,525.0" fill="none" stroke="#f3dfe2" stroke-opacity="0.75" stroke-width="2.2" stroke-linejoin="round"/>
<polyline points="2744.5,400.0 2749.5,417.5 2772.0,422.5 2777.0,450.0 2763.0,470.0" fill="none" stroke="#f3dfe2" stroke-opacity="0.75" stroke-width="2.2" stroke-linejoin="round"/>
<polyline points="2777.0,450.0 2802.0,450.0 2808.0,470.0 2802.0,487.5 2810.5,520.0 2802.0,528.5 2763.0,528.5" fill="none" stroke="#f3dfe2" stroke-opacity="0.75" stroke-width="2.2" stroke-linejoin="round"/>
<polyline points="2829.5,400.0 2807.0,427.5 2805.5,443.5 2802.0,450.0" fill="none" stroke="#f3dfe2" stroke-opacity="0.75" stroke-width="2.2" stroke-linejoin="round"/>
<polyline points="2805.5,443.5 2819.5,447.5 2830.5,466.0 2872.0,471.0" fill="none" stroke="#f3dfe2" stroke-opacity="0.75" stroke-width="2.2" stroke-linejoin="round"/>
<polyline points="2872.0,482.5 2849.5,533.5 2830.5,535.0 2814.5,547.5 2802.0,567.5 2809.5,587.5 2824.5,595.0 2844.5,591.0 2867.0,620.0 2869.5,655.0" fill="none" stroke="#f3dfe2" stroke-opacity="0.75" stroke-width="2.2" stroke-linejoin="round"/>
<polyline points="2802.0,528.5 2814.5,547.5" fill="none" stroke="#f3dfe2" stroke-opacity="0.75" stroke-width="2.2" stroke-linejoin="round"/>
<polyline points="2849.5,533.5 2862.0,545.0 2909.5,540.0 2925.5,521.0" fill="none" stroke="#f3dfe2" stroke-opacity="0.75" stroke-width="2.2" stroke-linejoin="round"/>
<polyline points="2862.0,545.0 2872.0,587.5 2864.5,607.5 2844.5,591.0" fill="none" stroke="#f3dfe2" stroke-opacity="0.75" stroke-width="2.2" stroke-linejoin="round"/>
<polyline points="2872.0,587.5 2887.0,593.5 2914.5,600.0 2923.0,592.5 2922.0,545.0 2934.5,535.0" fill="none" stroke="#f3dfe2" stroke-opacity="0.75" stroke-width="2.2" stroke-linejoin="round"/>
<polyline points="2923.0,592.5 2952.0,605.0 2998.0,587.5" fill="none" stroke="#f3dfe2" stroke-opacity="0.75" stroke-width="2.2" stroke-linejoin="round"/>
<polyline points="2927.0,602.5 2929.5,620.0 2964.5,665.0 3039.5,670.0" fill="none" stroke="#f3dfe2" stroke-opacity="0.75" stroke-width="2.2" stroke-linejoin="round"/>
<polyline points="2964.5,665.0 2942.0,655.0 2924.5,650.0 2894.5,663.5" fill="none" stroke="#f3dfe2" stroke-opacity="0.75" stroke-width="2.2" stroke-linejoin="round"/>
<polyline points="2732.0,552.5 2742.0,585.0 2733.0,610.0 2715.5,620.0" fill="none" stroke="#f3dfe2" stroke-opacity="0.75" stroke-width="2.2" stroke-linejoin="round"/>
<polyline points="2669.5,572.5 2737.0,576.0" fill="none" stroke="#f3dfe2" stroke-opacity="0.75" stroke-width="2.2" stroke-linejoin="round"/>
<polyline points="2809.5,587.5 2769.5,632.5 2759.5,660.0 2772.0,685.0 2807.0,687.5 2837.0,712.5 2882.0,740.0" fill="none" stroke="#f3dfe2" stroke-opacity="0.75" stroke-width="2.2" stroke-linejoin="round"/>
<polyline points="2769.5,632.5 2784.5,645.0 2824.5,655.0 2829.5,672.5 2807.0,687.5" fill="none" stroke="#f3dfe2" stroke-opacity="0.75" stroke-width="2.2" stroke-linejoin="round"/>
<polyline points="2837.0,712.5 2802.0,765.0" fill="none" stroke="#f3dfe2" stroke-opacity="0.75" stroke-width="2.2" stroke-linejoin="round"/>
<polyline points="2887.0,702.5 2887.0,727.5 2859.5,740.0" fill="none" stroke="#f3dfe2" stroke-opacity="0.75" stroke-width="2.2" stroke-linejoin="round"/>
<polyline points="3037.0,1170.0 3049.5,1200.0 3062.0,1196.0 3065.5,1170.0" fill="none" stroke="#f3dfe2" stroke-opacity="0.75" stroke-width="2.2" stroke-linejoin="round"/>
<polyline points="3127.0,1170.0 3120.5,1208.5" fill="none" stroke="#f3dfe2" stroke-opacity="0.75" stroke-width="2.2" stroke-linejoin="round"/>
<polyline points="2980.5,1235.0 3062.0,1196.0 3142.0,1220.0 3174.5,1242.5" fill="none" stroke="#f3dfe2" stroke-opacity="0.75" stroke-width="2.2" stroke-linejoin="round"/>
<polyline points="3072.0,1200.0 3072.0,1228.5 3053.0,1230.0 3053.0,1263.5 3034.5,1272.5 2984.5,1272.5 2983.0,1237.5" fill="none" stroke="#f3dfe2" stroke-opacity="0.75" stroke-width="2.2" stroke-linejoin="round"/>
<polyline points="3053.0,1263.5 3118.0,1312.5 3139.5,1326.0 3158.0,1330.0 3160.5,1350.0 3224.5,1356.0" fill="none" stroke="#f3dfe2" stroke-opacity="0.75" stroke-width="2.2" stroke-linejoin="round"/>
<polyline points="3139.5,1326.0 3138.0,1247.5 3157.0,1235.0" fill="none" stroke="#f3dfe2" stroke-opacity="0.75" stroke-width="2.2" stroke-linejoin="round"/>
<polyline points="3034.5,1272.5 3038.0,1322.5 3062.0,1325.0 3077.0,1340.0 3092.0,1335.0 3118.0,1312.5" fill="none" stroke="#f3dfe2" stroke-opacity="0.75" stroke-width="2.2" stroke-linejoin="round"/>
<polyline points="3077.0,1340.0 3085.5,1365.0 3122.0,1395.0 3169.5,1370.0 3160.5,1350.0" fill="none" stroke="#f3dfe2" stroke-opacity="0.75" stroke-width="2.2" stroke-linejoin="round"/>
<polyline points="3038.0,1322.5 3028.0,1350.0 3027.0,1372.5 3014.5,1375.0 3037.0,1441.0 3062.0,1455.0 3064.5,1490.0 3072.0,1492.5 3077.0,1550.0" fill="none" stroke="#f3dfe2" stroke-opacity="0.75" stroke-width="2.2" stroke-linejoin="round"/>
<polyline points="2842.0,1295.0 2872.0,1322.5 2915.5,1326.0 2950.5,1275.0" fill="none" stroke="#f3dfe2" stroke-opacity="0.75" stroke-width="2.2" stroke-linejoin="round"/>
<polyline points="2915.5,1326.0 2918.0,1336.0 2985.5,1341.0 2989.5,1350.0 3028.0,1350.0" fill="none" stroke="#f3dfe2" stroke-opacity="0.75" stroke-width="2.2" stroke-linejoin="round"/>
<polyline points="2872.0,1322.5 2854.5,1355.0 2854.5,1370.0 2874.5,1385.0 2884.5,1405.0 2880.5,1435.0" fill="none" stroke="#f3dfe2" stroke-opacity="0.75" stroke-width="2.2" stroke-linejoin="round"/>
<polyline points="2918.0,1336.0 2942.0,1375.0 2938.0,1397.5 2912.0,1407.5 2908.0,1420.0 2909.5,1455.0 2942.0,1461.0 2945.5,1482.5" fill="none" stroke="#f3dfe2" stroke-opacity="0.75" stroke-width="2.2" stroke-linejoin="round"/>
<polyline points="2938.0,1397.5 3019.5,1397.5" fill="none" stroke="#f3dfe2" stroke-opacity="0.75" stroke-width="2.2" stroke-linejoin="round"/>
<polyline points="2957.0,1397.5 2955.5,1481.0" fill="none" stroke="#f3dfe2" stroke-opacity="0.75" stroke-width="2.2" stroke-linejoin="round"/>
<polyline points="2919.5,1492.5 2924.5,1485.0 2955.5,1481.0 2984.5,1490.0 2994.5,1510.0 3037.0,1518.5 3042.0,1545.0" fill="none" stroke="#f3dfe2" stroke-opacity="0.75" stroke-width="2.2" stroke-linejoin="round"/>
<polyline points="3122.0,1395.0 3127.0,1422.5 3139.5,1441.0 3075.5,1441.0 3075.5,1497.5 3134.5,1497.5 3120.5,1562.0" fill="none" stroke="#f3dfe2" stroke-opacity="0.75" stroke-width="2.2" stroke-linejoin="round"/>
<polyline points="3139.5,1441.0 3154.5,1426.0 3182.0,1430.0 3202.0,1422.5 3220.5,1405.0" fill="none" stroke="#f3dfe2" stroke-opacity="0.75" stroke-width="2.2" stroke-linejoin="round"/>
<polyline points="3182.0,1430.0 3193.0,1457.5 3188.0,1488.5" fill="none" stroke="#f3dfe2" stroke-opacity="0.75" stroke-width="2.2" stroke-linejoin="round"/>
<polyline points="2589.5,1335.0 2589.5,1377.5" fill="none" stroke="#f3dfe2" stroke-opacity="0.75" stroke-width="2.2" stroke-linejoin="round"/>
<polyline points="2617.0,1425.0 2617.0,1412.5 2654.5,1370.0 2684.5,1355.0 2698.0,1331.0" fill="none" stroke="#f3dfe2" stroke-opacity="0.75" stroke-width="2.2" stroke-linejoin="round"/>
<polyline points="3222.0,945.0 3199.5,1015.0 3167.0,1032.5" fill="none" stroke="#f3dfe2" stroke-opacity="0.75" stroke-width="2.2" stroke-linejoin="round"/>
<polyline points="3199.5,1015.0 3272.0,1060.0" fill="none" stroke="#f3dfe2" stroke-opacity="0.75" stroke-width="2.2" stroke-linejoin="round"/>
<polyline points="3174.5,1240.0 3214.5,1185.0" fill="none" stroke="#f3dfe2" stroke-opacity="0.75" stroke-width="2.2" stroke-linejoin="round"/>
<polyline points="3242.0,1305.0 3279.5,1270.0" fill="none" stroke="#f3dfe2" stroke-opacity="0.75" stroke-width="2.2" stroke-linejoin="round"/>
<polyline points="3224.5,1352.5 3247.0,1332.5 3292.0,1365.0 3347.0,1365.0" fill="none" stroke="#f3dfe2" stroke-opacity="0.75" stroke-width="2.2" stroke-linejoin="round"/></g></svg>
</body></html>
